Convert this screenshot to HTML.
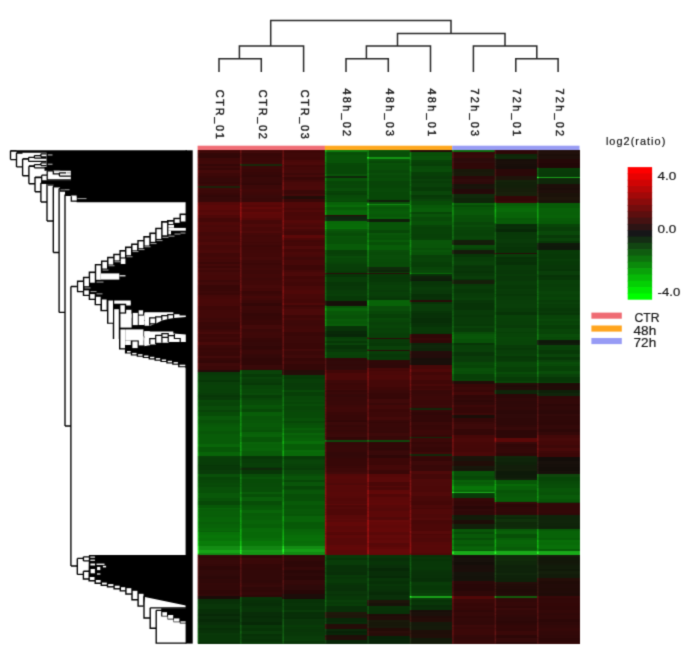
<!DOCTYPE html>
<html><head><meta charset="utf-8"><style>
html,body{margin:0;padding:0;background:#fff;width:685px;height:655px;overflow:hidden}
svg{display:block}
</style></head><body>
<svg width="685" height="655" viewBox="0 0 685 655">
<defs><filter id="sb" x="0" y="0" width="685" height="655" filterUnits="userSpaceOnUse" color-interpolation-filters="sRGB"><feConvolveMatrix order="3" kernelMatrix="0.025 0.1 0.025 0.1 0.5 0.1 0.025 0.1 0.025" edgeMode="duplicate" preserveAlpha="true"/></filter></defs>
<g filter="url(#sb)">
<rect width="685" height="655" fill="#fff"/>
<g fill="none" stroke="#262626" stroke-width="1.5"><path d="M219 72.1V58.7H261.3V72.1"/><path d="M239.4 58.7V46.1H303.6V72.1"/><path d="M270.7 46.1V20.4H451V33.5"/><path d="M346 72.1V58.7H388.3V72.1"/><path d="M366.4 58.7V46.1H430.5V72.1"/><path d="M397.5 46.1V33.5H505V46.1"/><path d="M515.8 72.1V58.7H558.1V72.1"/><path d="M536.8 58.7V46.1H473.4V72.1"/></g>
<g font-family="&quot;Liberation Sans&quot;, sans-serif" font-size="10.9" fill="#111" stroke="#111" stroke-width="0.4"><text transform="translate(216.12,89.7) rotate(90)" textLength="49.2" lengthAdjust="spacing">CTR_01</text><text transform="translate(258.55,89.7) rotate(90)" textLength="49.2" lengthAdjust="spacing">CTR_02</text><text transform="translate(300.98,89.7) rotate(90)" textLength="49.2" lengthAdjust="spacing">CTR_03</text><text transform="translate(343.41,88.6) rotate(90)" textLength="47.4" lengthAdjust="spacing">48h_02</text><text transform="translate(385.83,88.6) rotate(90)" textLength="47.4" lengthAdjust="spacing">48h_03</text><text transform="translate(428.27,88.6) rotate(90)" textLength="47.4" lengthAdjust="spacing">48h_01</text><text transform="translate(470.69,88.6) rotate(90)" textLength="47.4" lengthAdjust="spacing">72h_03</text><text transform="translate(513.12,88.6) rotate(90)" textLength="47.4" lengthAdjust="spacing">72h_01</text><text transform="translate(555.55,88.6) rotate(90)" textLength="47.4" lengthAdjust="spacing">72h_02</text></g>
<rect x="197.6" y="145.7" width="127.34" height="4.6" fill="#f06e76"/><rect x="324.89" y="145.7" width="127.34" height="4.6" fill="#ffa81e"/><rect x="452.18" y="145.7" width="127.34" height="4.6" fill="#989cf4"/>
<g><g shape-rendering="crispEdges"><rect x="197.6" y="150" width="382" height="494" fill="#200808"/><rect x="197.6" y="150" width="42.73" height="3" fill="#3e0808"/><rect x="197.6" y="153" width="42.73" height="2" fill="#320707"/><rect x="197.6" y="155" width="42.73" height="3" fill="#310707"/><rect x="197.6" y="158" width="42.73" height="3" fill="#3e0808"/><rect x="197.6" y="161" width="42.73" height="2" fill="#400808"/><rect x="197.6" y="163" width="42.73" height="1" fill="#3f0808"/><rect x="197.6" y="164" width="42.73" height="2" fill="#340707"/><rect x="197.6" y="166" width="42.73" height="2" fill="#3d0808"/><rect x="197.6" y="168" width="42.73" height="2" fill="#360707"/><rect x="197.6" y="170" width="42.73" height="3" fill="#440909"/><rect x="197.6" y="173" width="42.73" height="3" fill="#3d0808"/><rect x="197.6" y="176" width="42.73" height="2" fill="#380707"/><rect x="197.6" y="178" width="42.73" height="4" fill="#350808"/><rect x="197.6" y="182" width="42.73" height="2" fill="#330707"/><rect x="197.6" y="184" width="42.73" height="2" fill="#3b0808"/><rect x="197.6" y="186" width="42.73" height="2" fill="#1c220a"/><rect x="197.6" y="188" width="42.73" height="2" fill="#3e0808"/><rect x="197.6" y="190" width="42.73" height="3" fill="#3b0808"/><rect x="197.6" y="193" width="42.73" height="2" fill="#370707"/><rect x="197.6" y="195" width="42.73" height="2" fill="#320707"/><rect x="197.6" y="197" width="42.73" height="3" fill="#350808"/><rect x="197.6" y="200" width="42.73" height="2" fill="#370808"/><rect x="197.6" y="202" width="42.73" height="3" fill="#550808"/><rect x="197.6" y="205" width="42.73" height="5" fill="#5c0808"/><rect x="197.6" y="210" width="42.73" height="2" fill="#540808"/><rect x="197.6" y="212" width="42.73" height="3" fill="#590909"/><rect x="197.6" y="215" width="42.73" height="3" fill="#4f0808"/><rect x="197.6" y="218" width="42.73" height="4" fill="#440707"/><rect x="197.6" y="222" width="42.73" height="3" fill="#4f0808"/><rect x="197.6" y="225" width="42.73" height="2" fill="#4a0808"/><rect x="197.6" y="227" width="42.73" height="2" fill="#4d0808"/><rect x="197.6" y="229" width="42.73" height="3" fill="#4c0808"/><rect x="197.6" y="232" width="42.73" height="4" fill="#440808"/><rect x="197.6" y="236" width="42.73" height="3" fill="#490808"/><rect x="197.6" y="239" width="42.73" height="3" fill="#460808"/><rect x="197.6" y="242" width="42.73" height="3" fill="#4e0909"/><rect x="197.6" y="245" width="42.73" height="3" fill="#460808"/><rect x="197.6" y="248" width="42.73" height="2" fill="#470808"/><rect x="197.6" y="250" width="42.73" height="3" fill="#4b0909"/><rect x="197.6" y="253" width="42.73" height="4" fill="#410808"/><rect x="197.6" y="257" width="42.73" height="2" fill="#460808"/><rect x="197.6" y="259" width="42.73" height="3" fill="#430808"/><rect x="197.6" y="262" width="42.73" height="2" fill="#3b0707"/><rect x="197.6" y="264" width="42.73" height="2" fill="#440808"/><rect x="197.6" y="266" width="42.73" height="2" fill="#3d0707"/><rect x="197.6" y="268" width="42.73" height="2" fill="#450909"/><rect x="197.6" y="270" width="42.73" height="2" fill="#3f0808"/><rect x="197.6" y="272" width="42.73" height="3" fill="#450909"/><rect x="197.6" y="275" width="42.73" height="5" fill="#450808"/><rect x="197.6" y="280" width="42.73" height="2" fill="#3c0808"/><rect x="197.6" y="282" width="42.73" height="3" fill="#420909"/><rect x="197.6" y="285" width="42.73" height="4" fill="#380707"/><rect x="197.6" y="289" width="42.73" height="2" fill="#390707"/><rect x="197.6" y="291" width="42.73" height="2" fill="#3c0808"/><rect x="197.6" y="293" width="42.73" height="2" fill="#3a0707"/><rect x="197.6" y="295" width="42.73" height="2" fill="#440808"/><rect x="197.6" y="297" width="42.73" height="2" fill="#460808"/><rect x="197.6" y="299" width="42.73" height="4" fill="#480808"/><rect x="197.6" y="303" width="42.73" height="3" fill="#470808"/><rect x="197.6" y="306" width="42.73" height="4" fill="#3f0707"/><rect x="197.6" y="310" width="42.73" height="4" fill="#420808"/><rect x="197.6" y="314" width="42.73" height="4" fill="#420808"/><rect x="197.6" y="318" width="42.73" height="2" fill="#3d0808"/><rect x="197.6" y="320" width="42.73" height="2" fill="#400808"/><rect x="197.6" y="322" width="42.73" height="2" fill="#390707"/><rect x="197.6" y="324" width="42.73" height="2" fill="#3a0707"/><rect x="197.6" y="326" width="42.73" height="3" fill="#380707"/><rect x="197.6" y="329" width="42.73" height="1" fill="#3a0707"/><rect x="197.6" y="330" width="42.73" height="2" fill="#400808"/><rect x="197.6" y="332" width="42.73" height="2" fill="#470909"/><rect x="197.6" y="334" width="42.73" height="3" fill="#3d0707"/><rect x="197.6" y="337" width="42.73" height="2" fill="#400808"/><rect x="197.6" y="339" width="42.73" height="3" fill="#3d0707"/><rect x="197.6" y="342" width="42.73" height="3" fill="#490909"/><rect x="197.6" y="345" width="42.73" height="3" fill="#3c0808"/><rect x="197.6" y="348" width="42.73" height="2" fill="#380707"/><rect x="197.6" y="350" width="42.73" height="2" fill="#3a0707"/><rect x="197.6" y="352" width="42.73" height="4" fill="#380707"/><rect x="197.6" y="356" width="42.73" height="2" fill="#430909"/><rect x="197.6" y="358" width="42.73" height="2" fill="#380707"/><rect x="197.6" y="360" width="42.73" height="3" fill="#330707"/><rect x="197.6" y="363" width="42.73" height="3" fill="#3f0909"/><rect x="197.6" y="366" width="42.73" height="4" fill="#3c0808"/><rect x="197.6" y="370" width="42.73" height="2" fill="#230a08"/><rect x="197.6" y="372" width="42.73" height="3" fill="#083808"/><rect x="197.6" y="375" width="42.73" height="2" fill="#083c08"/><rect x="197.6" y="377" width="42.73" height="3" fill="#083d08"/><rect x="197.6" y="380" width="42.73" height="2" fill="#073607"/><rect x="197.6" y="382" width="42.73" height="3" fill="#093f09"/><rect x="197.6" y="385" width="42.73" height="4" fill="#084108"/><rect x="197.6" y="389" width="42.73" height="4" fill="#084008"/><rect x="197.6" y="393" width="42.73" height="2" fill="#083d08"/><rect x="197.6" y="395" width="42.73" height="2" fill="#073707"/><rect x="197.6" y="397" width="42.73" height="3" fill="#083a08"/><rect x="197.6" y="400" width="42.73" height="2" fill="#084808"/><rect x="197.6" y="402" width="42.73" height="4" fill="#084408"/><rect x="197.6" y="406" width="42.73" height="4" fill="#094c09"/><rect x="197.6" y="410" width="42.73" height="2" fill="#084308"/><rect x="197.6" y="412" width="42.73" height="2" fill="#074c07"/><rect x="197.6" y="414" width="42.73" height="2" fill="#074c07"/><rect x="197.6" y="416" width="42.73" height="4" fill="#095809"/><rect x="197.6" y="420" width="42.73" height="3" fill="#085008"/><rect x="197.6" y="423" width="42.73" height="2" fill="#085608"/><rect x="197.6" y="425" width="42.73" height="2" fill="#085a08"/><rect x="197.6" y="427" width="42.73" height="4" fill="#085c08"/><rect x="197.6" y="431" width="42.73" height="3" fill="#085608"/><rect x="197.6" y="434" width="42.73" height="2" fill="#085c08"/><rect x="197.6" y="436" width="42.73" height="4" fill="#085c08"/><rect x="197.6" y="440" width="42.73" height="4" fill="#085b08"/><rect x="197.6" y="444" width="42.73" height="3" fill="#096609"/><rect x="197.6" y="447" width="42.73" height="3" fill="#075707"/><rect x="197.6" y="450" width="42.73" height="2" fill="#075707"/><rect x="197.6" y="452" width="42.73" height="4" fill="#086408"/><rect x="197.6" y="456" width="42.73" height="2" fill="#083f08"/><rect x="197.6" y="458" width="42.73" height="4" fill="#083d08"/><rect x="197.6" y="462" width="42.73" height="3" fill="#083c08"/><rect x="197.6" y="465" width="42.73" height="1" fill="#073507"/><rect x="197.6" y="466" width="42.73" height="4" fill="#083808"/><rect x="197.6" y="470" width="42.73" height="4" fill="#093b09"/><rect x="197.6" y="474" width="42.73" height="3" fill="#095009"/><rect x="197.6" y="477" width="42.73" height="3" fill="#074507"/><rect x="197.6" y="480" width="42.73" height="3" fill="#084708"/><rect x="197.6" y="483" width="42.73" height="2" fill="#084b08"/><rect x="197.6" y="485" width="42.73" height="2" fill="#084908"/><rect x="197.6" y="487" width="42.73" height="3" fill="#095009"/><rect x="197.6" y="490" width="42.73" height="3" fill="#085008"/><rect x="197.6" y="493" width="42.73" height="3" fill="#095809"/><rect x="197.6" y="496" width="42.73" height="2" fill="#095809"/><rect x="197.6" y="498" width="42.73" height="3" fill="#085108"/><rect x="197.6" y="501" width="42.73" height="4" fill="#074807"/><rect x="197.6" y="505" width="42.73" height="3" fill="#075707"/><rect x="197.6" y="508" width="42.73" height="1" fill="#086408"/><rect x="197.6" y="509" width="42.73" height="2" fill="#085d08"/><rect x="197.6" y="511" width="42.73" height="4" fill="#085f08"/><rect x="197.6" y="515" width="42.73" height="2" fill="#085e08"/><rect x="197.6" y="517" width="42.73" height="3" fill="#086308"/><rect x="197.6" y="520" width="42.73" height="2" fill="#086408"/><rect x="197.6" y="522" width="42.73" height="2" fill="#085e08"/><rect x="197.6" y="524" width="42.73" height="4" fill="#086308"/><rect x="197.6" y="528" width="42.73" height="3" fill="#086808"/><rect x="197.6" y="531" width="42.73" height="1" fill="#086108"/><rect x="197.6" y="532" width="42.73" height="3" fill="#087108"/><rect x="197.6" y="535" width="42.73" height="3" fill="#087608"/><rect x="197.6" y="538" width="42.73" height="3" fill="#087208"/><rect x="197.6" y="541" width="42.73" height="3" fill="#097c09"/><rect x="197.6" y="544" width="42.73" height="2" fill="#097a09"/><rect x="197.6" y="546" width="42.73" height="4" fill="#138c13"/><rect x="197.6" y="550" width="42.73" height="3" fill="#16a216"/><rect x="197.6" y="553" width="42.73" height="2" fill="#128812"/><rect x="197.6" y="555" width="42.73" height="2" fill="#320808"/><rect x="197.6" y="557" width="42.73" height="1" fill="#2f0707"/><rect x="197.6" y="558" width="42.73" height="2" fill="#340808"/><rect x="197.6" y="560" width="42.73" height="4" fill="#370909"/><rect x="197.6" y="564" width="42.73" height="2" fill="#350808"/><rect x="197.6" y="566" width="42.73" height="4" fill="#2e0707"/><rect x="197.6" y="570" width="42.73" height="4" fill="#320909"/><rect x="197.6" y="574" width="42.73" height="2" fill="#310909"/><rect x="197.6" y="576" width="42.73" height="3" fill="#2d0808"/><rect x="197.6" y="579" width="42.73" height="4" fill="#300808"/><rect x="197.6" y="583" width="42.73" height="2" fill="#330808"/><rect x="197.6" y="585" width="42.73" height="3" fill="#320808"/><rect x="197.6" y="588" width="42.73" height="2" fill="#320808"/><rect x="197.6" y="590" width="42.73" height="4" fill="#2f0707"/><rect x="197.6" y="594" width="42.73" height="2" fill="#330808"/><rect x="197.6" y="596" width="42.73" height="3" fill="#1a0c08"/><rect x="197.6" y="599" width="42.73" height="2" fill="#082f08"/><rect x="197.6" y="601" width="42.73" height="3" fill="#083108"/><rect x="197.6" y="604" width="42.73" height="2" fill="#093609"/><rect x="197.6" y="606" width="42.73" height="3" fill="#093609"/><rect x="197.6" y="609" width="42.73" height="3" fill="#072f07"/><rect x="197.6" y="612" width="42.73" height="2" fill="#082e08"/><rect x="197.6" y="614" width="42.73" height="2" fill="#072807"/><rect x="197.6" y="616" width="42.73" height="3" fill="#092f09"/><rect x="197.6" y="619" width="42.73" height="3" fill="#072907"/><rect x="197.6" y="622" width="42.73" height="3" fill="#092f09"/><rect x="197.6" y="625" width="42.73" height="3" fill="#083508"/><rect x="197.6" y="628" width="42.73" height="2" fill="#072e07"/><rect x="197.6" y="630" width="42.73" height="3" fill="#083208"/><rect x="197.6" y="633" width="42.73" height="2" fill="#093809"/><rect x="197.6" y="635" width="42.73" height="3" fill="#083708"/><rect x="197.6" y="638" width="42.73" height="2" fill="#083708"/><rect x="197.6" y="640" width="42.73" height="2" fill="#083708"/><rect x="197.6" y="642" width="42.73" height="2" fill="#083108"/><rect x="240.03" y="150" width="42.73" height="3" fill="#400909"/><rect x="240.03" y="153" width="42.73" height="3" fill="#360707"/><rect x="240.03" y="156" width="42.73" height="2" fill="#380707"/><rect x="240.03" y="158" width="42.73" height="2" fill="#3a0707"/><rect x="240.03" y="160" width="42.73" height="2" fill="#3a0707"/><rect x="240.03" y="162" width="42.73" height="2" fill="#3c0808"/><rect x="240.03" y="164" width="42.73" height="2" fill="#19280a"/><rect x="240.03" y="166" width="42.73" height="3" fill="#3a0808"/><rect x="240.03" y="169" width="42.73" height="3" fill="#390707"/><rect x="240.03" y="172" width="42.73" height="3" fill="#360707"/><rect x="240.03" y="175" width="42.73" height="2" fill="#320707"/><rect x="240.03" y="177" width="42.73" height="4" fill="#380808"/><rect x="240.03" y="181" width="42.73" height="2" fill="#370808"/><rect x="240.03" y="183" width="42.73" height="2" fill="#330707"/><rect x="240.03" y="185" width="42.73" height="4" fill="#3c0808"/><rect x="240.03" y="189" width="42.73" height="3" fill="#410808"/><rect x="240.03" y="192" width="42.73" height="3" fill="#3d0808"/><rect x="240.03" y="195" width="42.73" height="3" fill="#390909"/><rect x="240.03" y="198" width="42.73" height="3" fill="#380808"/><rect x="240.03" y="201" width="42.73" height="1" fill="#360808"/><rect x="240.03" y="202" width="42.73" height="3" fill="#5b0808"/><rect x="240.03" y="205" width="42.73" height="2" fill="#560707"/><rect x="240.03" y="207" width="42.73" height="2" fill="#620808"/><rect x="240.03" y="209" width="42.73" height="3" fill="#570707"/><rect x="240.03" y="212" width="42.73" height="2" fill="#610808"/><rect x="240.03" y="214" width="42.73" height="4" fill="#5d0808"/><rect x="240.03" y="218" width="42.73" height="2" fill="#550707"/><rect x="240.03" y="220" width="42.73" height="2" fill="#460808"/><rect x="240.03" y="222" width="42.73" height="2" fill="#460808"/><rect x="240.03" y="224" width="42.73" height="3" fill="#4e0909"/><rect x="240.03" y="227" width="42.73" height="4" fill="#480808"/><rect x="240.03" y="231" width="42.73" height="2" fill="#4e0909"/><rect x="240.03" y="233" width="42.73" height="2" fill="#450808"/><rect x="240.03" y="235" width="42.73" height="2" fill="#420808"/><rect x="240.03" y="237" width="42.73" height="2" fill="#440808"/><rect x="240.03" y="239" width="42.73" height="3" fill="#440808"/><rect x="240.03" y="242" width="42.73" height="1" fill="#400707"/><rect x="240.03" y="243" width="42.73" height="2" fill="#420808"/><rect x="240.03" y="245" width="42.73" height="2" fill="#3d0707"/><rect x="240.03" y="247" width="42.73" height="3" fill="#400707"/><rect x="240.03" y="250" width="42.73" height="3" fill="#410808"/><rect x="240.03" y="253" width="42.73" height="4" fill="#420808"/><rect x="240.03" y="257" width="42.73" height="3" fill="#450909"/><rect x="240.03" y="260" width="42.73" height="3" fill="#3e0808"/><rect x="240.03" y="263" width="42.73" height="2" fill="#3b0707"/><rect x="240.03" y="265" width="42.73" height="3" fill="#3f0808"/><rect x="240.03" y="268" width="42.73" height="2" fill="#410808"/><rect x="240.03" y="270" width="42.73" height="4" fill="#3e0808"/><rect x="240.03" y="274" width="42.73" height="4" fill="#410808"/><rect x="240.03" y="278" width="42.73" height="2" fill="#3d0808"/><rect x="240.03" y="280" width="42.73" height="2" fill="#410808"/><rect x="240.03" y="282" width="42.73" height="3" fill="#410808"/><rect x="240.03" y="285" width="42.73" height="3" fill="#460909"/><rect x="240.03" y="288" width="42.73" height="3" fill="#430808"/><rect x="240.03" y="291" width="42.73" height="3" fill="#3a0707"/><rect x="240.03" y="294" width="42.73" height="2" fill="#3e0808"/><rect x="240.03" y="296" width="42.73" height="2" fill="#450808"/><rect x="240.03" y="298" width="42.73" height="2" fill="#420808"/><rect x="240.03" y="300" width="42.73" height="3" fill="#3b0808"/><rect x="240.03" y="303" width="42.73" height="3" fill="#330707"/><rect x="240.03" y="306" width="42.73" height="4" fill="#3c0808"/><rect x="240.03" y="310" width="42.73" height="3" fill="#3a0808"/><rect x="240.03" y="313" width="42.73" height="3" fill="#340707"/><rect x="240.03" y="316" width="42.73" height="4" fill="#360707"/><rect x="240.03" y="320" width="42.73" height="2" fill="#3a0707"/><rect x="240.03" y="322" width="42.73" height="3" fill="#390707"/><rect x="240.03" y="325" width="42.73" height="4" fill="#430909"/><rect x="240.03" y="329" width="42.73" height="3" fill="#3b0808"/><rect x="240.03" y="332" width="42.73" height="3" fill="#3f0808"/><rect x="240.03" y="335" width="42.73" height="3" fill="#3e0808"/><rect x="240.03" y="338" width="42.73" height="2" fill="#370707"/><rect x="240.03" y="340" width="42.73" height="2" fill="#350707"/><rect x="240.03" y="342" width="42.73" height="4" fill="#350808"/><rect x="240.03" y="346" width="42.73" height="3" fill="#320707"/><rect x="240.03" y="349" width="42.73" height="1" fill="#350707"/><rect x="240.03" y="350" width="42.73" height="4" fill="#3a0808"/><rect x="240.03" y="354" width="42.73" height="1" fill="#350808"/><rect x="240.03" y="355" width="42.73" height="3" fill="#340808"/><rect x="240.03" y="358" width="42.73" height="3" fill="#300707"/><rect x="240.03" y="361" width="42.73" height="4" fill="#310707"/><rect x="240.03" y="365" width="42.73" height="4" fill="#390909"/><rect x="240.03" y="369" width="42.73" height="1" fill="#340808"/><rect x="240.03" y="370" width="42.73" height="4" fill="#094309"/><rect x="240.03" y="374" width="42.73" height="3" fill="#073a07"/><rect x="240.03" y="377" width="42.73" height="2" fill="#094309"/><rect x="240.03" y="379" width="42.73" height="2" fill="#083e08"/><rect x="240.03" y="381" width="42.73" height="2" fill="#083d08"/><rect x="240.03" y="383" width="42.73" height="2" fill="#073807"/><rect x="240.03" y="385" width="42.73" height="4" fill="#084508"/><rect x="240.03" y="389" width="42.73" height="4" fill="#084808"/><rect x="240.03" y="393" width="42.73" height="2" fill="#094b09"/><rect x="240.03" y="395" width="42.73" height="3" fill="#073e07"/><rect x="240.03" y="398" width="42.73" height="2" fill="#084508"/><rect x="240.03" y="400" width="42.73" height="3" fill="#084b08"/><rect x="240.03" y="403" width="42.73" height="2" fill="#084c08"/><rect x="240.03" y="405" width="42.73" height="2" fill="#085508"/><rect x="240.03" y="407" width="42.73" height="2" fill="#085308"/><rect x="240.03" y="409" width="42.73" height="3" fill="#074807"/><rect x="240.03" y="412" width="42.73" height="4" fill="#085d08"/><rect x="240.03" y="416" width="42.73" height="4" fill="#085508"/><rect x="240.03" y="420" width="42.73" height="3" fill="#085708"/><rect x="240.03" y="423" width="42.73" height="4" fill="#085a08"/><rect x="240.03" y="427" width="42.73" height="3" fill="#085708"/><rect x="240.03" y="430" width="42.73" height="2" fill="#075207"/><rect x="240.03" y="432" width="42.73" height="2" fill="#086108"/><rect x="240.03" y="434" width="42.73" height="3" fill="#096309"/><rect x="240.03" y="437" width="42.73" height="2" fill="#075607"/><rect x="240.03" y="439" width="42.73" height="3" fill="#075507"/><rect x="240.03" y="442" width="42.73" height="2" fill="#096309"/><rect x="240.03" y="444" width="42.73" height="4" fill="#086108"/><rect x="240.03" y="448" width="42.73" height="3" fill="#096309"/><rect x="240.03" y="451" width="42.73" height="5" fill="#085c08"/><rect x="240.03" y="456" width="42.73" height="3" fill="#073707"/><rect x="240.03" y="459" width="42.73" height="4" fill="#083c08"/><rect x="240.03" y="463" width="42.73" height="4" fill="#083f08"/><rect x="240.03" y="467" width="42.73" height="1" fill="#073707"/><rect x="240.03" y="468" width="42.73" height="2" fill="#0f280a"/><rect x="240.03" y="470" width="42.73" height="4" fill="#073607"/><rect x="240.03" y="474" width="42.73" height="3" fill="#084c08"/><rect x="240.03" y="477" width="42.73" height="2" fill="#085308"/><rect x="240.03" y="479" width="42.73" height="4" fill="#074b07"/><rect x="240.03" y="483" width="42.73" height="4" fill="#084b08"/><rect x="240.03" y="487" width="42.73" height="3" fill="#084d08"/><rect x="240.03" y="490" width="42.73" height="2" fill="#074e07"/><rect x="240.03" y="492" width="42.73" height="2" fill="#095b09"/><rect x="240.03" y="494" width="42.73" height="3" fill="#074f07"/><rect x="240.03" y="497" width="42.73" height="4" fill="#095d09"/><rect x="240.03" y="501" width="42.73" height="3" fill="#074d07"/><rect x="240.03" y="504" width="42.73" height="1" fill="#074c07"/><rect x="240.03" y="505" width="42.73" height="2" fill="#075507"/><rect x="240.03" y="507" width="42.73" height="3" fill="#075907"/><rect x="240.03" y="510" width="42.73" height="3" fill="#096509"/><rect x="240.03" y="513" width="42.73" height="3" fill="#085c08"/><rect x="240.03" y="516" width="42.73" height="4" fill="#085e08"/><rect x="240.03" y="520" width="42.73" height="3" fill="#086408"/><rect x="240.03" y="523" width="42.73" height="1" fill="#086308"/><rect x="240.03" y="524" width="42.73" height="4" fill="#075f07"/><rect x="240.03" y="528" width="42.73" height="4" fill="#086a08"/><rect x="240.03" y="532" width="42.73" height="4" fill="#076807"/><rect x="240.03" y="536" width="42.73" height="2" fill="#076807"/><rect x="240.03" y="538" width="42.73" height="3" fill="#086d08"/><rect x="240.03" y="541" width="42.73" height="5" fill="#087708"/><rect x="240.03" y="546" width="42.73" height="4" fill="#128512"/><rect x="240.03" y="550" width="42.73" height="2" fill="#159a15"/><rect x="240.03" y="552" width="42.73" height="3" fill="#149314"/><rect x="240.03" y="555" width="42.73" height="3" fill="#300707"/><rect x="240.03" y="558" width="42.73" height="2" fill="#3b0909"/><rect x="240.03" y="560" width="42.73" height="4" fill="#3a0808"/><rect x="240.03" y="564" width="42.73" height="4" fill="#330707"/><rect x="240.03" y="568" width="42.73" height="2" fill="#320707"/><rect x="240.03" y="570" width="42.73" height="3" fill="#320808"/><rect x="240.03" y="573" width="42.73" height="4" fill="#320808"/><rect x="240.03" y="577" width="42.73" height="3" fill="#320808"/><rect x="240.03" y="580" width="42.73" height="3" fill="#300808"/><rect x="240.03" y="583" width="42.73" height="2" fill="#350808"/><rect x="240.03" y="585" width="42.73" height="2" fill="#370909"/><rect x="240.03" y="587" width="42.73" height="3" fill="#300808"/><rect x="240.03" y="590" width="42.73" height="2" fill="#300707"/><rect x="240.03" y="592" width="42.73" height="3" fill="#340808"/><rect x="240.03" y="595" width="42.73" height="2" fill="#2e0707"/><rect x="240.03" y="597" width="42.73" height="3" fill="#083408"/><rect x="240.03" y="600" width="42.73" height="3" fill="#073007"/><rect x="240.03" y="603" width="42.73" height="3" fill="#072e07"/><rect x="240.03" y="606" width="42.73" height="2" fill="#083308"/><rect x="240.03" y="608" width="42.73" height="4" fill="#083508"/><rect x="240.03" y="612" width="42.73" height="4" fill="#082d08"/><rect x="240.03" y="616" width="42.73" height="2" fill="#072b07"/><rect x="240.03" y="618" width="42.73" height="4" fill="#082f08"/><rect x="240.03" y="622" width="42.73" height="3" fill="#072907"/><rect x="240.03" y="625" width="42.73" height="3" fill="#083808"/><rect x="240.03" y="628" width="42.73" height="3" fill="#073307"/><rect x="240.03" y="631" width="42.73" height="3" fill="#093b09"/><rect x="240.03" y="634" width="42.73" height="2" fill="#073107"/><rect x="240.03" y="636" width="42.73" height="3" fill="#083508"/><rect x="240.03" y="639" width="42.73" height="3" fill="#073307"/><rect x="240.03" y="642" width="42.73" height="2" fill="#083908"/><rect x="282.46" y="150" width="42.73" height="3" fill="#3e0707"/><rect x="282.46" y="153" width="42.73" height="4" fill="#3f0808"/><rect x="282.46" y="157" width="42.73" height="3" fill="#3e0707"/><rect x="282.46" y="160" width="42.73" height="2" fill="#490808"/><rect x="282.46" y="162" width="42.73" height="3" fill="#4c0909"/><rect x="282.46" y="165" width="42.73" height="2" fill="#410707"/><rect x="282.46" y="167" width="42.73" height="3" fill="#440808"/><rect x="282.46" y="170" width="42.73" height="3" fill="#440909"/><rect x="282.46" y="173" width="42.73" height="2" fill="#3d0808"/><rect x="282.46" y="175" width="42.73" height="2" fill="#450909"/><rect x="282.46" y="177" width="42.73" height="3" fill="#380707"/><rect x="282.46" y="180" width="42.73" height="2" fill="#420808"/><rect x="282.46" y="182" width="42.73" height="4" fill="#490909"/><rect x="282.46" y="186" width="42.73" height="4" fill="#4b0909"/><rect x="282.46" y="190" width="42.73" height="4" fill="#3a0808"/><rect x="282.46" y="194" width="42.73" height="2" fill="#420909"/><rect x="282.46" y="196" width="42.73" height="3" fill="#230c08"/><rect x="282.46" y="199" width="42.73" height="3" fill="#380707"/><rect x="282.46" y="202" width="42.73" height="4" fill="#510808"/><rect x="282.46" y="206" width="42.73" height="2" fill="#500808"/><rect x="282.46" y="208" width="42.73" height="2" fill="#4a0707"/><rect x="282.46" y="210" width="42.73" height="2" fill="#510808"/><rect x="282.46" y="212" width="42.73" height="4" fill="#490707"/><rect x="282.46" y="216" width="42.73" height="4" fill="#4b0707"/><rect x="282.46" y="220" width="42.73" height="3" fill="#550808"/><rect x="282.46" y="223" width="42.73" height="2" fill="#4f0808"/><rect x="282.46" y="225" width="42.73" height="2" fill="#4a0808"/><rect x="282.46" y="227" width="42.73" height="2" fill="#510909"/><rect x="282.46" y="229" width="42.73" height="2" fill="#480808"/><rect x="282.46" y="231" width="42.73" height="4" fill="#430707"/><rect x="282.46" y="235" width="42.73" height="3" fill="#5c0808"/><rect x="282.46" y="238" width="42.73" height="2" fill="#4e0707"/><rect x="282.46" y="240" width="42.73" height="2" fill="#420707"/><rect x="282.46" y="242" width="42.73" height="4" fill="#450707"/><rect x="282.46" y="246" width="42.73" height="3" fill="#4f0909"/><rect x="282.46" y="249" width="42.73" height="3" fill="#450707"/><rect x="282.46" y="252" width="42.73" height="3" fill="#4b0808"/><rect x="282.46" y="255" width="42.73" height="2" fill="#470808"/><rect x="282.46" y="257" width="42.73" height="3" fill="#400808"/><rect x="282.46" y="260" width="42.73" height="1" fill="#470808"/><rect x="282.46" y="261" width="42.73" height="4" fill="#460808"/><rect x="282.46" y="265" width="42.73" height="5" fill="#3d0707"/><rect x="282.46" y="270" width="42.73" height="2" fill="#450808"/><rect x="282.46" y="272" width="42.73" height="4" fill="#4c0909"/><rect x="282.46" y="276" width="42.73" height="3" fill="#420707"/><rect x="282.46" y="279" width="42.73" height="3" fill="#450808"/><rect x="282.46" y="282" width="42.73" height="4" fill="#410707"/><rect x="282.46" y="286" width="42.73" height="4" fill="#490808"/><rect x="282.46" y="290" width="42.73" height="4" fill="#4f0808"/><rect x="282.46" y="294" width="42.73" height="3" fill="#480808"/><rect x="282.46" y="297" width="42.73" height="2" fill="#480808"/><rect x="282.46" y="299" width="42.73" height="4" fill="#440707"/><rect x="282.46" y="303" width="42.73" height="2" fill="#4f0808"/><rect x="282.46" y="305" width="42.73" height="2" fill="#3d0707"/><rect x="282.46" y="307" width="42.73" height="2" fill="#440808"/><rect x="282.46" y="309" width="42.73" height="2" fill="#4b0909"/><rect x="282.46" y="311" width="42.73" height="4" fill="#4b0909"/><rect x="282.46" y="315" width="42.73" height="3" fill="#3e0707"/><rect x="282.46" y="318" width="42.73" height="2" fill="#440808"/><rect x="282.46" y="320" width="42.73" height="3" fill="#3e0808"/><rect x="282.46" y="323" width="42.73" height="3" fill="#3d0808"/><rect x="282.46" y="326" width="42.73" height="3" fill="#410808"/><rect x="282.46" y="329" width="42.73" height="3" fill="#430808"/><rect x="282.46" y="332" width="42.73" height="4" fill="#390707"/><rect x="282.46" y="336" width="42.73" height="4" fill="#3c0808"/><rect x="282.46" y="340" width="42.73" height="3" fill="#3b0808"/><rect x="282.46" y="343" width="42.73" height="4" fill="#390707"/><rect x="282.46" y="347" width="42.73" height="2" fill="#390707"/><rect x="282.46" y="349" width="42.73" height="2" fill="#420909"/><rect x="282.46" y="351" width="42.73" height="4" fill="#3a0808"/><rect x="282.46" y="355" width="42.73" height="3" fill="#3f0909"/><rect x="282.46" y="358" width="42.73" height="3" fill="#360707"/><rect x="282.46" y="361" width="42.73" height="3" fill="#3b0808"/><rect x="282.46" y="364" width="42.73" height="6" fill="#340707"/><rect x="282.46" y="370" width="42.73" height="2" fill="#250d08"/><rect x="282.46" y="372" width="42.73" height="3" fill="#260d09"/><rect x="282.46" y="375" width="42.73" height="2" fill="#083a08"/><rect x="282.46" y="377" width="42.73" height="2" fill="#073907"/><rect x="282.46" y="379" width="42.73" height="4" fill="#083e08"/><rect x="282.46" y="383" width="42.73" height="4" fill="#083b08"/><rect x="282.46" y="387" width="42.73" height="3" fill="#083c08"/><rect x="282.46" y="390" width="42.73" height="2" fill="#084908"/><rect x="282.46" y="392" width="42.73" height="4" fill="#073f07"/><rect x="282.46" y="396" width="42.73" height="4" fill="#084708"/><rect x="282.46" y="400" width="42.73" height="2" fill="#084908"/><rect x="282.46" y="402" width="42.73" height="2" fill="#074607"/><rect x="282.46" y="404" width="42.73" height="2" fill="#084c08"/><rect x="282.46" y="406" width="42.73" height="4" fill="#074607"/><rect x="282.46" y="410" width="42.73" height="2" fill="#084808"/><rect x="282.46" y="412" width="42.73" height="3" fill="#074a07"/><rect x="282.46" y="415" width="42.73" height="3" fill="#074a07"/><rect x="282.46" y="418" width="42.73" height="3" fill="#085008"/><rect x="282.46" y="421" width="42.73" height="2" fill="#074807"/><rect x="282.46" y="423" width="42.73" height="2" fill="#085008"/><rect x="282.46" y="425" width="42.73" height="3" fill="#075307"/><rect x="282.46" y="428" width="42.73" height="2" fill="#085e08"/><rect x="282.46" y="430" width="42.73" height="3" fill="#085608"/><rect x="282.46" y="433" width="42.73" height="2" fill="#096309"/><rect x="282.46" y="435" width="42.73" height="3" fill="#085c08"/><rect x="282.46" y="438" width="42.73" height="3" fill="#086108"/><rect x="282.46" y="441" width="42.73" height="3" fill="#096d09"/><rect x="282.46" y="444" width="42.73" height="3" fill="#075c07"/><rect x="282.46" y="447" width="42.73" height="3" fill="#075c07"/><rect x="282.46" y="450" width="42.73" height="2" fill="#096b09"/><rect x="282.46" y="452" width="42.73" height="3" fill="#086908"/><rect x="282.46" y="455" width="42.73" height="1" fill="#096b09"/><rect x="282.46" y="456" width="42.73" height="3" fill="#073b07"/><rect x="282.46" y="459" width="42.73" height="1" fill="#084008"/><rect x="282.46" y="460" width="42.73" height="4" fill="#094509"/><rect x="282.46" y="464" width="42.73" height="2" fill="#084108"/><rect x="282.46" y="466" width="42.73" height="2" fill="#083f08"/><rect x="282.46" y="468" width="42.73" height="2" fill="#083c08"/><rect x="282.46" y="470" width="42.73" height="4" fill="#094509"/><rect x="282.46" y="474" width="42.73" height="2" fill="#084d08"/><rect x="282.46" y="476" width="42.73" height="4" fill="#095409"/><rect x="282.46" y="480" width="42.73" height="2" fill="#074707"/><rect x="282.46" y="482" width="42.73" height="4" fill="#095509"/><rect x="282.46" y="486" width="42.73" height="3" fill="#074607"/><rect x="282.46" y="489" width="42.73" height="1" fill="#084b08"/><rect x="282.46" y="490" width="42.73" height="4" fill="#085608"/><rect x="282.46" y="494" width="42.73" height="4" fill="#074e07"/><rect x="282.46" y="498" width="42.73" height="3" fill="#074f07"/><rect x="282.46" y="501" width="42.73" height="4" fill="#085a08"/><rect x="282.46" y="505" width="42.73" height="4" fill="#075407"/><rect x="282.46" y="509" width="42.73" height="2" fill="#085908"/><rect x="282.46" y="511" width="42.73" height="3" fill="#085808"/><rect x="282.46" y="514" width="42.73" height="2" fill="#075607"/><rect x="282.46" y="516" width="42.73" height="4" fill="#096209"/><rect x="282.46" y="520" width="42.73" height="2" fill="#086408"/><rect x="282.46" y="522" width="42.73" height="3" fill="#075907"/><rect x="282.46" y="525" width="42.73" height="4" fill="#075a07"/><rect x="282.46" y="529" width="42.73" height="3" fill="#086408"/><rect x="282.46" y="532" width="42.73" height="3" fill="#086808"/><rect x="282.46" y="535" width="42.73" height="3" fill="#086e08"/><rect x="282.46" y="538" width="42.73" height="3" fill="#087008"/><rect x="282.46" y="541" width="42.73" height="2" fill="#086b08"/><rect x="282.46" y="543" width="42.73" height="3" fill="#086f08"/><rect x="282.46" y="546" width="42.73" height="3" fill="#138b13"/><rect x="282.46" y="549" width="42.73" height="3" fill="#159d15"/><rect x="282.46" y="552" width="42.73" height="3" fill="#128a12"/><rect x="282.46" y="555" width="42.73" height="2" fill="#2e0707"/><rect x="282.46" y="557" width="42.73" height="2" fill="#320808"/><rect x="282.46" y="559" width="42.73" height="2" fill="#320808"/><rect x="282.46" y="561" width="42.73" height="3" fill="#2d0707"/><rect x="282.46" y="564" width="42.73" height="3" fill="#2e0707"/><rect x="282.46" y="567" width="42.73" height="3" fill="#350808"/><rect x="282.46" y="570" width="42.73" height="3" fill="#2a0707"/><rect x="282.46" y="573" width="42.73" height="3" fill="#2e0808"/><rect x="282.46" y="576" width="42.73" height="4" fill="#2b0707"/><rect x="282.46" y="580" width="42.73" height="4" fill="#340909"/><rect x="282.46" y="584" width="42.73" height="1" fill="#320808"/><rect x="282.46" y="585" width="42.73" height="2" fill="#2e0909"/><rect x="282.46" y="587" width="42.73" height="3" fill="#2e0909"/><rect x="282.46" y="590" width="42.73" height="4" fill="#270707"/><rect x="282.46" y="594" width="42.73" height="4" fill="#1c0d09"/><rect x="282.46" y="598" width="42.73" height="1" fill="#190b08"/><rect x="282.46" y="599" width="42.73" height="4" fill="#073207"/><rect x="282.46" y="603" width="42.73" height="3" fill="#083408"/><rect x="282.46" y="606" width="42.73" height="4" fill="#073207"/><rect x="282.46" y="610" width="42.73" height="2" fill="#093b09"/><rect x="282.46" y="612" width="42.73" height="2" fill="#072f07"/><rect x="282.46" y="614" width="42.73" height="3" fill="#082f08"/><rect x="282.46" y="617" width="42.73" height="2" fill="#072e07"/><rect x="282.46" y="619" width="42.73" height="2" fill="#093609"/><rect x="282.46" y="621" width="42.73" height="4" fill="#093509"/><rect x="282.46" y="625" width="42.73" height="2" fill="#083b08"/><rect x="282.46" y="627" width="42.73" height="2" fill="#083808"/><rect x="282.46" y="629" width="42.73" height="3" fill="#083608"/><rect x="282.46" y="632" width="42.73" height="4" fill="#083808"/><rect x="282.46" y="636" width="42.73" height="3" fill="#093c09"/><rect x="282.46" y="639" width="42.73" height="2" fill="#093d09"/><rect x="282.46" y="641" width="42.73" height="3" fill="#083608"/><rect x="324.89" y="150" width="42.73" height="2" fill="#0e7d0e"/><rect x="324.89" y="152" width="42.73" height="3" fill="#075007"/><rect x="324.89" y="155" width="42.73" height="5" fill="#085508"/><rect x="324.89" y="160" width="42.73" height="3" fill="#085308"/><rect x="324.89" y="163" width="42.73" height="2" fill="#074907"/><rect x="324.89" y="165" width="42.73" height="5" fill="#074707"/><rect x="324.89" y="170" width="42.73" height="4" fill="#074707"/><rect x="324.89" y="174" width="42.73" height="2" fill="#095309"/><rect x="324.89" y="176" width="42.73" height="2" fill="#0f280a"/><rect x="324.89" y="178" width="42.73" height="3" fill="#085208"/><rect x="324.89" y="181" width="42.73" height="3" fill="#074607"/><rect x="324.89" y="184" width="42.73" height="1" fill="#074907"/><rect x="324.89" y="185" width="42.73" height="3" fill="#084608"/><rect x="324.89" y="188" width="42.73" height="3" fill="#094d09"/><rect x="324.89" y="191" width="42.73" height="2" fill="#074307"/><rect x="324.89" y="193" width="42.73" height="2" fill="#074007"/><rect x="324.89" y="195" width="42.73" height="2" fill="#084a08"/><rect x="324.89" y="197" width="42.73" height="1" fill="#084a08"/><rect x="324.89" y="198" width="42.73" height="3" fill="#084e08"/><rect x="324.89" y="201" width="42.73" height="1" fill="#074807"/><rect x="324.89" y="202" width="42.73" height="3" fill="#086208"/><rect x="324.89" y="205" width="42.73" height="2" fill="#096c09"/><rect x="324.89" y="207" width="42.73" height="3" fill="#075b07"/><rect x="324.89" y="210" width="42.73" height="1" fill="#086508"/><rect x="324.89" y="211" width="42.73" height="4" fill="#086808"/><rect x="324.89" y="215" width="42.73" height="1" fill="#280c08"/><rect x="324.89" y="216" width="42.73" height="3" fill="#0e250e"/><rect x="324.89" y="219" width="42.73" height="2" fill="#0f290f"/><rect x="324.89" y="221" width="42.73" height="3" fill="#086908"/><rect x="324.89" y="224" width="42.73" height="4" fill="#086b08"/><rect x="324.89" y="228" width="42.73" height="1" fill="#087208"/><rect x="324.89" y="229" width="42.73" height="2" fill="#095809"/><rect x="324.89" y="231" width="42.73" height="2" fill="#085108"/><rect x="324.89" y="233" width="42.73" height="3" fill="#074c07"/><rect x="324.89" y="236" width="42.73" height="1" fill="#085608"/><rect x="324.89" y="237" width="42.73" height="3" fill="#085208"/><rect x="324.89" y="240" width="42.73" height="4" fill="#075207"/><rect x="324.89" y="244" width="42.73" height="2" fill="#085b08"/><rect x="324.89" y="246" width="42.73" height="4" fill="#085b08"/><rect x="324.89" y="250" width="42.73" height="4" fill="#074007"/><rect x="324.89" y="254" width="42.73" height="2" fill="#084208"/><rect x="324.89" y="256" width="42.73" height="2" fill="#094b09"/><rect x="324.89" y="258" width="42.73" height="4" fill="#084808"/><rect x="324.89" y="262" width="42.73" height="2" fill="#084408"/><rect x="324.89" y="264" width="42.73" height="3" fill="#083f08"/><rect x="324.89" y="267" width="42.73" height="4" fill="#083e08"/><rect x="324.89" y="271" width="42.73" height="2" fill="#073a07"/><rect x="324.89" y="273" width="42.73" height="1" fill="#280e08"/><rect x="324.89" y="274" width="42.73" height="3" fill="#073407"/><rect x="324.89" y="277" width="42.73" height="2" fill="#083c08"/><rect x="324.89" y="279" width="42.73" height="3" fill="#083d08"/><rect x="324.89" y="282" width="42.73" height="4" fill="#073607"/><rect x="324.89" y="286" width="42.73" height="4" fill="#083808"/><rect x="324.89" y="290" width="42.73" height="4" fill="#083d08"/><rect x="324.89" y="294" width="42.73" height="2" fill="#083f08"/><rect x="324.89" y="296" width="42.73" height="5" fill="#073907"/><rect x="324.89" y="301" width="42.73" height="5" fill="#161009"/><rect x="324.89" y="306" width="42.73" height="2" fill="#075607"/><rect x="324.89" y="308" width="42.73" height="3" fill="#096309"/><rect x="324.89" y="311" width="42.73" height="4" fill="#085708"/><rect x="324.89" y="315" width="42.73" height="4" fill="#085208"/><rect x="324.89" y="319" width="42.73" height="2" fill="#095c09"/><rect x="324.89" y="321" width="42.73" height="3" fill="#085808"/><rect x="324.89" y="324" width="42.73" height="2" fill="#095d09"/><rect x="324.89" y="326" width="42.73" height="3" fill="#083308"/><rect x="324.89" y="329" width="42.73" height="2" fill="#083308"/><rect x="324.89" y="331" width="42.73" height="3" fill="#082908"/><rect x="324.89" y="334" width="42.73" height="3" fill="#082608"/><rect x="324.89" y="337" width="42.73" height="2" fill="#083f08"/><rect x="324.89" y="339" width="42.73" height="2" fill="#094209"/><rect x="324.89" y="341" width="42.73" height="2" fill="#073707"/><rect x="324.89" y="343" width="42.73" height="2" fill="#094309"/><rect x="324.89" y="345" width="42.73" height="2" fill="#073307"/><rect x="324.89" y="347" width="42.73" height="2" fill="#073207"/><rect x="324.89" y="349" width="42.73" height="3" fill="#083908"/><rect x="324.89" y="352" width="42.73" height="3" fill="#084208"/><rect x="324.89" y="355" width="42.73" height="3" fill="#084008"/><rect x="324.89" y="358" width="42.73" height="3" fill="#300808"/><rect x="324.89" y="361" width="42.73" height="3" fill="#310909"/><rect x="324.89" y="364" width="42.73" height="2" fill="#310808"/><rect x="324.89" y="366" width="42.73" height="4" fill="#310909"/><rect x="324.89" y="370" width="42.73" height="1" fill="#430707"/><rect x="324.89" y="371" width="42.73" height="2" fill="#400707"/><rect x="324.89" y="373" width="42.73" height="4" fill="#4c0808"/><rect x="324.89" y="377" width="42.73" height="3" fill="#4c0808"/><rect x="324.89" y="380" width="42.73" height="3" fill="#3e0808"/><rect x="324.89" y="383" width="42.73" height="2" fill="#3b0707"/><rect x="324.89" y="385" width="42.73" height="4" fill="#3d0707"/><rect x="324.89" y="389" width="42.73" height="1" fill="#400808"/><rect x="324.89" y="390" width="42.73" height="2" fill="#350707"/><rect x="324.89" y="392" width="42.73" height="2" fill="#3a0808"/><rect x="324.89" y="394" width="42.73" height="3" fill="#350808"/><rect x="324.89" y="397" width="42.73" height="4" fill="#380808"/><rect x="324.89" y="401" width="42.73" height="4" fill="#390808"/><rect x="324.89" y="405" width="42.73" height="2" fill="#3c0808"/><rect x="324.89" y="407" width="42.73" height="2" fill="#400808"/><rect x="324.89" y="409" width="42.73" height="3" fill="#3f0808"/><rect x="324.89" y="412" width="42.73" height="3" fill="#390707"/><rect x="324.89" y="415" width="42.73" height="4" fill="#370707"/><rect x="324.89" y="419" width="42.73" height="1" fill="#380707"/><rect x="324.89" y="420" width="42.73" height="2" fill="#320707"/><rect x="324.89" y="422" width="42.73" height="3" fill="#3b0909"/><rect x="324.89" y="425" width="42.73" height="2" fill="#360808"/><rect x="324.89" y="427" width="42.73" height="3" fill="#390808"/><rect x="324.89" y="430" width="42.73" height="2" fill="#360808"/><rect x="324.89" y="432" width="42.73" height="2" fill="#3a0808"/><rect x="324.89" y="434" width="42.73" height="3" fill="#3b0909"/><rect x="324.89" y="437" width="42.73" height="3" fill="#320707"/><rect x="324.89" y="440" width="42.73" height="2" fill="#0f460c"/><rect x="324.89" y="442" width="42.73" height="3" fill="#340808"/><rect x="324.89" y="445" width="42.73" height="2" fill="#360808"/><rect x="324.89" y="447" width="42.73" height="2" fill="#370808"/><rect x="324.89" y="449" width="42.73" height="3" fill="#370808"/><rect x="324.89" y="452" width="42.73" height="4" fill="#320808"/><rect x="324.89" y="456" width="42.73" height="2" fill="#330808"/><rect x="324.89" y="458" width="42.73" height="4" fill="#370707"/><rect x="324.89" y="462" width="42.73" height="4" fill="#370707"/><rect x="324.89" y="466" width="42.73" height="2" fill="#3a0707"/><rect x="324.89" y="468" width="42.73" height="4" fill="#3d0808"/><rect x="324.89" y="472" width="42.73" height="2" fill="#420909"/><rect x="324.89" y="474" width="42.73" height="2" fill="#520808"/><rect x="324.89" y="476" width="42.73" height="3" fill="#570808"/><rect x="324.89" y="479" width="42.73" height="4" fill="#550808"/><rect x="324.89" y="483" width="42.73" height="2" fill="#4f0808"/><rect x="324.89" y="485" width="42.73" height="2" fill="#580808"/><rect x="324.89" y="487" width="42.73" height="3" fill="#570808"/><rect x="324.89" y="490" width="42.73" height="2" fill="#560808"/><rect x="324.89" y="492" width="42.73" height="4" fill="#580808"/><rect x="324.89" y="496" width="42.73" height="2" fill="#560808"/><rect x="324.89" y="498" width="42.73" height="3" fill="#520707"/><rect x="324.89" y="501" width="42.73" height="3" fill="#530808"/><rect x="324.89" y="504" width="42.73" height="1" fill="#5d0808"/><rect x="324.89" y="505" width="42.73" height="2" fill="#4f0707"/><rect x="324.89" y="507" width="42.73" height="2" fill="#520808"/><rect x="324.89" y="509" width="42.73" height="3" fill="#4f0707"/><rect x="324.89" y="512" width="42.73" height="3" fill="#4f0707"/><rect x="324.89" y="515" width="42.73" height="4" fill="#590808"/><rect x="324.89" y="519" width="42.73" height="1" fill="#5d0909"/><rect x="324.89" y="520" width="42.73" height="2" fill="#5a0808"/><rect x="324.89" y="522" width="42.73" height="4" fill="#620808"/><rect x="324.89" y="526" width="42.73" height="4" fill="#5b0808"/><rect x="324.89" y="530" width="42.73" height="2" fill="#5f0808"/><rect x="324.89" y="532" width="42.73" height="2" fill="#560707"/><rect x="324.89" y="534" width="42.73" height="1" fill="#530707"/><rect x="324.89" y="535" width="42.73" height="3" fill="#5e0808"/><rect x="324.89" y="538" width="42.73" height="3" fill="#580808"/><rect x="324.89" y="541" width="42.73" height="4" fill="#580808"/><rect x="324.89" y="545" width="42.73" height="2" fill="#600808"/><rect x="324.89" y="547" width="42.73" height="3" fill="#620808"/><rect x="324.89" y="550" width="42.73" height="5" fill="#5c0808"/><rect x="324.89" y="555" width="42.73" height="3" fill="#083a08"/><rect x="324.89" y="558" width="42.73" height="2" fill="#073407"/><rect x="324.89" y="560" width="42.73" height="5" fill="#093c09"/><rect x="324.89" y="565" width="42.73" height="4" fill="#083108"/><rect x="324.89" y="569" width="42.73" height="3" fill="#083108"/><rect x="324.89" y="572" width="42.73" height="3" fill="#082f08"/><rect x="324.89" y="575" width="42.73" height="2" fill="#083908"/><rect x="324.89" y="577" width="42.73" height="2" fill="#083608"/><rect x="324.89" y="579" width="42.73" height="4" fill="#083a08"/><rect x="324.89" y="583" width="42.73" height="2" fill="#073407"/><rect x="324.89" y="585" width="42.73" height="3" fill="#083108"/><rect x="324.89" y="588" width="42.73" height="3" fill="#083008"/><rect x="324.89" y="591" width="42.73" height="3" fill="#093609"/><rect x="324.89" y="594" width="42.73" height="2" fill="#083308"/><rect x="324.89" y="596" width="42.73" height="4" fill="#083808"/><rect x="324.89" y="600" width="42.73" height="2" fill="#093f09"/><rect x="324.89" y="602" width="42.73" height="2" fill="#083a08"/><rect x="324.89" y="604" width="42.73" height="2" fill="#083d08"/><rect x="324.89" y="606" width="42.73" height="4" fill="#082f08"/><rect x="324.89" y="610" width="42.73" height="2" fill="#083008"/><rect x="324.89" y="612" width="42.73" height="3" fill="#1f170a"/><rect x="324.89" y="615" width="42.73" height="3" fill="#1e160a"/><rect x="324.89" y="618" width="42.73" height="4" fill="#082808"/><rect x="324.89" y="622" width="42.73" height="2" fill="#092b09"/><rect x="324.89" y="624" width="42.73" height="2" fill="#240c08"/><rect x="324.89" y="626" width="42.73" height="3" fill="#250c08"/><rect x="324.89" y="629" width="42.73" height="2" fill="#092909"/><rect x="324.89" y="631" width="42.73" height="2" fill="#072207"/><rect x="324.89" y="633" width="42.73" height="2" fill="#082508"/><rect x="324.89" y="635" width="42.73" height="2" fill="#1e0e08"/><rect x="324.89" y="637" width="42.73" height="3" fill="#200e08"/><rect x="324.89" y="640" width="42.73" height="4" fill="#072507"/><rect x="367.32" y="150" width="42.73" height="2" fill="#085308"/><rect x="367.32" y="152" width="42.73" height="5" fill="#084f08"/><rect x="367.32" y="157" width="42.73" height="2" fill="#149614"/><rect x="367.32" y="159" width="42.73" height="2" fill="#085208"/><rect x="367.32" y="161" width="42.73" height="2" fill="#074807"/><rect x="367.32" y="163" width="42.73" height="2" fill="#085108"/><rect x="367.32" y="165" width="42.73" height="5" fill="#084f08"/><rect x="367.32" y="170" width="42.73" height="3" fill="#084808"/><rect x="367.32" y="173" width="42.73" height="2" fill="#094e09"/><rect x="367.32" y="175" width="42.73" height="3" fill="#084908"/><rect x="367.32" y="178" width="42.73" height="3" fill="#084c08"/><rect x="367.32" y="181" width="42.73" height="4" fill="#084408"/><rect x="367.32" y="185" width="42.73" height="3" fill="#074507"/><rect x="367.32" y="188" width="42.73" height="4" fill="#084908"/><rect x="367.32" y="192" width="42.73" height="4" fill="#074707"/><rect x="367.32" y="196" width="42.73" height="2" fill="#074707"/><rect x="367.32" y="198" width="42.73" height="2" fill="#074607"/><rect x="367.32" y="200" width="42.73" height="2" fill="#0f1e0a"/><rect x="367.32" y="202" width="42.73" height="2" fill="#085008"/><rect x="367.32" y="204" width="42.73" height="1" fill="#148c14"/><rect x="367.32" y="205" width="42.73" height="2" fill="#085f08"/><rect x="367.32" y="207" width="42.73" height="2" fill="#075607"/><rect x="367.32" y="209" width="42.73" height="2" fill="#085a08"/><rect x="367.32" y="211" width="42.73" height="3" fill="#085d08"/><rect x="367.32" y="214" width="42.73" height="3" fill="#085808"/><rect x="367.32" y="217" width="42.73" height="2" fill="#086108"/><rect x="367.32" y="219" width="42.73" height="3" fill="#0f1e0a"/><rect x="367.32" y="222" width="42.73" height="2" fill="#085408"/><rect x="367.32" y="224" width="42.73" height="4" fill="#085408"/><rect x="367.32" y="228" width="42.73" height="2" fill="#085408"/><rect x="367.32" y="230" width="42.73" height="3" fill="#074707"/><rect x="367.32" y="233" width="42.73" height="2" fill="#095609"/><rect x="367.32" y="235" width="42.73" height="3" fill="#075207"/><rect x="367.32" y="238" width="42.73" height="2" fill="#075007"/><rect x="367.32" y="240" width="42.73" height="2" fill="#085c08"/><rect x="367.32" y="242" width="42.73" height="3" fill="#075007"/><rect x="367.32" y="245" width="42.73" height="5" fill="#085c08"/><rect x="367.32" y="250" width="42.73" height="2" fill="#094d09"/><rect x="367.32" y="252" width="42.73" height="3" fill="#084b08"/><rect x="367.32" y="255" width="42.73" height="4" fill="#094d09"/><rect x="367.32" y="259" width="42.73" height="3" fill="#084c08"/><rect x="367.32" y="262" width="42.73" height="2" fill="#084a08"/><rect x="367.32" y="264" width="42.73" height="3" fill="#084b08"/><rect x="367.32" y="267" width="42.73" height="3" fill="#0f2b0b"/><rect x="367.32" y="270" width="42.73" height="2" fill="#0d2509"/><rect x="367.32" y="272" width="42.73" height="1" fill="#083c08"/><rect x="367.32" y="273" width="42.73" height="1" fill="#280e08"/><rect x="367.32" y="274" width="42.73" height="3" fill="#073807"/><rect x="367.32" y="277" width="42.73" height="2" fill="#073707"/><rect x="367.32" y="279" width="42.73" height="3" fill="#073807"/><rect x="367.32" y="282" width="42.73" height="3" fill="#083d08"/><rect x="367.32" y="285" width="42.73" height="3" fill="#084008"/><rect x="367.32" y="288" width="42.73" height="2" fill="#083f08"/><rect x="367.32" y="290" width="42.73" height="2" fill="#083c08"/><rect x="367.32" y="292" width="42.73" height="4" fill="#083f08"/><rect x="367.32" y="296" width="42.73" height="2" fill="#083a08"/><rect x="367.32" y="298" width="42.73" height="2" fill="#073607"/><rect x="367.32" y="300" width="42.73" height="4" fill="#086308"/><rect x="367.32" y="304" width="42.73" height="2" fill="#086308"/><rect x="367.32" y="306" width="42.73" height="3" fill="#094d09"/><rect x="367.32" y="309" width="42.73" height="2" fill="#094e09"/><rect x="367.32" y="311" width="42.73" height="3" fill="#084708"/><rect x="367.32" y="314" width="42.73" height="4" fill="#074007"/><rect x="367.32" y="318" width="42.73" height="2" fill="#084908"/><rect x="367.32" y="320" width="42.73" height="2" fill="#084608"/><rect x="367.32" y="322" width="42.73" height="3" fill="#084108"/><rect x="367.32" y="325" width="42.73" height="3" fill="#084508"/><rect x="367.32" y="328" width="42.73" height="2" fill="#084008"/><rect x="367.32" y="330" width="42.73" height="3" fill="#084208"/><rect x="367.32" y="333" width="42.73" height="5" fill="#083e08"/><rect x="367.32" y="338" width="42.73" height="1" fill="#2c0c08"/><rect x="367.32" y="339" width="42.73" height="4" fill="#083a08"/><rect x="367.32" y="343" width="42.73" height="3" fill="#073807"/><rect x="367.32" y="346" width="42.73" height="4" fill="#094109"/><rect x="367.32" y="350" width="42.73" height="1" fill="#280c08"/><rect x="367.32" y="351" width="42.73" height="3" fill="#083d08"/><rect x="367.32" y="354" width="42.73" height="3" fill="#083708"/><rect x="367.32" y="357" width="42.73" height="3" fill="#083a08"/><rect x="367.32" y="360" width="42.73" height="3" fill="#300808"/><rect x="367.32" y="363" width="42.73" height="2" fill="#2f0808"/><rect x="367.32" y="365" width="42.73" height="3" fill="#2e0808"/><rect x="367.32" y="368" width="42.73" height="2" fill="#470808"/><rect x="367.32" y="370" width="42.73" height="1" fill="#450707"/><rect x="367.32" y="371" width="42.73" height="4" fill="#4b0808"/><rect x="367.32" y="375" width="42.73" height="4" fill="#4e0808"/><rect x="367.32" y="379" width="42.73" height="1" fill="#4b0808"/><rect x="367.32" y="380" width="42.73" height="3" fill="#450808"/><rect x="367.32" y="383" width="42.73" height="4" fill="#450808"/><rect x="367.32" y="387" width="42.73" height="3" fill="#3f0707"/><rect x="367.32" y="390" width="42.73" height="3" fill="#3a0808"/><rect x="367.32" y="393" width="42.73" height="4" fill="#360707"/><rect x="367.32" y="397" width="42.73" height="2" fill="#350707"/><rect x="367.32" y="399" width="42.73" height="4" fill="#400909"/><rect x="367.32" y="403" width="42.73" height="2" fill="#390808"/><rect x="367.32" y="405" width="42.73" height="4" fill="#420808"/><rect x="367.32" y="409" width="42.73" height="3" fill="#3b0707"/><rect x="367.32" y="412" width="42.73" height="2" fill="#3d0808"/><rect x="367.32" y="414" width="42.73" height="3" fill="#3d0808"/><rect x="367.32" y="417" width="42.73" height="3" fill="#440909"/><rect x="367.32" y="420" width="42.73" height="2" fill="#380808"/><rect x="367.32" y="422" width="42.73" height="1" fill="#330707"/><rect x="367.32" y="423" width="42.73" height="4" fill="#380808"/><rect x="367.32" y="427" width="42.73" height="4" fill="#370808"/><rect x="367.32" y="431" width="42.73" height="2" fill="#360808"/><rect x="367.32" y="433" width="42.73" height="3" fill="#3d0909"/><rect x="367.32" y="436" width="42.73" height="4" fill="#370808"/><rect x="367.32" y="440" width="42.73" height="2" fill="#0f460c"/><rect x="367.32" y="442" width="42.73" height="2" fill="#300707"/><rect x="367.32" y="444" width="42.73" height="4" fill="#310707"/><rect x="367.32" y="448" width="42.73" height="2" fill="#2f0707"/><rect x="367.32" y="450" width="42.73" height="1" fill="#360808"/><rect x="367.32" y="451" width="42.73" height="2" fill="#390909"/><rect x="367.32" y="453" width="42.73" height="2" fill="#380909"/><rect x="367.32" y="455" width="42.73" height="3" fill="#2f0707"/><rect x="367.32" y="458" width="42.73" height="3" fill="#3d0707"/><rect x="367.32" y="461" width="42.73" height="4" fill="#3c0707"/><rect x="367.32" y="465" width="42.73" height="2" fill="#440808"/><rect x="367.32" y="467" width="42.73" height="3" fill="#450808"/><rect x="367.32" y="470" width="42.73" height="4" fill="#3a0707"/><rect x="367.32" y="474" width="42.73" height="3" fill="#560808"/><rect x="367.32" y="477" width="42.73" height="3" fill="#5a0909"/><rect x="367.32" y="480" width="42.73" height="2" fill="#5a0909"/><rect x="367.32" y="482" width="42.73" height="4" fill="#4a0707"/><rect x="367.32" y="486" width="42.73" height="1" fill="#550808"/><rect x="367.32" y="487" width="42.73" height="3" fill="#4b0707"/><rect x="367.32" y="490" width="42.73" height="2" fill="#5f0808"/><rect x="367.32" y="492" width="42.73" height="2" fill="#610808"/><rect x="367.32" y="494" width="42.73" height="3" fill="#520707"/><rect x="367.32" y="497" width="42.73" height="3" fill="#5c0808"/><rect x="367.32" y="500" width="42.73" height="3" fill="#5e0808"/><rect x="367.32" y="503" width="42.73" height="2" fill="#600808"/><rect x="367.32" y="505" width="42.73" height="3" fill="#590808"/><rect x="367.32" y="508" width="42.73" height="3" fill="#550808"/><rect x="367.32" y="511" width="42.73" height="2" fill="#5c0808"/><rect x="367.32" y="513" width="42.73" height="4" fill="#5c0808"/><rect x="367.32" y="517" width="42.73" height="3" fill="#530808"/><rect x="367.32" y="520" width="42.73" height="2" fill="#670909"/><rect x="367.32" y="522" width="42.73" height="3" fill="#640808"/><rect x="367.32" y="525" width="42.73" height="3" fill="#600808"/><rect x="367.32" y="528" width="42.73" height="4" fill="#640808"/><rect x="367.32" y="532" width="42.73" height="3" fill="#5a0808"/><rect x="367.32" y="535" width="42.73" height="3" fill="#620909"/><rect x="367.32" y="538" width="42.73" height="2" fill="#5e0808"/><rect x="367.32" y="540" width="42.73" height="3" fill="#620909"/><rect x="367.32" y="543" width="42.73" height="2" fill="#560808"/><rect x="367.32" y="545" width="42.73" height="2" fill="#590707"/><rect x="367.32" y="547" width="42.73" height="2" fill="#5f0808"/><rect x="367.32" y="549" width="42.73" height="4" fill="#650909"/><rect x="367.32" y="553" width="42.73" height="2" fill="#640808"/><rect x="367.32" y="555" width="42.73" height="3" fill="#083508"/><rect x="367.32" y="558" width="42.73" height="3" fill="#082f08"/><rect x="367.32" y="561" width="42.73" height="4" fill="#083408"/><rect x="367.32" y="565" width="42.73" height="3" fill="#092f09"/><rect x="367.32" y="568" width="42.73" height="3" fill="#072807"/><rect x="367.32" y="571" width="42.73" height="3" fill="#082e08"/><rect x="367.32" y="574" width="42.73" height="2" fill="#082e08"/><rect x="367.32" y="576" width="42.73" height="2" fill="#072907"/><rect x="367.32" y="578" width="42.73" height="3" fill="#083508"/><rect x="367.32" y="581" width="42.73" height="3" fill="#073007"/><rect x="367.32" y="584" width="42.73" height="2" fill="#083608"/><rect x="367.32" y="586" width="42.73" height="4" fill="#083308"/><rect x="367.32" y="590" width="42.73" height="2" fill="#082f08"/><rect x="367.32" y="592" width="42.73" height="3" fill="#072a07"/><rect x="367.32" y="595" width="42.73" height="4" fill="#093009"/><rect x="367.32" y="599" width="42.73" height="1" fill="#082d08"/><rect x="367.32" y="600" width="42.73" height="3" fill="#1e140a"/><rect x="367.32" y="603" width="42.73" height="3" fill="#181209"/><rect x="367.32" y="606" width="42.73" height="2" fill="#083308"/><rect x="367.32" y="608" width="42.73" height="3" fill="#083208"/><rect x="367.32" y="611" width="42.73" height="3" fill="#083108"/><rect x="367.32" y="614" width="42.73" height="2" fill="#1f0b07"/><rect x="367.32" y="616" width="42.73" height="4" fill="#220c08"/><rect x="367.32" y="620" width="42.73" height="2" fill="#19190a"/><rect x="367.32" y="622" width="42.73" height="4" fill="#171709"/><rect x="367.32" y="626" width="42.73" height="2" fill="#18180a"/><rect x="367.32" y="628" width="42.73" height="3" fill="#230b07"/><rect x="367.32" y="631" width="42.73" height="2" fill="#2b0d09"/><rect x="367.32" y="633" width="42.73" height="3" fill="#270c08"/><rect x="367.32" y="636" width="42.73" height="3" fill="#072207"/><rect x="367.32" y="639" width="42.73" height="5" fill="#082308"/><rect x="409.75" y="150" width="42.73" height="2" fill="#230e08"/><rect x="409.75" y="152" width="42.73" height="4" fill="#084f08"/><rect x="409.75" y="156" width="42.73" height="4" fill="#095209"/><rect x="409.75" y="160" width="42.73" height="2" fill="#074307"/><rect x="409.75" y="162" width="42.73" height="2" fill="#074007"/><rect x="409.75" y="164" width="42.73" height="2" fill="#073e07"/><rect x="409.75" y="166" width="42.73" height="3" fill="#094a09"/><rect x="409.75" y="169" width="42.73" height="3" fill="#094c09"/><rect x="409.75" y="172" width="42.73" height="4" fill="#073f07"/><rect x="409.75" y="176" width="42.73" height="3" fill="#083a08"/><rect x="409.75" y="179" width="42.73" height="2" fill="#094109"/><rect x="409.75" y="181" width="42.73" height="2" fill="#083c08"/><rect x="409.75" y="183" width="42.73" height="4" fill="#094109"/><rect x="409.75" y="187" width="42.73" height="1" fill="#083a08"/><rect x="409.75" y="188" width="42.73" height="3" fill="#073a07"/><rect x="409.75" y="191" width="42.73" height="4" fill="#094609"/><rect x="409.75" y="195" width="42.73" height="2" fill="#073907"/><rect x="409.75" y="197" width="42.73" height="2" fill="#083d08"/><rect x="409.75" y="199" width="42.73" height="2" fill="#094409"/><rect x="409.75" y="201" width="42.73" height="4" fill="#074d07"/><rect x="409.75" y="205" width="42.73" height="3" fill="#085808"/><rect x="409.75" y="208" width="42.73" height="4" fill="#095d09"/><rect x="409.75" y="212" width="42.73" height="2" fill="#074707"/><rect x="409.75" y="214" width="42.73" height="3" fill="#095409"/><rect x="409.75" y="217" width="42.73" height="4" fill="#084a08"/><rect x="409.75" y="221" width="42.73" height="4" fill="#085108"/><rect x="409.75" y="225" width="42.73" height="2" fill="#084408"/><rect x="409.75" y="227" width="42.73" height="2" fill="#074107"/><rect x="409.75" y="229" width="42.73" height="3" fill="#074207"/><rect x="409.75" y="232" width="42.73" height="2" fill="#074207"/><rect x="409.75" y="234" width="42.73" height="4" fill="#074007"/><rect x="409.75" y="238" width="42.73" height="2" fill="#074207"/><rect x="409.75" y="240" width="42.73" height="2" fill="#095609"/><rect x="409.75" y="242" width="42.73" height="2" fill="#095609"/><rect x="409.75" y="244" width="42.73" height="4" fill="#095509"/><rect x="409.75" y="248" width="42.73" height="2" fill="#084e08"/><rect x="409.75" y="250" width="42.73" height="2" fill="#095609"/><rect x="409.75" y="252" width="42.73" height="3" fill="#085108"/><rect x="409.75" y="255" width="42.73" height="3" fill="#084108"/><rect x="409.75" y="258" width="42.73" height="4" fill="#084308"/><rect x="409.75" y="262" width="42.73" height="3" fill="#073e07"/><rect x="409.75" y="265" width="42.73" height="2" fill="#073d07"/><rect x="409.75" y="267" width="42.73" height="3" fill="#084408"/><rect x="409.75" y="270" width="42.73" height="3" fill="#094809"/><rect x="409.75" y="273" width="42.73" height="1" fill="#086908"/><rect x="409.75" y="274" width="42.73" height="2" fill="#083208"/><rect x="409.75" y="276" width="42.73" height="2" fill="#0e210a"/><rect x="409.75" y="278" width="42.73" height="2" fill="#0d2009"/><rect x="409.75" y="280" width="42.73" height="1" fill="#0c1a0a"/><rect x="409.75" y="281" width="42.73" height="4" fill="#083508"/><rect x="409.75" y="285" width="42.73" height="2" fill="#083708"/><rect x="409.75" y="287" width="42.73" height="3" fill="#093c09"/><rect x="409.75" y="290" width="42.73" height="2" fill="#093809"/><rect x="409.75" y="292" width="42.73" height="2" fill="#093809"/><rect x="409.75" y="294" width="42.73" height="3" fill="#073007"/><rect x="409.75" y="297" width="42.73" height="3" fill="#083108"/><rect x="409.75" y="300" width="42.73" height="2" fill="#280c08"/><rect x="409.75" y="302" width="42.73" height="2" fill="#073407"/><rect x="409.75" y="304" width="42.73" height="3" fill="#093d09"/><rect x="409.75" y="307" width="42.73" height="4" fill="#093c09"/><rect x="409.75" y="311" width="42.73" height="2" fill="#083508"/><rect x="409.75" y="313" width="42.73" height="2" fill="#073207"/><rect x="409.75" y="315" width="42.73" height="3" fill="#083108"/><rect x="409.75" y="318" width="42.73" height="5" fill="#072e07"/><rect x="409.75" y="323" width="42.73" height="2" fill="#083108"/><rect x="409.75" y="325" width="42.73" height="2" fill="#073307"/><rect x="409.75" y="327" width="42.73" height="4" fill="#083908"/><rect x="409.75" y="331" width="42.73" height="2" fill="#083808"/><rect x="409.75" y="333" width="42.73" height="1" fill="#073607"/><rect x="409.75" y="334" width="42.73" height="4" fill="#300707"/><rect x="409.75" y="338" width="42.73" height="2" fill="#370808"/><rect x="409.75" y="340" width="42.73" height="3" fill="#310707"/><rect x="409.75" y="343" width="42.73" height="2" fill="#0d2409"/><rect x="409.75" y="345" width="42.73" height="3" fill="#0f270a"/><rect x="409.75" y="348" width="42.73" height="3" fill="#0e2509"/><rect x="409.75" y="351" width="42.73" height="3" fill="#240c0a"/><rect x="409.75" y="354" width="42.73" height="4" fill="#230c0a"/><rect x="409.75" y="358" width="42.73" height="2" fill="#180e09"/><rect x="409.75" y="360" width="42.73" height="4" fill="#190f0a"/><rect x="409.75" y="364" width="42.73" height="1" fill="#180e09"/><rect x="409.75" y="365" width="42.73" height="4" fill="#470808"/><rect x="409.75" y="369" width="42.73" height="3" fill="#4f0808"/><rect x="409.75" y="372" width="42.73" height="3" fill="#420707"/><rect x="409.75" y="375" width="42.73" height="5" fill="#490808"/><rect x="409.75" y="380" width="42.73" height="4" fill="#400707"/><rect x="409.75" y="384" width="42.73" height="2" fill="#480808"/><rect x="409.75" y="386" width="42.73" height="3" fill="#3f0707"/><rect x="409.75" y="389" width="42.73" height="1" fill="#450808"/><rect x="409.75" y="390" width="42.73" height="2" fill="#380808"/><rect x="409.75" y="392" width="42.73" height="2" fill="#380808"/><rect x="409.75" y="394" width="42.73" height="2" fill="#3a0808"/><rect x="409.75" y="396" width="42.73" height="4" fill="#3c0808"/><rect x="409.75" y="400" width="42.73" height="2" fill="#3a0808"/><rect x="409.75" y="402" width="42.73" height="3" fill="#3a0808"/><rect x="409.75" y="405" width="42.73" height="2" fill="#3c0909"/><rect x="409.75" y="407" width="42.73" height="1" fill="#370808"/><rect x="409.75" y="408" width="42.73" height="2" fill="#14260a"/><rect x="409.75" y="410" width="42.73" height="2" fill="#360808"/><rect x="409.75" y="412" width="42.73" height="3" fill="#300707"/><rect x="409.75" y="415" width="42.73" height="5" fill="#330707"/><rect x="409.75" y="420" width="42.73" height="2" fill="#310707"/><rect x="409.75" y="422" width="42.73" height="3" fill="#390808"/><rect x="409.75" y="425" width="42.73" height="2" fill="#360707"/><rect x="409.75" y="427" width="42.73" height="3" fill="#370707"/><rect x="409.75" y="430" width="42.73" height="2" fill="#3c0808"/><rect x="409.75" y="432" width="42.73" height="3" fill="#3b0808"/><rect x="409.75" y="435" width="42.73" height="2" fill="#360707"/><rect x="409.75" y="437" width="42.73" height="1" fill="#14280a"/><rect x="409.75" y="438" width="42.73" height="4" fill="#3c0808"/><rect x="409.75" y="442" width="42.73" height="2" fill="#350707"/><rect x="409.75" y="444" width="42.73" height="3" fill="#390808"/><rect x="409.75" y="447" width="42.73" height="2" fill="#350707"/><rect x="409.75" y="449" width="42.73" height="3" fill="#350707"/><rect x="409.75" y="452" width="42.73" height="2" fill="#3e0808"/><rect x="409.75" y="454" width="42.73" height="2" fill="#14280a"/><rect x="409.75" y="456" width="42.73" height="1" fill="#380808"/><rect x="409.75" y="457" width="42.73" height="4" fill="#340707"/><rect x="409.75" y="461" width="42.73" height="4" fill="#3d0909"/><rect x="409.75" y="465" width="42.73" height="2" fill="#370808"/><rect x="409.75" y="467" width="42.73" height="4" fill="#380808"/><rect x="409.75" y="471" width="42.73" height="3" fill="#4e0909"/><rect x="409.75" y="474" width="42.73" height="3" fill="#450808"/><rect x="409.75" y="477" width="42.73" height="2" fill="#450808"/><rect x="409.75" y="479" width="42.73" height="3" fill="#4e0909"/><rect x="409.75" y="482" width="42.73" height="4" fill="#4d0909"/><rect x="409.75" y="486" width="42.73" height="4" fill="#4c0808"/><rect x="409.75" y="490" width="42.73" height="2" fill="#4b0808"/><rect x="409.75" y="492" width="42.73" height="4" fill="#510909"/><rect x="409.75" y="496" width="42.73" height="2" fill="#490808"/><rect x="409.75" y="498" width="42.73" height="3" fill="#480808"/><rect x="409.75" y="501" width="42.73" height="4" fill="#440707"/><rect x="409.75" y="505" width="42.73" height="3" fill="#4c0808"/><rect x="409.75" y="508" width="42.73" height="1" fill="#460707"/><rect x="409.75" y="509" width="42.73" height="5" fill="#510808"/><rect x="409.75" y="514" width="42.73" height="4" fill="#4e0808"/><rect x="409.75" y="518" width="42.73" height="2" fill="#530909"/><rect x="409.75" y="520" width="42.73" height="4" fill="#480707"/><rect x="409.75" y="524" width="42.73" height="3" fill="#4c0707"/><rect x="409.75" y="527" width="42.73" height="4" fill="#4c0707"/><rect x="409.75" y="531" width="42.73" height="3" fill="#570909"/><rect x="409.75" y="534" width="42.73" height="1" fill="#4c0707"/><rect x="409.75" y="535" width="42.73" height="3" fill="#520808"/><rect x="409.75" y="538" width="42.73" height="4" fill="#4f0808"/><rect x="409.75" y="542" width="42.73" height="3" fill="#560808"/><rect x="409.75" y="545" width="42.73" height="2" fill="#580808"/><rect x="409.75" y="547" width="42.73" height="4" fill="#570808"/><rect x="409.75" y="551" width="42.73" height="2" fill="#560808"/><rect x="409.75" y="553" width="42.73" height="2" fill="#500707"/><rect x="409.75" y="555" width="42.73" height="2" fill="#073207"/><rect x="409.75" y="557" width="42.73" height="2" fill="#083508"/><rect x="409.75" y="559" width="42.73" height="2" fill="#073307"/><rect x="409.75" y="561" width="42.73" height="2" fill="#083708"/><rect x="409.75" y="563" width="42.73" height="4" fill="#083708"/><rect x="409.75" y="567" width="42.73" height="3" fill="#083808"/><rect x="409.75" y="570" width="42.73" height="2" fill="#083308"/><rect x="409.75" y="572" width="42.73" height="3" fill="#083208"/><rect x="409.75" y="575" width="42.73" height="3" fill="#083108"/><rect x="409.75" y="578" width="42.73" height="3" fill="#072f07"/><rect x="409.75" y="581" width="42.73" height="1" fill="#083108"/><rect x="409.75" y="582" width="42.73" height="3" fill="#083c08"/><rect x="409.75" y="585" width="42.73" height="1" fill="#083908"/><rect x="409.75" y="586" width="42.73" height="4" fill="#073807"/><rect x="409.75" y="590" width="42.73" height="3" fill="#083b08"/><rect x="409.75" y="593" width="42.73" height="3" fill="#094109"/><rect x="409.75" y="596" width="42.73" height="2" fill="#19a019"/><rect x="409.75" y="598" width="42.73" height="2" fill="#083a08"/><rect x="409.75" y="600" width="42.73" height="2" fill="#073207"/><rect x="409.75" y="602" width="42.73" height="3" fill="#083608"/><rect x="409.75" y="605" width="42.73" height="2" fill="#082c08"/><rect x="409.75" y="607" width="42.73" height="3" fill="#083008"/><rect x="409.75" y="610" width="42.73" height="2" fill="#180e09"/><rect x="409.75" y="612" width="42.73" height="4" fill="#1b100a"/><rect x="409.75" y="616" width="42.73" height="2" fill="#210b08"/><rect x="409.75" y="618" width="42.73" height="3" fill="#240c08"/><rect x="409.75" y="621" width="42.73" height="1" fill="#250d08"/><rect x="409.75" y="622" width="42.73" height="4" fill="#14190a"/><rect x="409.75" y="626" width="42.73" height="4" fill="#151a0a"/><rect x="409.75" y="630" width="42.73" height="4" fill="#1e0e08"/><rect x="409.75" y="634" width="42.73" height="4" fill="#200e08"/><rect x="409.75" y="638" width="42.73" height="4" fill="#121909"/><rect x="409.75" y="642" width="42.73" height="2" fill="#121909"/><rect x="452.18" y="150" width="42.73" height="2" fill="#0e690e"/><rect x="452.18" y="152" width="42.73" height="3" fill="#330808"/><rect x="452.18" y="155" width="42.73" height="3" fill="#370909"/><rect x="452.18" y="158" width="42.73" height="3" fill="#2b0a0a"/><rect x="452.18" y="161" width="42.73" height="2" fill="#2f0b0b"/><rect x="452.18" y="163" width="42.73" height="3" fill="#2f0808"/><rect x="452.18" y="166" width="42.73" height="3" fill="#300808"/><rect x="452.18" y="169" width="42.73" height="3" fill="#181809"/><rect x="452.18" y="172" width="42.73" height="4" fill="#19190a"/><rect x="452.18" y="176" width="42.73" height="3" fill="#2b0909"/><rect x="452.18" y="179" width="42.73" height="3" fill="#300b0b"/><rect x="452.18" y="182" width="42.73" height="2" fill="#2d0a0a"/><rect x="452.18" y="184" width="42.73" height="2" fill="#181309"/><rect x="452.18" y="186" width="42.73" height="3" fill="#19140a"/><rect x="452.18" y="189" width="42.73" height="3" fill="#240909"/><rect x="452.18" y="192" width="42.73" height="2" fill="#260909"/><rect x="452.18" y="194" width="42.73" height="4" fill="#102a0b"/><rect x="452.18" y="198" width="42.73" height="5" fill="#0e2509"/><rect x="452.18" y="203" width="42.73" height="2" fill="#095c09"/><rect x="452.18" y="205" width="42.73" height="2" fill="#074d07"/><rect x="452.18" y="207" width="42.73" height="3" fill="#085508"/><rect x="452.18" y="210" width="42.73" height="2" fill="#085a08"/><rect x="452.18" y="212" width="42.73" height="3" fill="#095909"/><rect x="452.18" y="215" width="42.73" height="3" fill="#085108"/><rect x="452.18" y="218" width="42.73" height="4" fill="#084f08"/><rect x="452.18" y="222" width="42.73" height="3" fill="#084608"/><rect x="452.18" y="225" width="42.73" height="2" fill="#094c09"/><rect x="452.18" y="227" width="42.73" height="3" fill="#084508"/><rect x="452.18" y="230" width="42.73" height="3" fill="#084308"/><rect x="452.18" y="233" width="42.73" height="3" fill="#084208"/><rect x="452.18" y="236" width="42.73" height="3" fill="#094609"/><rect x="452.18" y="239" width="42.73" height="1" fill="#084108"/><rect x="452.18" y="240" width="42.73" height="3" fill="#141e0a"/><rect x="452.18" y="243" width="42.73" height="2" fill="#131d0a"/><rect x="452.18" y="245" width="42.73" height="3" fill="#084a08"/><rect x="452.18" y="248" width="42.73" height="2" fill="#084208"/><rect x="452.18" y="250" width="42.73" height="4" fill="#151a0b"/><rect x="452.18" y="254" width="42.73" height="3" fill="#073607"/><rect x="452.18" y="257" width="42.73" height="4" fill="#083d08"/><rect x="452.18" y="261" width="42.73" height="4" fill="#094109"/><rect x="452.18" y="265" width="42.73" height="1" fill="#083a08"/><rect x="452.18" y="266" width="42.73" height="2" fill="#083508"/><rect x="452.18" y="268" width="42.73" height="3" fill="#083708"/><rect x="452.18" y="271" width="42.73" height="2" fill="#073307"/><rect x="452.18" y="273" width="42.73" height="3" fill="#083808"/><rect x="452.18" y="276" width="42.73" height="3" fill="#093d09"/><rect x="452.18" y="279" width="42.73" height="1" fill="#073207"/><rect x="452.18" y="280" width="42.73" height="3" fill="#151f0a"/><rect x="452.18" y="283" width="42.73" height="1" fill="#151f0a"/><rect x="452.18" y="284" width="42.73" height="2" fill="#083908"/><rect x="452.18" y="286" width="42.73" height="3" fill="#083c08"/><rect x="452.18" y="289" width="42.73" height="4" fill="#073707"/><rect x="452.18" y="293" width="42.73" height="3" fill="#083c08"/><rect x="452.18" y="296" width="42.73" height="2" fill="#083d08"/><rect x="452.18" y="298" width="42.73" height="2" fill="#094109"/><rect x="452.18" y="300" width="42.73" height="3" fill="#083608"/><rect x="452.18" y="303" width="42.73" height="2" fill="#073307"/><rect x="452.18" y="305" width="42.73" height="4" fill="#073307"/><rect x="452.18" y="309" width="42.73" height="1" fill="#073307"/><rect x="452.18" y="310" width="42.73" height="3" fill="#083b08"/><rect x="452.18" y="313" width="42.73" height="2" fill="#083b08"/><rect x="452.18" y="315" width="42.73" height="2" fill="#073707"/><rect x="452.18" y="317" width="42.73" height="3" fill="#083b08"/><rect x="452.18" y="320" width="42.73" height="4" fill="#083b08"/><rect x="452.18" y="324" width="42.73" height="2" fill="#073a07"/><rect x="452.18" y="326" width="42.73" height="2" fill="#094209"/><rect x="452.18" y="328" width="42.73" height="4" fill="#083b08"/><rect x="452.18" y="332" width="42.73" height="2" fill="#084d08"/><rect x="452.18" y="334" width="42.73" height="2" fill="#095509"/><rect x="452.18" y="336" width="42.73" height="3" fill="#095709"/><rect x="452.18" y="339" width="42.73" height="4" fill="#085108"/><rect x="452.18" y="343" width="42.73" height="2" fill="#073507"/><rect x="452.18" y="345" width="42.73" height="4" fill="#084008"/><rect x="452.18" y="349" width="42.73" height="3" fill="#094009"/><rect x="452.18" y="352" width="42.73" height="4" fill="#083508"/><rect x="452.18" y="356" width="42.73" height="3" fill="#093d09"/><rect x="452.18" y="359" width="42.73" height="3" fill="#093c09"/><rect x="452.18" y="362" width="42.73" height="3" fill="#084808"/><rect x="452.18" y="365" width="42.73" height="3" fill="#074507"/><rect x="452.18" y="368" width="42.73" height="3" fill="#095009"/><rect x="452.18" y="371" width="42.73" height="3" fill="#084e08"/><rect x="452.18" y="374" width="42.73" height="2" fill="#074007"/><rect x="452.18" y="376" width="42.73" height="3" fill="#074007"/><rect x="452.18" y="379" width="42.73" height="2" fill="#084208"/><rect x="452.18" y="381" width="42.73" height="3" fill="#230c08"/><rect x="452.18" y="384" width="42.73" height="3" fill="#380707"/><rect x="452.18" y="387" width="42.73" height="3" fill="#3b0808"/><rect x="452.18" y="390" width="42.73" height="2" fill="#370707"/><rect x="452.18" y="392" width="42.73" height="3" fill="#410808"/><rect x="452.18" y="395" width="42.73" height="3" fill="#310707"/><rect x="452.18" y="398" width="42.73" height="2" fill="#320808"/><rect x="452.18" y="400" width="42.73" height="2" fill="#2f0707"/><rect x="452.18" y="402" width="42.73" height="3" fill="#320808"/><rect x="452.18" y="405" width="42.73" height="2" fill="#3c0808"/><rect x="452.18" y="407" width="42.73" height="2" fill="#360707"/><rect x="452.18" y="409" width="42.73" height="4" fill="#350707"/><rect x="452.18" y="413" width="42.73" height="2" fill="#3d0808"/><rect x="452.18" y="415" width="42.73" height="3" fill="#1a0e08"/><rect x="452.18" y="418" width="42.73" height="4" fill="#330707"/><rect x="452.18" y="422" width="42.73" height="2" fill="#3a0808"/><rect x="452.18" y="424" width="42.73" height="3" fill="#3d0909"/><rect x="452.18" y="427" width="42.73" height="2" fill="#3d0909"/><rect x="452.18" y="429" width="42.73" height="3" fill="#340707"/><rect x="452.18" y="432" width="42.73" height="3" fill="#330707"/><rect x="452.18" y="435" width="42.73" height="3" fill="#460707"/><rect x="452.18" y="438" width="42.73" height="4" fill="#4b0808"/><rect x="452.18" y="442" width="42.73" height="3" fill="#460707"/><rect x="452.18" y="445" width="42.73" height="3" fill="#450707"/><rect x="452.18" y="448" width="42.73" height="4" fill="#440707"/><rect x="452.18" y="452" width="42.73" height="4" fill="#4a0808"/><rect x="452.18" y="456" width="42.73" height="2" fill="#1a150a"/><rect x="452.18" y="458" width="42.73" height="3" fill="#19140a"/><rect x="452.18" y="461" width="42.73" height="3" fill="#210d08"/><rect x="452.18" y="464" width="42.73" height="2" fill="#200d07"/><rect x="452.18" y="466" width="42.73" height="2" fill="#17170b"/><rect x="452.18" y="468" width="42.73" height="3" fill="#16160a"/><rect x="452.18" y="471" width="42.73" height="2" fill="#085008"/><rect x="452.18" y="473" width="42.73" height="3" fill="#084f08"/><rect x="452.18" y="476" width="42.73" height="2" fill="#074807"/><rect x="452.18" y="478" width="42.73" height="2" fill="#074a07"/><rect x="452.18" y="480" width="42.73" height="2" fill="#086208"/><rect x="452.18" y="482" width="42.73" height="2" fill="#085c08"/><rect x="452.18" y="484" width="42.73" height="2" fill="#086308"/><rect x="452.18" y="486" width="42.73" height="4" fill="#087508"/><rect x="452.18" y="490" width="42.73" height="2" fill="#086708"/><rect x="452.18" y="492" width="42.73" height="1" fill="#1eaa1e"/><rect x="452.18" y="493" width="42.73" height="2" fill="#083d08"/><rect x="452.18" y="495" width="42.73" height="3" fill="#083908"/><rect x="452.18" y="498" width="42.73" height="3" fill="#360808"/><rect x="452.18" y="501" width="42.73" height="3" fill="#310707"/><rect x="452.18" y="504" width="42.73" height="2" fill="#320808"/><rect x="452.18" y="506" width="42.73" height="3" fill="#2a0707"/><rect x="452.18" y="509" width="42.73" height="2" fill="#310909"/><rect x="452.18" y="511" width="42.73" height="4" fill="#2f0808"/><rect x="452.18" y="515" width="42.73" height="2" fill="#121b09"/><rect x="452.18" y="517" width="42.73" height="2" fill="#121c09"/><rect x="452.18" y="519" width="42.73" height="1" fill="#131d0a"/><rect x="452.18" y="520" width="42.73" height="2" fill="#1d0d08"/><rect x="452.18" y="522" width="42.73" height="2" fill="#1c0d07"/><rect x="452.18" y="524" width="42.73" height="4" fill="#12200a"/><rect x="452.18" y="528" width="42.73" height="1" fill="#111e09"/><rect x="452.18" y="529" width="42.73" height="3" fill="#085708"/><rect x="452.18" y="532" width="42.73" height="2" fill="#074b07"/><rect x="452.18" y="534" width="42.73" height="4" fill="#085908"/><rect x="452.18" y="538" width="42.73" height="2" fill="#074c07"/><rect x="452.18" y="540" width="42.73" height="4" fill="#085d08"/><rect x="452.18" y="544" width="42.73" height="2" fill="#075607"/><rect x="452.18" y="546" width="42.73" height="1" fill="#086008"/><rect x="452.18" y="547" width="42.73" height="3" fill="#096309"/><rect x="452.18" y="550" width="42.73" height="1" fill="#075307"/><rect x="452.18" y="551" width="42.73" height="4" fill="#19aa19"/><rect x="452.18" y="555" width="42.73" height="3" fill="#150f0a"/><rect x="452.18" y="558" width="42.73" height="4" fill="#17110b"/><rect x="452.18" y="562" width="42.73" height="3" fill="#140e09"/><rect x="452.18" y="565" width="42.73" height="4" fill="#1a0e0a"/><rect x="452.18" y="569" width="42.73" height="3" fill="#1b0e0a"/><rect x="452.18" y="572" width="42.73" height="4" fill="#15130b"/><rect x="452.18" y="576" width="42.73" height="3" fill="#14120a"/><rect x="452.18" y="579" width="42.73" height="2" fill="#15120a"/><rect x="452.18" y="581" width="42.73" height="3" fill="#2b0808"/><rect x="452.18" y="584" width="42.73" height="4" fill="#280707"/><rect x="452.18" y="588" width="42.73" height="3" fill="#270707"/><rect x="452.18" y="591" width="42.73" height="4" fill="#2e0808"/><rect x="452.18" y="595" width="42.73" height="1" fill="#2c0808"/><rect x="452.18" y="596" width="42.73" height="3" fill="#510808"/><rect x="452.18" y="599" width="42.73" height="4" fill="#3b0808"/><rect x="452.18" y="603" width="42.73" height="3" fill="#360707"/><rect x="452.18" y="606" width="42.73" height="2" fill="#370808"/><rect x="452.18" y="608" width="42.73" height="2" fill="#360707"/><rect x="452.18" y="610" width="42.73" height="2" fill="#300707"/><rect x="452.18" y="612" width="42.73" height="4" fill="#360808"/><rect x="452.18" y="616" width="42.73" height="2" fill="#310707"/><rect x="452.18" y="618" width="42.73" height="3" fill="#330808"/><rect x="452.18" y="621" width="42.73" height="4" fill="#320808"/><rect x="452.18" y="625" width="42.73" height="2" fill="#3c0909"/><rect x="452.18" y="627" width="42.73" height="2" fill="#380808"/><rect x="452.18" y="629" width="42.73" height="3" fill="#3b0808"/><rect x="452.18" y="632" width="42.73" height="3" fill="#3b0808"/><rect x="452.18" y="635" width="42.73" height="2" fill="#340808"/><rect x="452.18" y="637" width="42.73" height="3" fill="#320808"/><rect x="452.18" y="640" width="42.73" height="4" fill="#360808"/><rect x="494.61" y="150" width="42.73" height="2" fill="#2e0808"/><rect x="494.61" y="152" width="42.73" height="2" fill="#2e0707"/><rect x="494.61" y="154" width="42.73" height="2" fill="#0e2609"/><rect x="494.61" y="156" width="42.73" height="3" fill="#0f290a"/><rect x="494.61" y="159" width="42.73" height="2" fill="#180e09"/><rect x="494.61" y="161" width="42.73" height="3" fill="#1a0f0a"/><rect x="494.61" y="164" width="42.73" height="2" fill="#180e09"/><rect x="494.61" y="166" width="42.73" height="3" fill="#170d09"/><rect x="494.61" y="169" width="42.73" height="4" fill="#2a0808"/><rect x="494.61" y="173" width="42.73" height="3" fill="#2a0808"/><rect x="494.61" y="176" width="42.73" height="4" fill="#1e140a"/><rect x="494.61" y="180" width="42.73" height="2" fill="#14220a"/><rect x="494.61" y="182" width="42.73" height="3" fill="#122009"/><rect x="494.61" y="185" width="42.73" height="3" fill="#121f09"/><rect x="494.61" y="188" width="42.73" height="4" fill="#161e0a"/><rect x="494.61" y="192" width="42.73" height="4" fill="#18200b"/><rect x="494.61" y="196" width="42.73" height="3" fill="#330707"/><rect x="494.61" y="199" width="42.73" height="2" fill="#320707"/><rect x="494.61" y="201" width="42.73" height="2" fill="#390808"/><rect x="494.61" y="203" width="42.73" height="3" fill="#085e08"/><rect x="494.61" y="206" width="42.73" height="2" fill="#086508"/><rect x="494.61" y="208" width="42.73" height="4" fill="#096b09"/><rect x="494.61" y="212" width="42.73" height="2" fill="#086408"/><rect x="494.61" y="214" width="42.73" height="4" fill="#086308"/><rect x="494.61" y="218" width="42.73" height="2" fill="#075807"/><rect x="494.61" y="220" width="42.73" height="4" fill="#085b08"/><rect x="494.61" y="224" width="42.73" height="2" fill="#082d08"/><rect x="494.61" y="226" width="42.73" height="3" fill="#082f08"/><rect x="494.61" y="229" width="42.73" height="3" fill="#072807"/><rect x="494.61" y="232" width="42.73" height="3" fill="#083808"/><rect x="494.61" y="235" width="42.73" height="4" fill="#083908"/><rect x="494.61" y="239" width="42.73" height="4" fill="#093b09"/><rect x="494.61" y="243" width="42.73" height="2" fill="#083608"/><rect x="494.61" y="245" width="42.73" height="2" fill="#083708"/><rect x="494.61" y="247" width="42.73" height="3" fill="#073407"/><rect x="494.61" y="250" width="42.73" height="3" fill="#073507"/><rect x="494.61" y="253" width="42.73" height="1" fill="#280c08"/><rect x="494.61" y="254" width="42.73" height="3" fill="#093c09"/><rect x="494.61" y="257" width="42.73" height="2" fill="#073107"/><rect x="494.61" y="259" width="42.73" height="3" fill="#073307"/><rect x="494.61" y="262" width="42.73" height="3" fill="#073007"/><rect x="494.61" y="265" width="42.73" height="5" fill="#083a08"/><rect x="494.61" y="270" width="42.73" height="4" fill="#083808"/><rect x="494.61" y="274" width="42.73" height="2" fill="#083b08"/><rect x="494.61" y="276" width="42.73" height="3" fill="#083808"/><rect x="494.61" y="279" width="42.73" height="2" fill="#083808"/><rect x="494.61" y="281" width="42.73" height="4" fill="#083d08"/><rect x="494.61" y="285" width="42.73" height="4" fill="#073907"/><rect x="494.61" y="289" width="42.73" height="2" fill="#083c08"/><rect x="494.61" y="291" width="42.73" height="3" fill="#083b08"/><rect x="494.61" y="294" width="42.73" height="2" fill="#073807"/><rect x="494.61" y="296" width="42.73" height="4" fill="#083d08"/><rect x="494.61" y="300" width="42.73" height="4" fill="#093e09"/><rect x="494.61" y="304" width="42.73" height="4" fill="#093f09"/><rect x="494.61" y="308" width="42.73" height="4" fill="#083b08"/><rect x="494.61" y="312" width="42.73" height="3" fill="#073407"/><rect x="494.61" y="315" width="42.73" height="3" fill="#084108"/><rect x="494.61" y="318" width="42.73" height="3" fill="#084008"/><rect x="494.61" y="321" width="42.73" height="4" fill="#083f08"/><rect x="494.61" y="325" width="42.73" height="3" fill="#083c08"/><rect x="494.61" y="328" width="42.73" height="4" fill="#094409"/><rect x="494.61" y="332" width="42.73" height="1" fill="#074007"/><rect x="494.61" y="333" width="42.73" height="4" fill="#084408"/><rect x="494.61" y="337" width="42.73" height="2" fill="#084708"/><rect x="494.61" y="339" width="42.73" height="2" fill="#084608"/><rect x="494.61" y="341" width="42.73" height="4" fill="#084508"/><rect x="494.61" y="345" width="42.73" height="3" fill="#083c08"/><rect x="494.61" y="348" width="42.73" height="2" fill="#073907"/><rect x="494.61" y="350" width="42.73" height="4" fill="#083e08"/><rect x="494.61" y="354" width="42.73" height="2" fill="#084208"/><rect x="494.61" y="356" width="42.73" height="2" fill="#073807"/><rect x="494.61" y="358" width="42.73" height="3" fill="#073a07"/><rect x="494.61" y="361" width="42.73" height="1" fill="#083e08"/><rect x="494.61" y="362" width="42.73" height="3" fill="#084808"/><rect x="494.61" y="365" width="42.73" height="2" fill="#084708"/><rect x="494.61" y="367" width="42.73" height="3" fill="#074107"/><rect x="494.61" y="370" width="42.73" height="2" fill="#074007"/><rect x="494.61" y="372" width="42.73" height="2" fill="#084c08"/><rect x="494.61" y="374" width="42.73" height="3" fill="#084408"/><rect x="494.61" y="377" width="42.73" height="4" fill="#073c07"/><rect x="494.61" y="381" width="42.73" height="2" fill="#084408"/><rect x="494.61" y="383" width="42.73" height="2" fill="#250d08"/><rect x="494.61" y="385" width="42.73" height="2" fill="#200b07"/><rect x="494.61" y="387" width="42.73" height="3" fill="#230c08"/><rect x="494.61" y="390" width="42.73" height="4" fill="#0e2409"/><rect x="494.61" y="394" width="42.73" height="4" fill="#2b0707"/><rect x="494.61" y="398" width="42.73" height="2" fill="#2e0808"/><rect x="494.61" y="400" width="42.73" height="1" fill="#310808"/><rect x="494.61" y="401" width="42.73" height="3" fill="#2e0808"/><rect x="494.61" y="404" width="42.73" height="3" fill="#2f0808"/><rect x="494.61" y="407" width="42.73" height="3" fill="#310808"/><rect x="494.61" y="410" width="42.73" height="4" fill="#2c0808"/><rect x="494.61" y="414" width="42.73" height="4" fill="#2f0909"/><rect x="494.61" y="418" width="42.73" height="2" fill="#2e0808"/><rect x="494.61" y="420" width="42.73" height="2" fill="#2e0808"/><rect x="494.61" y="422" width="42.73" height="3" fill="#2e0808"/><rect x="494.61" y="425" width="42.73" height="2" fill="#310808"/><rect x="494.61" y="427" width="42.73" height="3" fill="#370909"/><rect x="494.61" y="430" width="42.73" height="4" fill="#2d0707"/><rect x="494.61" y="434" width="42.73" height="4" fill="#2e0707"/><rect x="494.61" y="438" width="42.73" height="4" fill="#5c0808"/><rect x="494.61" y="442" width="42.73" height="2" fill="#390909"/><rect x="494.61" y="444" width="42.73" height="3" fill="#310707"/><rect x="494.61" y="447" width="42.73" height="2" fill="#330808"/><rect x="494.61" y="449" width="42.73" height="4" fill="#350808"/><rect x="494.61" y="453" width="42.73" height="3" fill="#2f0707"/><rect x="494.61" y="456" width="42.73" height="2" fill="#10260a"/><rect x="494.61" y="458" width="42.73" height="2" fill="#0f240a"/><rect x="494.61" y="460" width="42.73" height="2" fill="#0f250a"/><rect x="494.61" y="462" width="42.73" height="3" fill="#0e2109"/><rect x="494.61" y="465" width="42.73" height="4" fill="#121e0a"/><rect x="494.61" y="469" width="42.73" height="2" fill="#131f0a"/><rect x="494.61" y="471" width="42.73" height="4" fill="#0d1a09"/><rect x="494.61" y="475" width="42.73" height="3" fill="#0e1b09"/><rect x="494.61" y="478" width="42.73" height="2" fill="#10200b"/><rect x="494.61" y="480" width="42.73" height="4" fill="#075907"/><rect x="494.61" y="484" width="42.73" height="2" fill="#086908"/><rect x="494.61" y="486" width="42.73" height="4" fill="#086008"/><rect x="494.61" y="490" width="42.73" height="3" fill="#075407"/><rect x="494.61" y="493" width="42.73" height="4" fill="#085908"/><rect x="494.61" y="497" width="42.73" height="4" fill="#085d08"/><rect x="494.61" y="501" width="42.73" height="1" fill="#085708"/><rect x="494.61" y="502" width="42.73" height="2" fill="#350909"/><rect x="494.61" y="504" width="42.73" height="3" fill="#2c0707"/><rect x="494.61" y="507" width="42.73" height="2" fill="#2f0808"/><rect x="494.61" y="509" width="42.73" height="3" fill="#310808"/><rect x="494.61" y="512" width="42.73" height="3" fill="#2f0808"/><rect x="494.61" y="515" width="42.73" height="2" fill="#0f2d0a"/><rect x="494.61" y="517" width="42.73" height="2" fill="#0d2809"/><rect x="494.61" y="519" width="42.73" height="3" fill="#10310b"/><rect x="494.61" y="522" width="42.73" height="2" fill="#0e2909"/><rect x="494.61" y="524" width="42.73" height="3" fill="#0e2a09"/><rect x="494.61" y="527" width="42.73" height="2" fill="#0f2c0a"/><rect x="494.61" y="529" width="42.73" height="2" fill="#085a08"/><rect x="494.61" y="531" width="42.73" height="3" fill="#096109"/><rect x="494.61" y="534" width="42.73" height="4" fill="#075007"/><rect x="494.61" y="538" width="42.73" height="2" fill="#085e08"/><rect x="494.61" y="540" width="42.73" height="4" fill="#086608"/><rect x="494.61" y="544" width="42.73" height="3" fill="#086308"/><rect x="494.61" y="547" width="42.73" height="3" fill="#085c08"/><rect x="494.61" y="550" width="42.73" height="1" fill="#096809"/><rect x="494.61" y="551" width="42.73" height="4" fill="#19aa19"/><rect x="494.61" y="555" width="42.73" height="4" fill="#0f290a"/><rect x="494.61" y="559" width="42.73" height="2" fill="#102a0a"/><rect x="494.61" y="561" width="42.73" height="4" fill="#0f270a"/><rect x="494.61" y="565" width="42.73" height="3" fill="#0e220a"/><rect x="494.61" y="568" width="42.73" height="3" fill="#0e230a"/><rect x="494.61" y="571" width="42.73" height="2" fill="#0e220a"/><rect x="494.61" y="573" width="42.73" height="2" fill="#10270b"/><rect x="494.61" y="575" width="42.73" height="3" fill="#0e220a"/><rect x="494.61" y="578" width="42.73" height="3" fill="#0e2109"/><rect x="494.61" y="581" width="42.73" height="1" fill="#0e2109"/><rect x="494.61" y="582" width="42.73" height="2" fill="#250d09"/><rect x="494.61" y="584" width="42.73" height="2" fill="#220c08"/><rect x="494.61" y="586" width="42.73" height="3" fill="#210b08"/><rect x="494.61" y="589" width="42.73" height="3" fill="#1f0b07"/><rect x="494.61" y="592" width="42.73" height="2" fill="#210b08"/><rect x="494.61" y="594" width="42.73" height="2" fill="#230c08"/><rect x="494.61" y="596" width="42.73" height="2" fill="#145a0c"/><rect x="494.61" y="598" width="42.73" height="4" fill="#320808"/><rect x="494.61" y="602" width="42.73" height="4" fill="#350808"/><rect x="494.61" y="606" width="42.73" height="2" fill="#300707"/><rect x="494.61" y="608" width="42.73" height="2" fill="#390909"/><rect x="494.61" y="610" width="42.73" height="3" fill="#330808"/><rect x="494.61" y="613" width="42.73" height="2" fill="#340808"/><rect x="494.61" y="615" width="42.73" height="2" fill="#300808"/><rect x="494.61" y="617" width="42.73" height="4" fill="#2e0808"/><rect x="494.61" y="621" width="42.73" height="2" fill="#2c0707"/><rect x="494.61" y="623" width="42.73" height="2" fill="#2e0707"/><rect x="494.61" y="625" width="42.73" height="3" fill="#330707"/><rect x="494.61" y="628" width="42.73" height="3" fill="#320707"/><rect x="494.61" y="631" width="42.73" height="4" fill="#3a0808"/><rect x="494.61" y="635" width="42.73" height="3" fill="#2d0707"/><rect x="494.61" y="638" width="42.73" height="4" fill="#350909"/><rect x="494.61" y="642" width="42.73" height="2" fill="#2c0707"/><rect x="537.04" y="150" width="42.73" height="4" fill="#21100b"/><rect x="537.04" y="154" width="42.73" height="2" fill="#1c0e09"/><rect x="537.04" y="156" width="42.73" height="3" fill="#1f0f0a"/><rect x="537.04" y="159" width="42.73" height="4" fill="#250808"/><rect x="537.04" y="163" width="42.73" height="5" fill="#220707"/><rect x="537.04" y="168" width="42.73" height="2" fill="#083e08"/><rect x="537.04" y="170" width="42.73" height="3" fill="#083a08"/><rect x="537.04" y="173" width="42.73" height="4" fill="#083908"/><rect x="537.04" y="177" width="42.73" height="1" fill="#19a019"/><rect x="537.04" y="178" width="42.73" height="2" fill="#0f270a"/><rect x="537.04" y="180" width="42.73" height="2" fill="#0f280a"/><rect x="537.04" y="182" width="42.73" height="2" fill="#0f270a"/><rect x="537.04" y="184" width="42.73" height="4" fill="#1d0e09"/><rect x="537.04" y="188" width="42.73" height="2" fill="#1b0d09"/><rect x="537.04" y="190" width="42.73" height="3" fill="#1f0f0a"/><rect x="537.04" y="193" width="42.73" height="4" fill="#1b1209"/><rect x="537.04" y="197" width="42.73" height="3" fill="#1f150a"/><rect x="537.04" y="200" width="42.73" height="3" fill="#1b1209"/><rect x="537.04" y="203" width="42.73" height="2" fill="#075b07"/><rect x="537.04" y="205" width="42.73" height="3" fill="#075a07"/><rect x="537.04" y="208" width="42.73" height="4" fill="#086108"/><rect x="537.04" y="212" width="42.73" height="3" fill="#086008"/><rect x="537.04" y="215" width="42.73" height="3" fill="#086208"/><rect x="537.04" y="218" width="42.73" height="3" fill="#085b08"/><rect x="537.04" y="221" width="42.73" height="3" fill="#075a07"/><rect x="537.04" y="224" width="42.73" height="3" fill="#084508"/><rect x="537.04" y="227" width="42.73" height="4" fill="#083e08"/><rect x="537.04" y="231" width="42.73" height="4" fill="#094809"/><rect x="537.04" y="235" width="42.73" height="3" fill="#083a08"/><rect x="537.04" y="238" width="42.73" height="3" fill="#094309"/><rect x="537.04" y="241" width="42.73" height="2" fill="#073707"/><rect x="537.04" y="243" width="42.73" height="3" fill="#0f190a"/><rect x="537.04" y="246" width="42.73" height="4" fill="#0e180a"/><rect x="537.04" y="250" width="42.73" height="4" fill="#073a07"/><rect x="537.04" y="254" width="42.73" height="4" fill="#073807"/><rect x="537.04" y="258" width="42.73" height="1" fill="#073807"/><rect x="537.04" y="259" width="42.73" height="2" fill="#083d08"/><rect x="537.04" y="261" width="42.73" height="4" fill="#073907"/><rect x="537.04" y="265" width="42.73" height="4" fill="#083708"/><rect x="537.04" y="269" width="42.73" height="2" fill="#073507"/><rect x="537.04" y="271" width="42.73" height="4" fill="#093e09"/><rect x="537.04" y="275" width="42.73" height="2" fill="#073307"/><rect x="537.04" y="277" width="42.73" height="3" fill="#073607"/><rect x="537.04" y="280" width="42.73" height="4" fill="#083f08"/><rect x="537.04" y="284" width="42.73" height="3" fill="#083d08"/><rect x="537.04" y="287" width="42.73" height="4" fill="#083f08"/><rect x="537.04" y="291" width="42.73" height="3" fill="#094409"/><rect x="537.04" y="294" width="42.73" height="1" fill="#084208"/><rect x="537.04" y="295" width="42.73" height="2" fill="#084108"/><rect x="537.04" y="297" width="42.73" height="3" fill="#084408"/><rect x="537.04" y="300" width="42.73" height="2" fill="#083c08"/><rect x="537.04" y="302" width="42.73" height="2" fill="#094009"/><rect x="537.04" y="304" width="42.73" height="4" fill="#083d08"/><rect x="537.04" y="308" width="42.73" height="3" fill="#073807"/><rect x="537.04" y="311" width="42.73" height="2" fill="#083a08"/><rect x="537.04" y="313" width="42.73" height="2" fill="#073707"/><rect x="537.04" y="315" width="42.73" height="4" fill="#084308"/><rect x="537.04" y="319" width="42.73" height="2" fill="#094809"/><rect x="537.04" y="321" width="42.73" height="2" fill="#084208"/><rect x="537.04" y="323" width="42.73" height="2" fill="#084608"/><rect x="537.04" y="325" width="42.73" height="4" fill="#073e07"/><rect x="537.04" y="329" width="42.73" height="3" fill="#084508"/><rect x="537.04" y="332" width="42.73" height="2" fill="#084408"/><rect x="537.04" y="334" width="42.73" height="3" fill="#094d09"/><rect x="537.04" y="337" width="42.73" height="3" fill="#084a08"/><rect x="537.04" y="340" width="42.73" height="3" fill="#0f180a"/><rect x="537.04" y="343" width="42.73" height="2" fill="#101b0b"/><rect x="537.04" y="345" width="42.73" height="2" fill="#094209"/><rect x="537.04" y="347" width="42.73" height="3" fill="#084108"/><rect x="537.04" y="350" width="42.73" height="4" fill="#073907"/><rect x="537.04" y="354" width="42.73" height="3" fill="#094409"/><rect x="537.04" y="357" width="42.73" height="3" fill="#073707"/><rect x="537.04" y="360" width="42.73" height="2" fill="#094309"/><rect x="537.04" y="362" width="42.73" height="2" fill="#094d09"/><rect x="537.04" y="364" width="42.73" height="2" fill="#084a08"/><rect x="537.04" y="366" width="42.73" height="2" fill="#074207"/><rect x="537.04" y="368" width="42.73" height="3" fill="#074107"/><rect x="537.04" y="371" width="42.73" height="3" fill="#094d09"/><rect x="537.04" y="374" width="42.73" height="3" fill="#094209"/><rect x="537.04" y="377" width="42.73" height="5" fill="#073707"/><rect x="537.04" y="382" width="42.73" height="1" fill="#084108"/><rect x="537.04" y="383" width="42.73" height="3" fill="#1f0b07"/><rect x="537.04" y="386" width="42.73" height="4" fill="#210b07"/><rect x="537.04" y="390" width="42.73" height="3" fill="#0e2009"/><rect x="537.04" y="393" width="42.73" height="1" fill="#10260b"/><rect x="537.04" y="394" width="42.73" height="2" fill="#10250b"/><rect x="537.04" y="396" width="42.73" height="2" fill="#300808"/><rect x="537.04" y="398" width="42.73" height="1" fill="#2f0808"/><rect x="537.04" y="399" width="42.73" height="3" fill="#320808"/><rect x="537.04" y="402" width="42.73" height="2" fill="#320808"/><rect x="537.04" y="404" width="42.73" height="2" fill="#2c0707"/><rect x="537.04" y="406" width="42.73" height="4" fill="#300808"/><rect x="537.04" y="410" width="42.73" height="4" fill="#2c0808"/><rect x="537.04" y="414" width="42.73" height="2" fill="#320909"/><rect x="537.04" y="416" width="42.73" height="4" fill="#2f0808"/><rect x="537.04" y="420" width="42.73" height="2" fill="#2f0707"/><rect x="537.04" y="422" width="42.73" height="3" fill="#2e0707"/><rect x="537.04" y="425" width="42.73" height="1" fill="#320808"/><rect x="537.04" y="426" width="42.73" height="3" fill="#330808"/><rect x="537.04" y="429" width="42.73" height="3" fill="#2d0707"/><rect x="537.04" y="432" width="42.73" height="3" fill="#340808"/><rect x="537.04" y="435" width="42.73" height="3" fill="#420808"/><rect x="537.04" y="438" width="42.73" height="3" fill="#480909"/><rect x="537.04" y="441" width="42.73" height="4" fill="#440808"/><rect x="537.04" y="445" width="42.73" height="3" fill="#3e0808"/><rect x="537.04" y="448" width="42.73" height="3" fill="#480909"/><rect x="537.04" y="451" width="42.73" height="2" fill="#3f0808"/><rect x="537.04" y="453" width="42.73" height="4" fill="#3c0707"/><rect x="537.04" y="457" width="42.73" height="4" fill="#130d09"/><rect x="537.04" y="461" width="42.73" height="3" fill="#18100b"/><rect x="537.04" y="464" width="42.73" height="3" fill="#160f0a"/><rect x="537.04" y="467" width="42.73" height="2" fill="#140e09"/><rect x="537.04" y="469" width="42.73" height="2" fill="#140e09"/><rect x="537.04" y="471" width="42.73" height="3" fill="#17100a"/><rect x="537.04" y="474" width="42.73" height="3" fill="#0f460c"/><rect x="537.04" y="477" width="42.73" height="4" fill="#074507"/><rect x="537.04" y="481" width="42.73" height="3" fill="#084a08"/><rect x="537.04" y="484" width="42.73" height="4" fill="#084e08"/><rect x="537.04" y="488" width="42.73" height="2" fill="#095509"/><rect x="537.04" y="490" width="42.73" height="2" fill="#085708"/><rect x="537.04" y="492" width="42.73" height="3" fill="#085308"/><rect x="537.04" y="495" width="42.73" height="4" fill="#095b09"/><rect x="537.04" y="499" width="42.73" height="3" fill="#085508"/><rect x="537.04" y="502" width="42.73" height="1" fill="#0e3c0a"/><rect x="537.04" y="503" width="42.73" height="4" fill="#310808"/><rect x="537.04" y="507" width="42.73" height="3" fill="#310808"/><rect x="537.04" y="510" width="42.73" height="3" fill="#330808"/><rect x="537.04" y="513" width="42.73" height="2" fill="#300808"/><rect x="537.04" y="515" width="42.73" height="3" fill="#0f230a"/><rect x="537.04" y="518" width="42.73" height="2" fill="#0f230a"/><rect x="537.04" y="520" width="42.73" height="3" fill="#10250b"/><rect x="537.04" y="523" width="42.73" height="3" fill="#0f240a"/><rect x="537.04" y="526" width="42.73" height="3" fill="#0f220a"/><rect x="537.04" y="529" width="42.73" height="2" fill="#075b07"/><rect x="537.04" y="531" width="42.73" height="4" fill="#086308"/><rect x="537.04" y="535" width="42.73" height="3" fill="#086308"/><rect x="537.04" y="538" width="42.73" height="2" fill="#075d07"/><rect x="537.04" y="540" width="42.73" height="2" fill="#086f08"/><rect x="537.04" y="542" width="42.73" height="3" fill="#086b08"/><rect x="537.04" y="545" width="42.73" height="4" fill="#097009"/><rect x="537.04" y="549" width="42.73" height="2" fill="#075d07"/><rect x="537.04" y="551" width="42.73" height="4" fill="#19aa19"/><rect x="537.04" y="555" width="42.73" height="2" fill="#151a0b"/><rect x="537.04" y="557" width="42.73" height="4" fill="#121709"/><rect x="537.04" y="561" width="42.73" height="2" fill="#131709"/><rect x="537.04" y="563" width="42.73" height="2" fill="#13180a"/><rect x="537.04" y="565" width="42.73" height="4" fill="#121c0a"/><rect x="537.04" y="569" width="42.73" height="2" fill="#101909"/><rect x="537.04" y="571" width="42.73" height="3" fill="#141f0b"/><rect x="537.04" y="574" width="42.73" height="4" fill="#121b0a"/><rect x="537.04" y="578" width="42.73" height="3" fill="#250d08"/><rect x="537.04" y="581" width="42.73" height="3" fill="#200b07"/><rect x="537.04" y="584" width="42.73" height="4" fill="#220b08"/><rect x="537.04" y="588" width="42.73" height="3" fill="#210b07"/><rect x="537.04" y="591" width="42.73" height="2" fill="#210b08"/><rect x="537.04" y="593" width="42.73" height="3" fill="#1f0b07"/><rect x="537.04" y="596" width="42.73" height="2" fill="#370808"/><rect x="537.04" y="598" width="42.73" height="2" fill="#320707"/><rect x="537.04" y="600" width="42.73" height="3" fill="#330808"/><rect x="537.04" y="603" width="42.73" height="3" fill="#330707"/><rect x="537.04" y="606" width="42.73" height="4" fill="#310707"/><rect x="537.04" y="610" width="42.73" height="3" fill="#340808"/><rect x="537.04" y="613" width="42.73" height="2" fill="#300808"/><rect x="537.04" y="615" width="42.73" height="4" fill="#320808"/><rect x="537.04" y="619" width="42.73" height="3" fill="#2c0707"/><rect x="537.04" y="622" width="42.73" height="3" fill="#2f0808"/><rect x="537.04" y="625" width="42.73" height="3" fill="#320808"/><rect x="537.04" y="628" width="42.73" height="3" fill="#360808"/><rect x="537.04" y="631" width="42.73" height="4" fill="#320808"/><rect x="537.04" y="635" width="42.73" height="3" fill="#300808"/><rect x="537.04" y="638" width="42.73" height="4" fill="#2d0707"/><rect x="537.04" y="642" width="42.73" height="2" fill="#320808"/></g><g><rect x="197.6" y="150.2" width="1.5" height="2.8" fill="#691313"/><rect x="197.6" y="153" width="1.5" height="2.44" fill="#561212"/><rect x="197.6" y="155.44" width="1.5" height="2.56" fill="#541111"/><rect x="197.6" y="158" width="1.5" height="2.99" fill="#6a1212"/><rect x="197.6" y="160.99" width="1.5" height="1.75" fill="#6d1313"/><rect x="197.6" y="162.74" width="1.5" height="1.26" fill="#6b1212"/><rect x="197.6" y="164" width="1.5" height="1.78" fill="#5a1212"/><rect x="197.6" y="165.78" width="1.5" height="2.7" fill="#681313"/><rect x="197.6" y="168.49" width="1.5" height="1.51" fill="#5c1212"/><rect x="197.6" y="170" width="1.5" height="3.23" fill="#731414"/><rect x="197.6" y="173.23" width="1.5" height="3.1" fill="#681212"/><rect x="197.6" y="176.33" width="1.5" height="1.67" fill="#601111"/><rect x="197.6" y="178" width="1.5" height="3.83" fill="#5b1212"/><rect x="197.6" y="181.83" width="1.5" height="1.98" fill="#581212"/><rect x="197.6" y="183.81" width="1.5" height="2.19" fill="#651313"/><rect x="197.6" y="186" width="1.5" height="1.5" fill="#333c16"/><rect x="197.6" y="187.5" width="1.5" height="2.07" fill="#691313"/><rect x="197.6" y="189.57" width="1.5" height="3.26" fill="#641212"/><rect x="197.6" y="192.83" width="1.5" height="2.17" fill="#5e1111"/><rect x="197.6" y="195" width="1.5" height="1.75" fill="#571212"/><rect x="197.6" y="196.75" width="1.5" height="3.37" fill="#5b1212"/><rect x="197.6" y="200.12" width="1.5" height="2.38" fill="#5e1313"/><rect x="197.6" y="202.5" width="1.5" height="2.78" fill="#8d1212"/><rect x="197.6" y="205.28" width="1.5" height="4.72" fill="#991313"/><rect x="197.6" y="210" width="1.5" height="2.23" fill="#8c1313"/><rect x="197.6" y="212.23" width="1.5" height="2.97" fill="#941414"/><rect x="197.6" y="215.2" width="1.5" height="2.8" fill="#841212"/><rect x="197.6" y="218" width="1.5" height="4.15" fill="#741212"/><rect x="197.6" y="222.15" width="1.5" height="2.69" fill="#841313"/><rect x="197.6" y="224.84" width="1.5" height="2" fill="#7d1313"/><rect x="197.6" y="226.83" width="1.5" height="1.7" fill="#821313"/><rect x="197.6" y="228.53" width="1.5" height="3.47" fill="#7f1313"/><rect x="197.6" y="232" width="1.5" height="3.88" fill="#731212"/><rect x="197.6" y="235.88" width="1.5" height="3.41" fill="#7a1313"/><rect x="197.6" y="239.28" width="1.5" height="3.11" fill="#771212"/><rect x="197.6" y="242.39" width="1.5" height="2.61" fill="#831414"/><rect x="197.6" y="245" width="1.5" height="2.83" fill="#761313"/><rect x="197.6" y="247.83" width="1.5" height="1.76" fill="#771313"/><rect x="197.6" y="249.59" width="1.5" height="3.28" fill="#7e1414"/><rect x="197.6" y="252.87" width="1.5" height="3.74" fill="#6d1212"/><rect x="197.6" y="256.61" width="1.5" height="2.6" fill="#761313"/><rect x="197.6" y="259.21" width="1.5" height="2.79" fill="#711313"/><rect x="197.6" y="262" width="1.5" height="2.04" fill="#641212"/><rect x="197.6" y="264.04" width="1.5" height="1.75" fill="#721313"/><rect x="197.6" y="265.79" width="1.5" height="1.94" fill="#671212"/><rect x="197.6" y="267.73" width="1.5" height="2.62" fill="#751414"/><rect x="197.6" y="270.34" width="1.5" height="1.81" fill="#6c1212"/><rect x="197.6" y="272.15" width="1.5" height="3.03" fill="#751414"/><rect x="197.6" y="275.18" width="1.5" height="4.82" fill="#751414"/><rect x="197.6" y="280" width="1.5" height="2.32" fill="#651212"/><rect x="197.6" y="282.32" width="1.5" height="2.53" fill="#6f1414"/><rect x="197.6" y="284.86" width="1.5" height="4.09" fill="#601212"/><rect x="197.6" y="288.95" width="1.5" height="2.06" fill="#621212"/><rect x="197.6" y="291" width="1.5" height="2.21" fill="#671313"/><rect x="197.6" y="293.21" width="1.5" height="1.79" fill="#621212"/><rect x="197.6" y="295" width="1.5" height="1.61" fill="#731212"/><rect x="197.6" y="296.61" width="1.5" height="2.56" fill="#771313"/><rect x="197.6" y="299.17" width="1.5" height="4.08" fill="#791313"/><rect x="197.6" y="303.25" width="1.5" height="2.94" fill="#781313"/><rect x="197.6" y="306.19" width="1.5" height="3.81" fill="#6a1111"/><rect x="197.6" y="310" width="1.5" height="3.94" fill="#701313"/><rect x="197.6" y="313.94" width="1.5" height="3.87" fill="#701313"/><rect x="197.6" y="317.81" width="1.5" height="2.62" fill="#681212"/><rect x="197.6" y="320.43" width="1.5" height="1.87" fill="#6d1313"/><rect x="197.6" y="322.3" width="1.5" height="1.76" fill="#611111"/><rect x="197.6" y="324.06" width="1.5" height="2.14" fill="#631212"/><rect x="197.6" y="326.21" width="1.5" height="2.48" fill="#601111"/><rect x="197.6" y="328.69" width="1.5" height="1.31" fill="#621212"/><rect x="197.6" y="330" width="1.5" height="1.86" fill="#6c1212"/><rect x="197.6" y="331.86" width="1.5" height="1.67" fill="#781414"/><rect x="197.6" y="333.53" width="1.5" height="3.2" fill="#681212"/><rect x="197.6" y="336.73" width="1.5" height="2.26" fill="#6c1212"/><rect x="197.6" y="338.98" width="1.5" height="2.55" fill="#671212"/><rect x="197.6" y="341.53" width="1.5" height="3.47" fill="#7a1414"/><rect x="197.6" y="345" width="1.5" height="2.81" fill="#671313"/><rect x="197.6" y="347.81" width="1.5" height="1.82" fill="#5f1212"/><rect x="197.6" y="349.63" width="1.5" height="2.49" fill="#621212"/><rect x="197.6" y="352.13" width="1.5" height="3.76" fill="#601212"/><rect x="197.6" y="355.88" width="1.5" height="1.66" fill="#701414"/><rect x="197.6" y="357.54" width="1.5" height="2.46" fill="#601212"/><rect x="197.6" y="360" width="1.5" height="3.01" fill="#581111"/><rect x="197.6" y="363.01" width="1.5" height="2.97" fill="#6b1414"/><rect x="197.6" y="365.99" width="1.5" height="3.51" fill="#651313"/><rect x="197.6" y="369.5" width="1.5" height="2.8" fill="#3e1613"/><rect x="197.6" y="372.3" width="1.5" height="2.28" fill="#125f12"/><rect x="197.6" y="374.58" width="1.5" height="2.03" fill="#136713"/><rect x="197.6" y="376.61" width="1.5" height="2.98" fill="#136713"/><rect x="197.6" y="379.6" width="1.5" height="2.46" fill="#125c12"/><rect x="197.6" y="382.06" width="1.5" height="2.94" fill="#146b14"/><rect x="197.6" y="385" width="1.5" height="3.82" fill="#136e13"/><rect x="197.6" y="388.82" width="1.5" height="3.73" fill="#136d13"/><rect x="197.6" y="392.54" width="1.5" height="2.19" fill="#136813"/><rect x="197.6" y="394.73" width="1.5" height="2.52" fill="#115e11"/><rect x="197.6" y="397.26" width="1.5" height="2.74" fill="#126312"/><rect x="197.6" y="400" width="1.5" height="2.27" fill="#137913"/><rect x="197.6" y="402.27" width="1.5" height="4.09" fill="#127312"/><rect x="197.6" y="406.36" width="1.5" height="4.04" fill="#148014"/><rect x="197.6" y="410.4" width="1.5" height="1.6" fill="#127112"/><rect x="197.6" y="412" width="1.5" height="2.17" fill="#128012"/><rect x="197.6" y="414.17" width="1.5" height="2.11" fill="#127f12"/><rect x="197.6" y="416.28" width="1.5" height="3.22" fill="#149214"/><rect x="197.6" y="419.51" width="1.5" height="3.79" fill="#138713"/><rect x="197.6" y="423.29" width="1.5" height="1.71" fill="#138f13"/><rect x="197.6" y="425" width="1.5" height="1.82" fill="#139513"/><rect x="197.6" y="426.82" width="1.5" height="3.97" fill="#139913"/><rect x="197.6" y="430.79" width="1.5" height="3.55" fill="#139013"/><rect x="197.6" y="434.34" width="1.5" height="2.06" fill="#139913"/><rect x="197.6" y="436.4" width="1.5" height="3.6" fill="#139a13"/><rect x="197.6" y="440" width="1.5" height="4.13" fill="#129812"/><rect x="197.6" y="444.13" width="1.5" height="2.64" fill="#14aa14"/><rect x="197.6" y="446.77" width="1.5" height="3.48" fill="#129112"/><rect x="197.6" y="450.25" width="1.5" height="1.93" fill="#129112"/><rect x="197.6" y="452.18" width="1.5" height="3.82" fill="#13a613"/><rect x="197.6" y="456" width="1.5" height="1.98" fill="#136b13"/><rect x="197.6" y="457.98" width="1.5" height="4.15" fill="#136813"/><rect x="197.6" y="462.13" width="1.5" height="2.51" fill="#136613"/><rect x="197.6" y="464.64" width="1.5" height="1.36" fill="#115b11"/><rect x="197.6" y="466" width="1.5" height="4.12" fill="#135f13"/><rect x="197.6" y="470.12" width="1.5" height="3.88" fill="#146514"/><rect x="197.6" y="474" width="1.5" height="2.73" fill="#148614"/><rect x="197.6" y="476.73" width="1.5" height="3.75" fill="#127512"/><rect x="197.6" y="480.48" width="1.5" height="2.25" fill="#127712"/><rect x="197.6" y="482.73" width="1.5" height="2.23" fill="#137e13"/><rect x="197.6" y="484.96" width="1.5" height="2.27" fill="#127a12"/><rect x="197.6" y="487.23" width="1.5" height="2.77" fill="#148714"/><rect x="197.6" y="490" width="1.5" height="2.52" fill="#128612"/><rect x="197.6" y="492.52" width="1.5" height="3.12" fill="#149214"/><rect x="197.6" y="495.64" width="1.5" height="2.69" fill="#149314"/><rect x="197.6" y="498.33" width="1.5" height="2.9" fill="#138813"/><rect x="197.6" y="501.23" width="1.5" height="3.77" fill="#117a11"/><rect x="197.6" y="505" width="1.5" height="2.74" fill="#129212"/><rect x="197.6" y="507.74" width="1.5" height="1.61" fill="#13a513"/><rect x="197.6" y="509.35" width="1.5" height="2.05" fill="#139b13"/><rect x="197.6" y="511.4" width="1.5" height="3.49" fill="#139e13"/><rect x="197.6" y="514.89" width="1.5" height="2.45" fill="#139c13"/><rect x="197.6" y="517.34" width="1.5" height="2.66" fill="#13a513"/><rect x="197.6" y="520" width="1.5" height="1.88" fill="#13a613"/><rect x="197.6" y="521.88" width="1.5" height="2.25" fill="#129c12"/><rect x="197.6" y="524.12" width="1.5" height="3.61" fill="#13a413"/><rect x="197.6" y="527.73" width="1.5" height="3.06" fill="#13ac13"/><rect x="197.6" y="530.79" width="1.5" height="1.21" fill="#12a212"/><rect x="197.6" y="532" width="1.5" height="3.19" fill="#13bb13"/><rect x="197.6" y="535.19" width="1.5" height="2.93" fill="#13c313"/><rect x="197.6" y="538.12" width="1.5" height="2.78" fill="#13bd13"/><rect x="197.6" y="540.9" width="1.5" height="2.84" fill="#14cc14"/><rect x="197.6" y="543.74" width="1.5" height="2.26" fill="#14ca14"/><rect x="197.6" y="546" width="1.5" height="4.05" fill="#24e624"/><rect x="197.6" y="550.05" width="1.5" height="3.05" fill="#28ff28"/><rect x="197.6" y="553.1" width="1.5" height="1.5" fill="#23e023"/><rect x="197.6" y="554.6" width="1.5" height="1.92" fill="#551212"/><rect x="197.6" y="556.52" width="1.5" height="1.79" fill="#521212"/><rect x="197.6" y="558.3" width="1.5" height="1.79" fill="#591313"/><rect x="197.6" y="560.09" width="1.5" height="3.64" fill="#5d1414"/><rect x="197.6" y="563.73" width="1.5" height="2" fill="#5a1313"/><rect x="197.6" y="565.73" width="1.5" height="4.27" fill="#501212"/><rect x="197.6" y="570" width="1.5" height="3.9" fill="#551414"/><rect x="197.6" y="573.9" width="1.5" height="2.17" fill="#551414"/><rect x="197.6" y="576.07" width="1.5" height="2.64" fill="#4e1313"/><rect x="197.6" y="578.7" width="1.5" height="4.3" fill="#531414"/><rect x="197.6" y="583" width="1.5" height="2.02" fill="#581212"/><rect x="197.6" y="585.02" width="1.5" height="2.94" fill="#561212"/><rect x="197.6" y="587.96" width="1.5" height="2.11" fill="#561212"/><rect x="197.6" y="590.07" width="1.5" height="3.48" fill="#511111"/><rect x="197.6" y="593.55" width="1.5" height="2.45" fill="#581212"/><rect x="197.6" y="596" width="1.5" height="3" fill="#301913"/><rect x="197.6" y="599" width="1.5" height="1.65" fill="#125212"/><rect x="197.6" y="600.65" width="1.5" height="3.22" fill="#135513"/><rect x="197.6" y="603.87" width="1.5" height="1.77" fill="#145d14"/><rect x="197.6" y="605.64" width="1.5" height="3.65" fill="#145d14"/><rect x="197.6" y="609.29" width="1.5" height="2.71" fill="#125112"/><rect x="197.6" y="612" width="1.5" height="1.7" fill="#134f13"/><rect x="197.6" y="613.7" width="1.5" height="2.3" fill="#124612"/><rect x="197.6" y="616.01" width="1.5" height="2.7" fill="#145114"/><rect x="197.6" y="618.7" width="1.5" height="3.73" fill="#124812"/><rect x="197.6" y="622.43" width="1.5" height="2.57" fill="#145214"/><rect x="197.6" y="625" width="1.5" height="3.08" fill="#135b13"/><rect x="197.6" y="628.08" width="1.5" height="1.83" fill="#115011"/><rect x="197.6" y="629.92" width="1.5" height="3.39" fill="#125712"/><rect x="197.6" y="633.31" width="1.5" height="1.79" fill="#146014"/><rect x="197.6" y="635.09" width="1.5" height="3.25" fill="#135d13"/><rect x="197.6" y="638.34" width="1.5" height="1.82" fill="#145e14"/><rect x="197.6" y="640.16" width="1.5" height="1.77" fill="#145e14"/><rect x="197.6" y="641.93" width="1.5" height="1.67" fill="#125512"/><rect x="240.03" y="150.2" width="1.5" height="3.04" fill="#6d1414"/><rect x="240.03" y="153.24" width="1.5" height="2.3" fill="#5d1212"/><rect x="240.03" y="155.53" width="1.5" height="2.47" fill="#5f1212"/><rect x="240.03" y="158" width="1.5" height="1.88" fill="#631212"/><rect x="240.03" y="159.88" width="1.5" height="1.73" fill="#641212"/><rect x="240.03" y="161.62" width="1.5" height="2.38" fill="#661212"/><rect x="240.03" y="164" width="1.5" height="1.5" fill="#2e4616"/><rect x="240.03" y="165.5" width="1.5" height="3.57" fill="#631212"/><rect x="240.03" y="169.07" width="1.5" height="2.9" fill="#601212"/><rect x="240.03" y="171.97" width="1.5" height="3.03" fill="#5d1111"/><rect x="240.03" y="175" width="1.5" height="2.25" fill="#561111"/><rect x="240.03" y="177.25" width="1.5" height="3.51" fill="#601313"/><rect x="240.03" y="180.76" width="1.5" height="2.09" fill="#5e1313"/><rect x="240.03" y="182.85" width="1.5" height="2.15" fill="#571212"/><rect x="240.03" y="185" width="1.5" height="3.73" fill="#661212"/><rect x="240.03" y="188.73" width="1.5" height="2.89" fill="#6e1414"/><rect x="240.03" y="191.62" width="1.5" height="3.38" fill="#671313"/><rect x="240.03" y="195" width="1.5" height="3.39" fill="#621414"/><rect x="240.03" y="198.39" width="1.5" height="2.49" fill="#5f1414"/><rect x="240.03" y="200.88" width="1.5" height="1.62" fill="#5c1313"/><rect x="240.03" y="202.5" width="1.5" height="2.65" fill="#971212"/><rect x="240.03" y="205.15" width="1.5" height="1.74" fill="#901212"/><rect x="240.03" y="206.89" width="1.5" height="1.78" fill="#a31313"/><rect x="240.03" y="208.68" width="1.5" height="3.32" fill="#911212"/><rect x="240.03" y="212" width="1.5" height="1.82" fill="#a11414"/><rect x="240.03" y="213.82" width="1.5" height="3.86" fill="#9b1313"/><rect x="240.03" y="217.68" width="1.5" height="2.32" fill="#8e1212"/><rect x="240.03" y="220" width="1.5" height="2.36" fill="#771212"/><rect x="240.03" y="222.36" width="1.5" height="2.01" fill="#761212"/><rect x="240.03" y="224.37" width="1.5" height="2.28" fill="#831414"/><rect x="240.03" y="226.66" width="1.5" height="4.13" fill="#791313"/><rect x="240.03" y="230.78" width="1.5" height="2.24" fill="#831414"/><rect x="240.03" y="233.02" width="1.5" height="1.98" fill="#741212"/><rect x="240.03" y="235" width="1.5" height="1.6" fill="#6f1212"/><rect x="240.03" y="236.6" width="1.5" height="2.83" fill="#721313"/><rect x="240.03" y="239.44" width="1.5" height="2.12" fill="#721313"/><rect x="240.03" y="241.56" width="1.5" height="1.61" fill="#6d1212"/><rect x="240.03" y="243.17" width="1.5" height="1.83" fill="#701212"/><rect x="240.03" y="245.01" width="1.5" height="1.71" fill="#671111"/><rect x="240.03" y="246.71" width="1.5" height="3.29" fill="#6c1212"/><rect x="240.03" y="250" width="1.5" height="3.12" fill="#6d1313"/><rect x="240.03" y="253.12" width="1.5" height="3.55" fill="#701313"/><rect x="240.03" y="256.67" width="1.5" height="3.46" fill="#751414"/><rect x="240.03" y="260.14" width="1.5" height="2.61" fill="#691212"/><rect x="240.03" y="262.75" width="1.5" height="2.25" fill="#651212"/><rect x="240.03" y="265" width="1.5" height="3.48" fill="#6a1313"/><rect x="240.03" y="268.48" width="1.5" height="1.71" fill="#6e1414"/><rect x="240.03" y="270.2" width="1.5" height="3.92" fill="#6a1313"/><rect x="240.03" y="274.12" width="1.5" height="3.51" fill="#6e1313"/><rect x="240.03" y="277.62" width="1.5" height="1.96" fill="#681313"/><rect x="240.03" y="279.59" width="1.5" height="2.91" fill="#6e1414"/><rect x="240.03" y="282.5" width="1.5" height="2.5" fill="#6e1313"/><rect x="240.03" y="285" width="1.5" height="3.12" fill="#751414"/><rect x="240.03" y="288.12" width="1.5" height="3.38" fill="#711313"/><rect x="240.03" y="291.49" width="1.5" height="2.2" fill="#621111"/><rect x="240.03" y="293.69" width="1.5" height="1.95" fill="#6a1212"/><rect x="240.03" y="295.64" width="1.5" height="1.87" fill="#741414"/><rect x="240.03" y="297.51" width="1.5" height="2.49" fill="#6f1313"/><rect x="240.03" y="300" width="1.5" height="3.23" fill="#651313"/><rect x="240.03" y="303.23" width="1.5" height="2.87" fill="#581111"/><rect x="240.03" y="306.1" width="1.5" height="3.67" fill="#661313"/><rect x="240.03" y="309.77" width="1.5" height="2.91" fill="#621313"/><rect x="240.03" y="312.68" width="1.5" height="3.31" fill="#591111"/><rect x="240.03" y="316" width="1.5" height="4" fill="#5d1212"/><rect x="240.03" y="320" width="1.5" height="1.79" fill="#621212"/><rect x="240.03" y="321.79" width="1.5" height="3.5" fill="#611212"/><rect x="240.03" y="325.29" width="1.5" height="3.52" fill="#711414"/><rect x="240.03" y="328.81" width="1.5" height="2.88" fill="#651212"/><rect x="240.03" y="331.7" width="1.5" height="2.85" fill="#6b1313"/><rect x="240.03" y="334.54" width="1.5" height="3.59" fill="#6a1313"/><rect x="240.03" y="338.14" width="1.5" height="1.86" fill="#5e1111"/><rect x="240.03" y="340" width="1.5" height="1.98" fill="#5a1212"/><rect x="240.03" y="341.98" width="1.5" height="3.53" fill="#5b1212"/><rect x="240.03" y="345.52" width="1.5" height="3.08" fill="#561111"/><rect x="240.03" y="348.59" width="1.5" height="1.76" fill="#5a1212"/><rect x="240.03" y="350.35" width="1.5" height="3.35" fill="#621313"/><rect x="240.03" y="353.7" width="1.5" height="1.3" fill="#5b1212"/><rect x="240.03" y="355" width="1.5" height="2.94" fill="#591313"/><rect x="240.03" y="357.94" width="1.5" height="2.81" fill="#521212"/><rect x="240.03" y="360.76" width="1.5" height="3.92" fill="#541212"/><rect x="240.03" y="364.68" width="1.5" height="4.14" fill="#611414"/><rect x="240.03" y="368.82" width="1.5" height="1.48" fill="#581212"/><rect x="240.03" y="370.3" width="1.5" height="3.73" fill="#147114"/><rect x="240.03" y="374.03" width="1.5" height="2.77" fill="#126312"/><rect x="240.03" y="376.8" width="1.5" height="2.15" fill="#147114"/><rect x="240.03" y="378.95" width="1.5" height="2.15" fill="#136913"/><rect x="240.03" y="381.09" width="1.5" height="1.97" fill="#136813"/><rect x="240.03" y="383.06" width="1.5" height="1.94" fill="#126012"/><rect x="240.03" y="385" width="1.5" height="3.73" fill="#137513"/><rect x="240.03" y="388.73" width="1.5" height="3.91" fill="#137913"/><rect x="240.03" y="392.64" width="1.5" height="2.2" fill="#147e14"/><rect x="240.03" y="394.84" width="1.5" height="2.86" fill="#116911"/><rect x="240.03" y="397.7" width="1.5" height="2.3" fill="#137413"/><rect x="240.03" y="400" width="1.5" height="2.77" fill="#127f12"/><rect x="240.03" y="402.77" width="1.5" height="1.97" fill="#128012"/><rect x="240.03" y="404.74" width="1.5" height="2.42" fill="#148d14"/><rect x="240.03" y="407.16" width="1.5" height="1.6" fill="#138b13"/><rect x="240.03" y="408.76" width="1.5" height="3.24" fill="#127a12"/><rect x="240.03" y="412" width="1.5" height="4.01" fill="#139a13"/><rect x="240.03" y="416.01" width="1.5" height="3.94" fill="#128d12"/><rect x="240.03" y="419.95" width="1.5" height="2.57" fill="#129112"/><rect x="240.03" y="422.52" width="1.5" height="4.2" fill="#139713"/><rect x="240.03" y="426.72" width="1.5" height="3.28" fill="#129212"/><rect x="240.03" y="430" width="1.5" height="2.32" fill="#118911"/><rect x="240.03" y="432.32" width="1.5" height="1.86" fill="#14a114"/><rect x="240.03" y="434.18" width="1.5" height="2.34" fill="#14a414"/><rect x="240.03" y="436.52" width="1.5" height="2.25" fill="#129012"/><rect x="240.03" y="438.77" width="1.5" height="2.93" fill="#128d12"/><rect x="240.03" y="441.7" width="1.5" height="2.57" fill="#14a514"/><rect x="240.03" y="444.27" width="1.5" height="3.9" fill="#13a113"/><rect x="240.03" y="448.17" width="1.5" height="3.24" fill="#14a414"/><rect x="240.03" y="451.41" width="1.5" height="4.59" fill="#139913"/><rect x="240.03" y="456" width="1.5" height="3.47" fill="#115e11"/><rect x="240.03" y="459.47" width="1.5" height="3.5" fill="#126712"/><rect x="240.03" y="462.98" width="1.5" height="3.56" fill="#136b13"/><rect x="240.03" y="466.53" width="1.5" height="1.47" fill="#115e11"/><rect x="240.03" y="468" width="1.5" height="1.5" fill="#1e4616"/><rect x="240.03" y="469.5" width="1.5" height="4.5" fill="#125d12"/><rect x="240.03" y="474" width="1.5" height="2.83" fill="#128012"/><rect x="240.03" y="476.83" width="1.5" height="2.37" fill="#138b13"/><rect x="240.03" y="479.2" width="1.5" height="4.14" fill="#127e12"/><rect x="240.03" y="483.34" width="1.5" height="3.31" fill="#127f12"/><rect x="240.03" y="486.65" width="1.5" height="3.35" fill="#128112"/><rect x="240.03" y="490" width="1.5" height="2.04" fill="#128212"/><rect x="240.03" y="492.04" width="1.5" height="2.14" fill="#149814"/><rect x="240.03" y="494.18" width="1.5" height="2.89" fill="#128412"/><rect x="240.03" y="497.07" width="1.5" height="3.96" fill="#149a14"/><rect x="240.03" y="501.02" width="1.5" height="2.77" fill="#128212"/><rect x="240.03" y="503.79" width="1.5" height="1.21" fill="#128012"/><rect x="240.03" y="505" width="1.5" height="2.49" fill="#128f12"/><rect x="240.03" y="507.49" width="1.5" height="2.22" fill="#129412"/><rect x="240.03" y="509.71" width="1.5" height="3.08" fill="#14a814"/><rect x="240.03" y="512.79" width="1.5" height="3.55" fill="#129912"/><rect x="240.03" y="516.34" width="1.5" height="3.66" fill="#139c13"/><rect x="240.03" y="520" width="1.5" height="2.58" fill="#12a612"/><rect x="240.03" y="522.58" width="1.5" height="1.76" fill="#12a412"/><rect x="240.03" y="524.34" width="1.5" height="4.12" fill="#129e12"/><rect x="240.03" y="528.46" width="1.5" height="3.54" fill="#13b013"/><rect x="240.03" y="532" width="1.5" height="3.84" fill="#12ac12"/><rect x="240.03" y="535.84" width="1.5" height="2.3" fill="#12ad12"/><rect x="240.03" y="538.15" width="1.5" height="2.64" fill="#12b412"/><rect x="240.03" y="540.79" width="1.5" height="5.21" fill="#14c414"/><rect x="240.03" y="546" width="1.5" height="3.87" fill="#22da22"/><rect x="240.03" y="549.87" width="1.5" height="1.68" fill="#27fd27"/><rect x="240.03" y="551.55" width="1.5" height="3.05" fill="#25f125"/><rect x="240.03" y="554.6" width="1.5" height="3.13" fill="#531111"/><rect x="240.03" y="557.73" width="1.5" height="2.62" fill="#641414"/><rect x="240.03" y="560.34" width="1.5" height="3.75" fill="#631414"/><rect x="240.03" y="564.09" width="1.5" height="4.13" fill="#571212"/><rect x="240.03" y="568.22" width="1.5" height="1.78" fill="#561212"/><rect x="240.03" y="570" width="1.5" height="2.96" fill="#551313"/><rect x="240.03" y="572.96" width="1.5" height="4.05" fill="#561313"/><rect x="240.03" y="577.01" width="1.5" height="3.28" fill="#571313"/><rect x="240.03" y="580.29" width="1.5" height="2.71" fill="#531313"/><rect x="240.03" y="583" width="1.5" height="1.7" fill="#5b1313"/><rect x="240.03" y="584.7" width="1.5" height="2.2" fill="#5e1414"/><rect x="240.03" y="586.91" width="1.5" height="3.28" fill="#531212"/><rect x="240.03" y="590.19" width="1.5" height="1.93" fill="#521212"/><rect x="240.03" y="592.12" width="1.5" height="3.25" fill="#5a1313"/><rect x="240.03" y="595.37" width="1.5" height="1.63" fill="#4f1111"/><rect x="240.03" y="597" width="1.5" height="2.96" fill="#135913"/><rect x="240.03" y="599.96" width="1.5" height="2.61" fill="#125312"/><rect x="240.03" y="602.57" width="1.5" height="3.16" fill="#114f11"/><rect x="240.03" y="605.74" width="1.5" height="2.38" fill="#135713"/><rect x="240.03" y="608.12" width="1.5" height="3.88" fill="#135a13"/><rect x="240.03" y="612" width="1.5" height="3.9" fill="#134e13"/><rect x="240.03" y="615.9" width="1.5" height="2.21" fill="#124b12"/><rect x="240.03" y="618.11" width="1.5" height="4.1" fill="#135213"/><rect x="240.03" y="622.21" width="1.5" height="2.79" fill="#114711"/><rect x="240.03" y="625" width="1.5" height="2.9" fill="#136013"/><rect x="240.03" y="627.9" width="1.5" height="2.69" fill="#125812"/><rect x="240.03" y="630.59" width="1.5" height="3.34" fill="#146514"/><rect x="240.03" y="633.92" width="1.5" height="2.19" fill="#115411"/><rect x="240.03" y="636.11" width="1.5" height="2.48" fill="#125b12"/><rect x="240.03" y="638.59" width="1.5" height="3.37" fill="#125712"/><rect x="240.03" y="641.97" width="1.5" height="1.63" fill="#136113"/><rect x="282.46" y="150.2" width="1.5" height="2.91" fill="#691212"/><rect x="282.46" y="153.11" width="1.5" height="4.12" fill="#6b1212"/><rect x="282.46" y="157.23" width="1.5" height="2.77" fill="#691212"/><rect x="282.46" y="160" width="1.5" height="2.18" fill="#7b1313"/><rect x="282.46" y="162.18" width="1.5" height="2.37" fill="#801414"/><rect x="282.46" y="164.54" width="1.5" height="2.89" fill="#6e1212"/><rect x="282.46" y="167.43" width="1.5" height="2.57" fill="#731212"/><rect x="282.46" y="170" width="1.5" height="3.33" fill="#731414"/><rect x="282.46" y="173.33" width="1.5" height="1.98" fill="#681212"/><rect x="282.46" y="175.31" width="1.5" height="2.15" fill="#741414"/><rect x="282.46" y="177.46" width="1.5" height="2.54" fill="#601111"/><rect x="282.46" y="180" width="1.5" height="1.76" fill="#701212"/><rect x="282.46" y="181.76" width="1.5" height="3.94" fill="#7b1414"/><rect x="282.46" y="185.69" width="1.5" height="4.31" fill="#7e1414"/><rect x="282.46" y="190" width="1.5" height="4.02" fill="#641212"/><rect x="282.46" y="194.02" width="1.5" height="2.48" fill="#701414"/><rect x="282.46" y="196.5" width="1.5" height="2.5" fill="#3e1913"/><rect x="282.46" y="199" width="1.5" height="3.5" fill="#601111"/><rect x="282.46" y="202.5" width="1.5" height="3.33" fill="#881212"/><rect x="282.46" y="205.83" width="1.5" height="2.57" fill="#861212"/><rect x="282.46" y="208.4" width="1.5" height="2.04" fill="#7d1111"/><rect x="282.46" y="210.44" width="1.5" height="1.56" fill="#871212"/><rect x="282.46" y="212" width="1.5" height="4.08" fill="#7b1212"/><rect x="282.46" y="216.08" width="1.5" height="4.11" fill="#7e1212"/><rect x="282.46" y="220.19" width="1.5" height="2.53" fill="#8e1313"/><rect x="282.46" y="222.72" width="1.5" height="2.28" fill="#841212"/><rect x="282.46" y="225" width="1.5" height="1.73" fill="#7d1313"/><rect x="282.46" y="226.73" width="1.5" height="2.57" fill="#881414"/><rect x="282.46" y="229.3" width="1.5" height="2.1" fill="#7a1212"/><rect x="282.46" y="231.4" width="1.5" height="3.6" fill="#711111"/><rect x="282.46" y="235" width="1.5" height="2.67" fill="#9a1313"/><rect x="282.46" y="237.67" width="1.5" height="2.33" fill="#831111"/><rect x="282.46" y="240" width="1.5" height="1.69" fill="#701111"/><rect x="282.46" y="241.69" width="1.5" height="3.99" fill="#741212"/><rect x="282.46" y="245.68" width="1.5" height="3.54" fill="#841414"/><rect x="282.46" y="249.23" width="1.5" height="2.48" fill="#751212"/><rect x="282.46" y="251.71" width="1.5" height="3.29" fill="#7d1313"/><rect x="282.46" y="255" width="1.5" height="2.28" fill="#771313"/><rect x="282.46" y="257.28" width="1.5" height="2.42" fill="#6d1212"/><rect x="282.46" y="259.7" width="1.5" height="1.61" fill="#781313"/><rect x="282.46" y="261.31" width="1.5" height="3.98" fill="#751313"/><rect x="282.46" y="265.3" width="1.5" height="4.7" fill="#671111"/><rect x="282.46" y="270" width="1.5" height="2.21" fill="#741313"/><rect x="282.46" y="272.21" width="1.5" height="4.09" fill="#801414"/><rect x="282.46" y="276.3" width="1.5" height="2.6" fill="#6f1212"/><rect x="282.46" y="278.9" width="1.5" height="2.72" fill="#751313"/><rect x="282.46" y="281.62" width="1.5" height="4.01" fill="#6d1212"/><rect x="282.46" y="285.63" width="1.5" height="4.37" fill="#7b1313"/><rect x="282.46" y="290" width="1.5" height="3.74" fill="#841313"/><rect x="282.46" y="293.74" width="1.5" height="3.18" fill="#791212"/><rect x="282.46" y="296.92" width="1.5" height="2.43" fill="#7a1212"/><rect x="282.46" y="299.35" width="1.5" height="3.63" fill="#731111"/><rect x="282.46" y="302.98" width="1.5" height="2.02" fill="#841313"/><rect x="282.46" y="305" width="1.5" height="2.24" fill="#681111"/><rect x="282.46" y="307.24" width="1.5" height="1.69" fill="#731313"/><rect x="282.46" y="308.93" width="1.5" height="2.45" fill="#7d1414"/><rect x="282.46" y="311.38" width="1.5" height="3.9" fill="#7d1414"/><rect x="282.46" y="315.28" width="1.5" height="2.29" fill="#691111"/><rect x="282.46" y="317.56" width="1.5" height="2.44" fill="#721313"/><rect x="282.46" y="320" width="1.5" height="3.45" fill="#691212"/><rect x="282.46" y="323.45" width="1.5" height="2.21" fill="#681212"/><rect x="282.46" y="325.65" width="1.5" height="3.21" fill="#6e1313"/><rect x="282.46" y="328.87" width="1.5" height="3.54" fill="#711414"/><rect x="282.46" y="332.41" width="1.5" height="3.33" fill="#621212"/><rect x="282.46" y="335.74" width="1.5" height="4.26" fill="#651212"/><rect x="282.46" y="340" width="1.5" height="3.07" fill="#641212"/><rect x="282.46" y="343.07" width="1.5" height="3.52" fill="#611212"/><rect x="282.46" y="346.59" width="1.5" height="2.24" fill="#621212"/><rect x="282.46" y="348.84" width="1.5" height="2" fill="#6f1414"/><rect x="282.46" y="350.83" width="1.5" height="4.17" fill="#631212"/><rect x="282.46" y="355" width="1.5" height="2.63" fill="#6b1414"/><rect x="282.46" y="357.63" width="1.5" height="2.92" fill="#5c1212"/><rect x="282.46" y="360.55" width="1.5" height="3.7" fill="#651313"/><rect x="282.46" y="364.25" width="1.5" height="5.25" fill="#5a1212"/><rect x="282.46" y="369.5" width="1.5" height="2.83" fill="#411a13"/><rect x="282.46" y="372.33" width="1.5" height="2.67" fill="#421b14"/><rect x="282.46" y="375" width="1.5" height="1.7" fill="#126312"/><rect x="282.46" y="376.7" width="1.5" height="1.91" fill="#126112"/><rect x="282.46" y="378.61" width="1.5" height="4.13" fill="#136913"/><rect x="282.46" y="382.74" width="1.5" height="4.02" fill="#126512"/><rect x="282.46" y="386.76" width="1.5" height="3.24" fill="#126712"/><rect x="282.46" y="390" width="1.5" height="2.28" fill="#137b13"/><rect x="282.46" y="392.28" width="1.5" height="4.06" fill="#126b12"/><rect x="282.46" y="396.33" width="1.5" height="3.67" fill="#137713"/><rect x="282.46" y="400" width="1.5" height="2.17" fill="#127a12"/><rect x="282.46" y="402.17" width="1.5" height="1.97" fill="#127612"/><rect x="282.46" y="404.13" width="1.5" height="2.26" fill="#138013"/><rect x="282.46" y="406.4" width="1.5" height="3.29" fill="#127612"/><rect x="282.46" y="409.69" width="1.5" height="2.31" fill="#127912"/><rect x="282.46" y="412" width="1.5" height="3.36" fill="#127c12"/><rect x="282.46" y="415.36" width="1.5" height="2.41" fill="#127c12"/><rect x="282.46" y="417.78" width="1.5" height="3.67" fill="#138513"/><rect x="282.46" y="421.44" width="1.5" height="1.76" fill="#127912"/><rect x="282.46" y="423.21" width="1.5" height="1.79" fill="#138513"/><rect x="282.46" y="425" width="1.5" height="3.26" fill="#128a12"/><rect x="282.46" y="428.26" width="1.5" height="2.03" fill="#139d13"/><rect x="282.46" y="430.29" width="1.5" height="2.67" fill="#129012"/><rect x="282.46" y="432.95" width="1.5" height="2.4" fill="#14a514"/><rect x="282.46" y="435.35" width="1.5" height="2.65" fill="#139913"/><rect x="282.46" y="438" width="1.5" height="2.53" fill="#12a112"/><rect x="282.46" y="440.53" width="1.5" height="3.85" fill="#14b414"/><rect x="282.46" y="444.38" width="1.5" height="2.55" fill="#129912"/><rect x="282.46" y="446.92" width="1.5" height="3.49" fill="#129a12"/><rect x="282.46" y="450.41" width="1.5" height="1.62" fill="#14b114"/><rect x="282.46" y="452.03" width="1.5" height="2.7" fill="#13ae13"/><rect x="282.46" y="454.73" width="1.5" height="1.27" fill="#14b014"/><rect x="282.46" y="456" width="1.5" height="2.8" fill="#126412"/><rect x="282.46" y="458.8" width="1.5" height="1.64" fill="#136c13"/><rect x="282.46" y="460.44" width="1.5" height="3.27" fill="#147414"/><rect x="282.46" y="463.7" width="1.5" height="1.83" fill="#136d13"/><rect x="282.46" y="465.53" width="1.5" height="2.56" fill="#136b13"/><rect x="282.46" y="468.1" width="1.5" height="1.98" fill="#126612"/><rect x="282.46" y="470.08" width="1.5" height="3.92" fill="#147414"/><rect x="282.46" y="474" width="1.5" height="1.88" fill="#138113"/><rect x="282.46" y="475.88" width="1.5" height="3.69" fill="#148d14"/><rect x="282.46" y="479.58" width="1.5" height="2.11" fill="#127712"/><rect x="282.46" y="481.69" width="1.5" height="4.05" fill="#148d14"/><rect x="282.46" y="485.74" width="1.5" height="2.86" fill="#117511"/><rect x="282.46" y="488.6" width="1.5" height="1.4" fill="#127e12"/><rect x="282.46" y="490" width="1.5" height="3.95" fill="#138f13"/><rect x="282.46" y="493.95" width="1.5" height="3.74" fill="#128212"/><rect x="282.46" y="497.69" width="1.5" height="3.64" fill="#128412"/><rect x="282.46" y="501.34" width="1.5" height="3.66" fill="#149614"/><rect x="282.46" y="505" width="1.5" height="3.76" fill="#128d12"/><rect x="282.46" y="508.76" width="1.5" height="2.17" fill="#129412"/><rect x="282.46" y="510.92" width="1.5" height="2.95" fill="#129312"/><rect x="282.46" y="513.87" width="1.5" height="1.92" fill="#128f12"/><rect x="282.46" y="515.79" width="1.5" height="4.21" fill="#14a314"/><rect x="282.46" y="520" width="1.5" height="1.71" fill="#13a613"/><rect x="282.46" y="521.71" width="1.5" height="3.57" fill="#119411"/><rect x="282.46" y="525.28" width="1.5" height="3.78" fill="#129712"/><rect x="282.46" y="529.06" width="1.5" height="2.94" fill="#13a513"/><rect x="282.46" y="532" width="1.5" height="3.23" fill="#12ac12"/><rect x="282.46" y="535.23" width="1.5" height="2.69" fill="#13b613"/><rect x="282.46" y="537.92" width="1.5" height="2.71" fill="#13b913"/><rect x="282.46" y="540.63" width="1.5" height="2.76" fill="#12b112"/><rect x="282.46" y="543.39" width="1.5" height="2.61" fill="#13b813"/><rect x="282.46" y="546" width="1.5" height="2.87" fill="#24e524"/><rect x="282.46" y="548.87" width="1.5" height="3.59" fill="#27ff27"/><rect x="282.46" y="552.46" width="1.5" height="2.14" fill="#23e223"/><rect x="282.46" y="554.6" width="1.5" height="2.83" fill="#501212"/><rect x="282.46" y="557.43" width="1.5" height="1.93" fill="#551212"/><rect x="282.46" y="559.36" width="1.5" height="1.84" fill="#551212"/><rect x="282.46" y="561.2" width="1.5" height="2.93" fill="#4f1111"/><rect x="282.46" y="564.13" width="1.5" height="3.25" fill="#4f1111"/><rect x="282.46" y="567.38" width="1.5" height="2.62" fill="#5b1313"/><rect x="282.46" y="570" width="1.5" height="2.93" fill="#4a1111"/><rect x="282.46" y="572.93" width="1.5" height="2.91" fill="#4f1212"/><rect x="282.46" y="575.84" width="1.5" height="4.07" fill="#4b1212"/><rect x="282.46" y="579.91" width="1.5" height="3.83" fill="#591414"/><rect x="282.46" y="583.74" width="1.5" height="1.26" fill="#561313"/><rect x="282.46" y="585" width="1.5" height="2.1" fill="#4f1414"/><rect x="282.46" y="587.1" width="1.5" height="2.88" fill="#4f1414"/><rect x="282.46" y="589.98" width="1.5" height="4.02" fill="#441212"/><rect x="282.46" y="594" width="1.5" height="3.65" fill="#331b14"/><rect x="282.46" y="597.65" width="1.5" height="1.35" fill="#2e1812"/><rect x="282.46" y="599" width="1.5" height="3.57" fill="#125612"/><rect x="282.46" y="602.57" width="1.5" height="3.93" fill="#125912"/><rect x="282.46" y="606.5" width="1.5" height="3.72" fill="#125612"/><rect x="282.46" y="610.22" width="1.5" height="1.78" fill="#146414"/><rect x="282.46" y="612" width="1.5" height="2.14" fill="#125112"/><rect x="282.46" y="614.14" width="1.5" height="2.92" fill="#125212"/><rect x="282.46" y="617.06" width="1.5" height="1.7" fill="#124f12"/><rect x="282.46" y="618.75" width="1.5" height="2.02" fill="#145c14"/><rect x="282.46" y="620.77" width="1.5" height="4.23" fill="#145b14"/><rect x="282.46" y="625" width="1.5" height="2.04" fill="#136413"/><rect x="282.46" y="627.04" width="1.5" height="1.9" fill="#135f13"/><rect x="282.46" y="628.94" width="1.5" height="3.25" fill="#125c12"/><rect x="282.46" y="632.19" width="1.5" height="3.87" fill="#135f13"/><rect x="282.46" y="636.06" width="1.5" height="3.11" fill="#146514"/><rect x="282.46" y="639.17" width="1.5" height="1.87" fill="#146814"/><rect x="282.46" y="641.04" width="1.5" height="2.56" fill="#125c12"/><rect x="324.89" y="150.2" width="1.5" height="1.6" fill="#1cce1c"/><rect x="324.89" y="151.8" width="1.5" height="3.67" fill="#128512"/><rect x="324.89" y="155.47" width="1.5" height="4.53" fill="#138e13"/><rect x="324.89" y="160" width="1.5" height="2.54" fill="#138b13"/><rect x="324.89" y="162.54" width="1.5" height="2.75" fill="#127b12"/><rect x="324.89" y="165.29" width="1.5" height="4.71" fill="#117811"/><rect x="324.89" y="170" width="1.5" height="3.73" fill="#127712"/><rect x="324.89" y="173.73" width="1.5" height="2.77" fill="#148a14"/><rect x="324.89" y="176.5" width="1.5" height="1.5" fill="#1e4616"/><rect x="324.89" y="178" width="1.5" height="3.12" fill="#138813"/><rect x="324.89" y="181.12" width="1.5" height="2.41" fill="#117711"/><rect x="324.89" y="183.54" width="1.5" height="1.46" fill="#127b12"/><rect x="324.89" y="185" width="1.5" height="3.2" fill="#127612"/><rect x="324.89" y="188.2" width="1.5" height="2.93" fill="#148114"/><rect x="324.89" y="191.13" width="1.5" height="1.94" fill="#127112"/><rect x="324.89" y="193.08" width="1.5" height="1.92" fill="#116c11"/><rect x="324.89" y="195" width="1.5" height="1.61" fill="#127d12"/><rect x="324.89" y="196.61" width="1.5" height="1.88" fill="#127d12"/><rect x="324.89" y="198.48" width="1.5" height="2.18" fill="#138313"/><rect x="324.89" y="200.67" width="1.5" height="1.53" fill="#127912"/><rect x="324.89" y="202.2" width="1.5" height="3.22" fill="#13a313"/><rect x="324.89" y="205.42" width="1.5" height="1.95" fill="#14b214"/><rect x="324.89" y="207.37" width="1.5" height="2.23" fill="#129812"/><rect x="324.89" y="209.61" width="1.5" height="1.85" fill="#13a813"/><rect x="324.89" y="211.45" width="1.5" height="3.55" fill="#13ad13"/><rect x="324.89" y="215" width="1.5" height="1.5" fill="#451913"/><rect x="324.89" y="216.5" width="1.5" height="2.65" fill="#1c421c"/><rect x="324.89" y="219.15" width="1.5" height="2.05" fill="#1e471e"/><rect x="324.89" y="221.2" width="1.5" height="3.06" fill="#12ae12"/><rect x="324.89" y="224.26" width="1.5" height="3.28" fill="#12b112"/><rect x="324.89" y="227.54" width="1.5" height="1.46" fill="#13bc13"/><rect x="324.89" y="229" width="1.5" height="2.25" fill="#149214"/><rect x="324.89" y="231.25" width="1.5" height="1.71" fill="#138813"/><rect x="324.89" y="232.96" width="1.5" height="2.66" fill="#128012"/><rect x="324.89" y="235.62" width="1.5" height="1.75" fill="#138f13"/><rect x="324.89" y="237.37" width="1.5" height="2.63" fill="#138913"/><rect x="324.89" y="240" width="1.5" height="4.05" fill="#128912"/><rect x="324.89" y="244.05" width="1.5" height="2.12" fill="#139713"/><rect x="324.89" y="246.17" width="1.5" height="3.83" fill="#139813"/><rect x="324.89" y="250" width="1.5" height="3.71" fill="#126d12"/><rect x="324.89" y="253.71" width="1.5" height="2.4" fill="#127012"/><rect x="324.89" y="256.12" width="1.5" height="1.73" fill="#147d14"/><rect x="324.89" y="257.85" width="1.5" height="4.15" fill="#137913"/><rect x="324.89" y="262" width="1.5" height="1.62" fill="#147214"/><rect x="324.89" y="263.62" width="1.5" height="3.54" fill="#136a13"/><rect x="324.89" y="267.15" width="1.5" height="3.53" fill="#126a12"/><rect x="324.89" y="270.68" width="1.5" height="2.32" fill="#126212"/><rect x="324.89" y="273" width="1.5" height="1.4" fill="#451c13"/><rect x="324.89" y="274.4" width="1.5" height="2.2" fill="#115811"/><rect x="324.89" y="276.6" width="1.5" height="2.47" fill="#136613"/><rect x="324.89" y="279.08" width="1.5" height="3.41" fill="#146814"/><rect x="324.89" y="282.48" width="1.5" height="3.45" fill="#125d12"/><rect x="324.89" y="285.93" width="1.5" height="4.07" fill="#126012"/><rect x="324.89" y="290" width="1.5" height="3.65" fill="#136813"/><rect x="324.89" y="293.65" width="1.5" height="2.29" fill="#136b13"/><rect x="324.89" y="295.94" width="1.5" height="4.86" fill="#126212"/><rect x="324.89" y="300.8" width="1.5" height="4.7" fill="#291f14"/><rect x="324.89" y="305.5" width="1.5" height="2.28" fill="#128f12"/><rect x="324.89" y="307.78" width="1.5" height="3.53" fill="#14a514"/><rect x="324.89" y="311.31" width="1.5" height="3.69" fill="#129212"/><rect x="324.89" y="315" width="1.5" height="3.89" fill="#128912"/><rect x="324.89" y="318.89" width="1.5" height="2.22" fill="#149914"/><rect x="324.89" y="321.11" width="1.5" height="3.24" fill="#139313"/><rect x="324.89" y="324.35" width="1.5" height="1.65" fill="#149b14"/><rect x="324.89" y="326" width="1.5" height="2.82" fill="#145714"/><rect x="324.89" y="328.82" width="1.5" height="2.18" fill="#145714"/><rect x="324.89" y="331" width="1.5" height="2.74" fill="#134813"/><rect x="324.89" y="333.74" width="1.5" height="3.26" fill="#124212"/><rect x="324.89" y="337" width="1.5" height="2.15" fill="#136a13"/><rect x="324.89" y="339.15" width="1.5" height="1.8" fill="#147014"/><rect x="324.89" y="340.95" width="1.5" height="1.98" fill="#115e11"/><rect x="324.89" y="342.93" width="1.5" height="2.07" fill="#147114"/><rect x="324.89" y="345" width="1.5" height="2.5" fill="#125812"/><rect x="324.89" y="347.5" width="1.5" height="1.67" fill="#115611"/><rect x="324.89" y="349.17" width="1.5" height="2.83" fill="#136113"/><rect x="324.89" y="352" width="1.5" height="3.41" fill="#137013"/><rect x="324.89" y="355.41" width="1.5" height="2.59" fill="#136d13"/><rect x="324.89" y="358" width="1.5" height="2.54" fill="#531313"/><rect x="324.89" y="360.54" width="1.5" height="3.73" fill="#541414"/><rect x="324.89" y="364.28" width="1.5" height="1.77" fill="#541414"/><rect x="324.89" y="366.05" width="1.5" height="3.45" fill="#551414"/><rect x="324.89" y="369.5" width="1.5" height="1.88" fill="#711212"/><rect x="324.89" y="371.38" width="1.5" height="1.89" fill="#6c1111"/><rect x="324.89" y="373.27" width="1.5" height="3.8" fill="#7f1313"/><rect x="324.89" y="377.07" width="1.5" height="2.93" fill="#801313"/><rect x="324.89" y="380" width="1.5" height="3.24" fill="#691212"/><rect x="324.89" y="383.24" width="1.5" height="1.86" fill="#651212"/><rect x="324.89" y="385.1" width="1.5" height="3.57" fill="#671212"/><rect x="324.89" y="388.67" width="1.5" height="1.33" fill="#6c1212"/><rect x="324.89" y="390" width="1.5" height="1.65" fill="#5a1212"/><rect x="324.89" y="391.65" width="1.5" height="2.33" fill="#631313"/><rect x="324.89" y="393.99" width="1.5" height="2.56" fill="#5b1212"/><rect x="324.89" y="396.55" width="1.5" height="4.11" fill="#5f1313"/><rect x="324.89" y="400.65" width="1.5" height="4.35" fill="#611313"/><rect x="324.89" y="405" width="1.5" height="1.68" fill="#651212"/><rect x="324.89" y="406.68" width="1.5" height="2.73" fill="#6d1313"/><rect x="324.89" y="409.42" width="1.5" height="2.5" fill="#6b1313"/><rect x="324.89" y="411.92" width="1.5" height="3" fill="#611212"/><rect x="324.89" y="414.92" width="1.5" height="3.84" fill="#5f1212"/><rect x="324.89" y="418.76" width="1.5" height="1.24" fill="#601212"/><rect x="324.89" y="420" width="1.5" height="1.6" fill="#571212"/><rect x="324.89" y="421.6" width="1.5" height="3.58" fill="#651414"/><rect x="324.89" y="425.19" width="1.5" height="1.61" fill="#5c1313"/><rect x="324.89" y="426.8" width="1.5" height="2.88" fill="#611313"/><rect x="324.89" y="429.67" width="1.5" height="2.08" fill="#5c1313"/><rect x="324.89" y="431.75" width="1.5" height="2.5" fill="#621313"/><rect x="324.89" y="434.26" width="1.5" height="2.28" fill="#641414"/><rect x="324.89" y="436.53" width="1.5" height="3.47" fill="#571212"/><rect x="324.89" y="440" width="1.5" height="1.8" fill="#1e7619"/><rect x="324.89" y="441.8" width="1.5" height="3.42" fill="#591313"/><rect x="324.89" y="445.22" width="1.5" height="1.89" fill="#5c1313"/><rect x="324.89" y="447.1" width="1.5" height="1.81" fill="#5e1313"/><rect x="324.89" y="448.91" width="1.5" height="3.41" fill="#5e1313"/><rect x="324.89" y="452.33" width="1.5" height="3.23" fill="#571212"/><rect x="324.89" y="455.56" width="1.5" height="2.44" fill="#571212"/><rect x="324.89" y="458" width="1.5" height="3.92" fill="#5f1111"/><rect x="324.89" y="461.92" width="1.5" height="3.91" fill="#5d1111"/><rect x="324.89" y="465.83" width="1.5" height="2.14" fill="#621212"/><rect x="324.89" y="467.96" width="1.5" height="3.94" fill="#671313"/><rect x="324.89" y="471.9" width="1.5" height="2.1" fill="#6f1414"/><rect x="324.89" y="474" width="1.5" height="2.21" fill="#891313"/><rect x="324.89" y="476.21" width="1.5" height="2.98" fill="#911313"/><rect x="324.89" y="479.19" width="1.5" height="3.56" fill="#8e1313"/><rect x="324.89" y="482.75" width="1.5" height="2.51" fill="#851212"/><rect x="324.89" y="485.25" width="1.5" height="2" fill="#931414"/><rect x="324.89" y="487.26" width="1.5" height="2.74" fill="#911313"/><rect x="324.89" y="490" width="1.5" height="2.04" fill="#8f1212"/><rect x="324.89" y="492.04" width="1.5" height="3.61" fill="#931313"/><rect x="324.89" y="495.65" width="1.5" height="1.93" fill="#901313"/><rect x="324.89" y="497.58" width="1.5" height="3.9" fill="#891212"/><rect x="324.89" y="501.48" width="1.5" height="2.1" fill="#8b1212"/><rect x="324.89" y="503.58" width="1.5" height="1.42" fill="#9b1414"/><rect x="324.89" y="505" width="1.5" height="2" fill="#841212"/><rect x="324.89" y="507" width="1.5" height="2.24" fill="#891212"/><rect x="324.89" y="509.25" width="1.5" height="2.96" fill="#841212"/><rect x="324.89" y="512.2" width="1.5" height="2.45" fill="#851212"/><rect x="324.89" y="514.66" width="1.5" height="4.14" fill="#951313"/><rect x="324.89" y="518.79" width="1.5" height="1.21" fill="#9b1414"/><rect x="324.89" y="520" width="1.5" height="1.86" fill="#951212"/><rect x="324.89" y="521.86" width="1.5" height="4.16" fill="#a21313"/><rect x="324.89" y="526.02" width="1.5" height="3.51" fill="#971212"/><rect x="324.89" y="529.53" width="1.5" height="2.11" fill="#9d1313"/><rect x="324.89" y="531.64" width="1.5" height="1.88" fill="#901212"/><rect x="324.89" y="533.52" width="1.5" height="1.48" fill="#8a1111"/><rect x="324.89" y="535" width="1.5" height="2.64" fill="#9c1313"/><rect x="324.89" y="537.64" width="1.5" height="3.4" fill="#931313"/><rect x="324.89" y="541.04" width="1.5" height="3.96" fill="#921313"/><rect x="324.89" y="545" width="1.5" height="1.97" fill="#9f1313"/><rect x="324.89" y="546.97" width="1.5" height="2.65" fill="#a31313"/><rect x="324.89" y="549.62" width="1.5" height="4.98" fill="#9a1212"/><rect x="324.89" y="554.6" width="1.5" height="3.09" fill="#136313"/><rect x="324.89" y="557.69" width="1.5" height="2.7" fill="#125912"/><rect x="324.89" y="560.39" width="1.5" height="4.61" fill="#146514"/><rect x="324.89" y="565" width="1.5" height="3.61" fill="#135513"/><rect x="324.89" y="568.61" width="1.5" height="3.82" fill="#135513"/><rect x="324.89" y="572.43" width="1.5" height="2.57" fill="#125112"/><rect x="324.89" y="575" width="1.5" height="2.41" fill="#136113"/><rect x="324.89" y="577.41" width="1.5" height="1.85" fill="#125d12"/><rect x="324.89" y="579.27" width="1.5" height="3.63" fill="#136213"/><rect x="324.89" y="582.9" width="1.5" height="2.1" fill="#125a12"/><rect x="324.89" y="585" width="1.5" height="2.7" fill="#125412"/><rect x="324.89" y="587.7" width="1.5" height="3.22" fill="#125312"/><rect x="324.89" y="590.92" width="1.5" height="3.36" fill="#145c14"/><rect x="324.89" y="594.27" width="1.5" height="1.73" fill="#135713"/><rect x="324.89" y="596" width="1.5" height="3.62" fill="#125f12"/><rect x="324.89" y="599.62" width="1.5" height="2.87" fill="#146b14"/><rect x="324.89" y="602.5" width="1.5" height="1.7" fill="#136213"/><rect x="324.89" y="604.2" width="1.5" height="1.8" fill="#136713"/><rect x="324.89" y="606" width="1.5" height="4.05" fill="#135213"/><rect x="324.89" y="610.05" width="1.5" height="1.95" fill="#135313"/><rect x="324.89" y="612" width="1.5" height="3.01" fill="#372a16"/><rect x="324.89" y="615.01" width="1.5" height="2.99" fill="#372a16"/><rect x="324.89" y="618" width="1.5" height="3.76" fill="#134513"/><rect x="324.89" y="621.76" width="1.5" height="2.24" fill="#144b14"/><rect x="324.89" y="624" width="1.5" height="2.15" fill="#401a13"/><rect x="324.89" y="626.15" width="1.5" height="2.85" fill="#411a13"/><rect x="324.89" y="629" width="1.5" height="1.92" fill="#144814"/><rect x="324.89" y="630.92" width="1.5" height="2.52" fill="#113c11"/><rect x="324.89" y="633.44" width="1.5" height="1.56" fill="#124112"/><rect x="324.89" y="635" width="1.5" height="1.63" fill="#361c12"/><rect x="324.89" y="636.63" width="1.5" height="3.37" fill="#391d13"/><rect x="324.89" y="640" width="1.5" height="3.6" fill="#124212"/><rect x="367.32" y="150.2" width="1.5" height="2.18" fill="#138b13"/><rect x="367.32" y="152.38" width="1.5" height="4.62" fill="#138513"/><rect x="367.32" y="157" width="1.5" height="1.6" fill="#26f626"/><rect x="367.32" y="158.6" width="1.5" height="2.17" fill="#138913"/><rect x="367.32" y="160.77" width="1.5" height="2.62" fill="#127912"/><rect x="367.32" y="163.39" width="1.5" height="1.94" fill="#138813"/><rect x="367.32" y="165.32" width="1.5" height="4.68" fill="#138413"/><rect x="367.32" y="170" width="1.5" height="2.82" fill="#137913"/><rect x="367.32" y="172.82" width="1.5" height="2.19" fill="#148314"/><rect x="367.32" y="175.01" width="1.5" height="2.52" fill="#137b13"/><rect x="367.32" y="177.53" width="1.5" height="3.73" fill="#137f13"/><rect x="367.32" y="181.25" width="1.5" height="3.75" fill="#127212"/><rect x="367.32" y="185" width="1.5" height="3.03" fill="#127412"/><rect x="367.32" y="188.03" width="1.5" height="3.77" fill="#127a12"/><rect x="367.32" y="191.79" width="1.5" height="3.81" fill="#127812"/><rect x="367.32" y="195.6" width="1.5" height="2.58" fill="#127712"/><rect x="367.32" y="198.18" width="1.5" height="1.32" fill="#127612"/><rect x="367.32" y="199.5" width="1.5" height="3" fill="#1e3616"/><rect x="367.32" y="202.5" width="1.5" height="1" fill="#138613"/><rect x="367.32" y="203.5" width="1.5" height="1.5" fill="#26e626"/><rect x="367.32" y="205" width="1.5" height="1.61" fill="#139e13"/><rect x="367.32" y="206.61" width="1.5" height="2.33" fill="#128f12"/><rect x="367.32" y="208.94" width="1.5" height="2.38" fill="#139613"/><rect x="367.32" y="211.32" width="1.5" height="2.71" fill="#139b13"/><rect x="367.32" y="214.04" width="1.5" height="3.31" fill="#129312"/><rect x="367.32" y="217.35" width="1.5" height="1.65" fill="#14a214"/><rect x="367.32" y="219" width="1.5" height="3" fill="#1e3616"/><rect x="367.32" y="222" width="1.5" height="1.75" fill="#138d13"/><rect x="367.32" y="223.75" width="1.5" height="3.96" fill="#138c13"/><rect x="367.32" y="227.7" width="1.5" height="1.97" fill="#138d13"/><rect x="367.32" y="229.67" width="1.5" height="3.25" fill="#117711"/><rect x="367.32" y="232.91" width="1.5" height="2.09" fill="#149014"/><rect x="367.32" y="235" width="1.5" height="3.31" fill="#128912"/><rect x="367.32" y="238.31" width="1.5" height="1.86" fill="#128612"/><rect x="367.32" y="240.17" width="1.5" height="2.21" fill="#139913"/><rect x="367.32" y="242.38" width="1.5" height="2.5" fill="#128612"/><rect x="367.32" y="244.88" width="1.5" height="5.12" fill="#139913"/><rect x="367.32" y="250" width="1.5" height="2.04" fill="#148114"/><rect x="367.32" y="252.04" width="1.5" height="3.18" fill="#137e13"/><rect x="367.32" y="255.22" width="1.5" height="3.34" fill="#148114"/><rect x="367.32" y="258.56" width="1.5" height="3.65" fill="#148014"/><rect x="367.32" y="262.21" width="1.5" height="2.11" fill="#137c13"/><rect x="367.32" y="264.32" width="1.5" height="2.48" fill="#137d13"/><rect x="367.32" y="266.8" width="1.5" height="2.74" fill="#1e4a17"/><rect x="367.32" y="269.54" width="1.5" height="2.46" fill="#1b4215"/><rect x="367.32" y="272" width="1.5" height="1" fill="#136613"/><rect x="367.32" y="273" width="1.5" height="1.4" fill="#451c13"/><rect x="367.32" y="274.4" width="1.5" height="2.21" fill="#126012"/><rect x="367.32" y="276.61" width="1.5" height="2.88" fill="#115f11"/><rect x="367.32" y="279.49" width="1.5" height="2.81" fill="#126012"/><rect x="367.32" y="282.31" width="1.5" height="2.69" fill="#136813"/><rect x="367.32" y="285" width="1.5" height="3" fill="#146c14"/><rect x="367.32" y="288" width="1.5" height="1.62" fill="#146b14"/><rect x="367.32" y="289.62" width="1.5" height="2.82" fill="#136613"/><rect x="367.32" y="292.44" width="1.5" height="3.33" fill="#146b14"/><rect x="367.32" y="295.77" width="1.5" height="2.57" fill="#126312"/><rect x="367.32" y="298.34" width="1.5" height="2.06" fill="#115c11"/><rect x="367.32" y="300.4" width="1.5" height="3.26" fill="#13a513"/><rect x="367.32" y="303.66" width="1.5" height="1.84" fill="#13a413"/><rect x="367.32" y="305.5" width="1.5" height="3.37" fill="#148214"/><rect x="367.32" y="308.87" width="1.5" height="2.46" fill="#148314"/><rect x="367.32" y="311.33" width="1.5" height="2.93" fill="#137713"/><rect x="367.32" y="314.26" width="1.5" height="3.93" fill="#116c11"/><rect x="367.32" y="318.2" width="1.5" height="1.8" fill="#137b13"/><rect x="367.32" y="320" width="1.5" height="2.48" fill="#147614"/><rect x="367.32" y="322.48" width="1.5" height="2.55" fill="#136d13"/><rect x="367.32" y="325.03" width="1.5" height="2.97" fill="#137413"/><rect x="367.32" y="328" width="1.5" height="2.15" fill="#126d12"/><rect x="367.32" y="330.15" width="1.5" height="2.7" fill="#136f13"/><rect x="367.32" y="332.84" width="1.5" height="4.66" fill="#126912"/><rect x="367.32" y="337.5" width="1.5" height="1.5" fill="#4c1913"/><rect x="367.32" y="339" width="1.5" height="3.75" fill="#126312"/><rect x="367.32" y="342.75" width="1.5" height="2.91" fill="#126012"/><rect x="367.32" y="345.66" width="1.5" height="3.84" fill="#146e14"/><rect x="367.32" y="349.5" width="1.5" height="1.5" fill="#451913"/><rect x="367.32" y="351" width="1.5" height="3.3" fill="#136713"/><rect x="367.32" y="354.3" width="1.5" height="2.46" fill="#125e12"/><rect x="367.32" y="356.76" width="1.5" height="2.94" fill="#136313"/><rect x="367.32" y="359.7" width="1.5" height="3.25" fill="#521313"/><rect x="367.32" y="362.95" width="1.5" height="1.7" fill="#521313"/><rect x="367.32" y="364.65" width="1.5" height="3.35" fill="#4f1313"/><rect x="367.32" y="368" width="1.5" height="1.73" fill="#771212"/><rect x="367.32" y="369.73" width="1.5" height="1.62" fill="#741212"/><rect x="367.32" y="371.35" width="1.5" height="4" fill="#7f1313"/><rect x="367.32" y="375.34" width="1.5" height="3.31" fill="#831313"/><rect x="367.32" y="378.65" width="1.5" height="1.35" fill="#7f1313"/><rect x="367.32" y="380" width="1.5" height="3.2" fill="#751313"/><rect x="367.32" y="383.2" width="1.5" height="3.41" fill="#741313"/><rect x="367.32" y="386.61" width="1.5" height="3.39" fill="#6c1212"/><rect x="367.32" y="390" width="1.5" height="3.33" fill="#631212"/><rect x="367.32" y="393.33" width="1.5" height="3.58" fill="#5c1212"/><rect x="367.32" y="396.92" width="1.5" height="2.07" fill="#5b1111"/><rect x="367.32" y="398.99" width="1.5" height="3.61" fill="#6d1414"/><rect x="367.32" y="402.6" width="1.5" height="2.4" fill="#621212"/><rect x="367.32" y="405" width="1.5" height="3.74" fill="#701313"/><rect x="367.32" y="408.74" width="1.5" height="3.06" fill="#651212"/><rect x="367.32" y="411.8" width="1.5" height="2.39" fill="#681212"/><rect x="367.32" y="414.19" width="1.5" height="2.43" fill="#681212"/><rect x="367.32" y="416.61" width="1.5" height="3.39" fill="#731414"/><rect x="367.32" y="420" width="1.5" height="1.74" fill="#601313"/><rect x="367.32" y="421.74" width="1.5" height="1.7" fill="#581212"/><rect x="367.32" y="423.44" width="1.5" height="3.71" fill="#601313"/><rect x="367.32" y="427.15" width="1.5" height="3.99" fill="#5e1212"/><rect x="367.32" y="431.14" width="1.5" height="1.64" fill="#5d1212"/><rect x="367.32" y="432.78" width="1.5" height="3.14" fill="#671414"/><rect x="367.32" y="435.92" width="1.5" height="4.08" fill="#5e1313"/><rect x="367.32" y="440" width="1.5" height="1.8" fill="#1e7619"/><rect x="367.32" y="441.8" width="1.5" height="2.67" fill="#521212"/><rect x="367.32" y="444.47" width="1.5" height="3.28" fill="#541212"/><rect x="367.32" y="447.75" width="1.5" height="1.99" fill="#511111"/><rect x="367.32" y="449.74" width="1.5" height="1.61" fill="#5c1313"/><rect x="367.32" y="451.36" width="1.5" height="1.92" fill="#611414"/><rect x="367.32" y="453.27" width="1.5" height="1.83" fill="#601414"/><rect x="367.32" y="455.1" width="1.5" height="2.9" fill="#511111"/><rect x="367.32" y="458" width="1.5" height="3.47" fill="#671212"/><rect x="367.32" y="461.47" width="1.5" height="3.51" fill="#661212"/><rect x="367.32" y="464.98" width="1.5" height="1.73" fill="#731313"/><rect x="367.32" y="466.71" width="1.5" height="3.46" fill="#741414"/><rect x="367.32" y="470.16" width="1.5" height="3.84" fill="#641111"/><rect x="367.32" y="474" width="1.5" height="3.23" fill="#901313"/><rect x="367.32" y="477.23" width="1.5" height="2.8" fill="#961414"/><rect x="367.32" y="480.03" width="1.5" height="2.26" fill="#971414"/><rect x="367.32" y="482.29" width="1.5" height="3.46" fill="#7c1111"/><rect x="367.32" y="485.76" width="1.5" height="1.64" fill="#8e1313"/><rect x="367.32" y="487.4" width="1.5" height="2.6" fill="#7e1111"/><rect x="367.32" y="490" width="1.5" height="2.41" fill="#9d1313"/><rect x="367.32" y="492.41" width="1.5" height="2.03" fill="#a11414"/><rect x="367.32" y="494.44" width="1.5" height="2.86" fill="#891111"/><rect x="367.32" y="497.3" width="1.5" height="2.56" fill="#991313"/><rect x="367.32" y="499.86" width="1.5" height="2.74" fill="#9c1313"/><rect x="367.32" y="502.6" width="1.5" height="2.4" fill="#9f1313"/><rect x="367.32" y="505" width="1.5" height="2.54" fill="#951313"/><rect x="367.32" y="507.54" width="1.5" height="3.24" fill="#8e1212"/><rect x="367.32" y="510.78" width="1.5" height="2.6" fill="#991313"/><rect x="367.32" y="513.38" width="1.5" height="4.06" fill="#991313"/><rect x="367.32" y="517.44" width="1.5" height="2.56" fill="#8b1212"/><rect x="367.32" y="520" width="1.5" height="1.76" fill="#ab1414"/><rect x="367.32" y="521.76" width="1.5" height="3.43" fill="#a61313"/><rect x="367.32" y="525.19" width="1.5" height="2.46" fill="#9f1313"/><rect x="367.32" y="527.65" width="1.5" height="4.14" fill="#a61313"/><rect x="367.32" y="531.79" width="1.5" height="3.21" fill="#961212"/><rect x="367.32" y="535" width="1.5" height="2.71" fill="#a21414"/><rect x="367.32" y="537.71" width="1.5" height="2.58" fill="#9c1313"/><rect x="367.32" y="540.29" width="1.5" height="3.16" fill="#a21414"/><rect x="367.32" y="543.46" width="1.5" height="1.54" fill="#901212"/><rect x="367.32" y="545" width="1.5" height="1.6" fill="#941212"/><rect x="367.32" y="546.6" width="1.5" height="2.7" fill="#9f1313"/><rect x="367.32" y="549.3" width="1.5" height="3.72" fill="#a81414"/><rect x="367.32" y="553.02" width="1.5" height="1.58" fill="#a61414"/><rect x="367.32" y="554.6" width="1.5" height="3.71" fill="#145b14"/><rect x="367.32" y="558.31" width="1.5" height="3.09" fill="#125112"/><rect x="367.32" y="561.4" width="1.5" height="3.6" fill="#135a13"/><rect x="367.32" y="565" width="1.5" height="3.38" fill="#145114"/><rect x="367.32" y="568.38" width="1.5" height="2.5" fill="#114511"/><rect x="367.32" y="570.88" width="1.5" height="3.04" fill="#135013"/><rect x="367.32" y="573.92" width="1.5" height="2.12" fill="#134f13"/><rect x="367.32" y="576.04" width="1.5" height="1.96" fill="#124712"/><rect x="367.32" y="578" width="1.5" height="3.18" fill="#135b13"/><rect x="367.32" y="581.18" width="1.5" height="2.81" fill="#125312"/><rect x="367.32" y="583.99" width="1.5" height="2.26" fill="#135c13"/><rect x="367.32" y="586.25" width="1.5" height="3.75" fill="#125712"/><rect x="367.32" y="590" width="1.5" height="1.83" fill="#135213"/><rect x="367.32" y="591.83" width="1.5" height="3.61" fill="#124912"/><rect x="367.32" y="595.44" width="1.5" height="3.11" fill="#145314"/><rect x="367.32" y="598.54" width="1.5" height="1.46" fill="#134d13"/><rect x="367.32" y="600" width="1.5" height="2.84" fill="#362616"/><rect x="367.32" y="602.84" width="1.5" height="3.16" fill="#2d2315"/><rect x="367.32" y="606" width="1.5" height="2.07" fill="#135813"/><rect x="367.32" y="608.07" width="1.5" height="2.54" fill="#135613"/><rect x="367.32" y="610.61" width="1.5" height="3.39" fill="#135513"/><rect x="367.32" y="614" width="1.5" height="1.99" fill="#381711"/><rect x="367.32" y="615.99" width="1.5" height="4.01" fill="#3c1812"/><rect x="367.32" y="620" width="1.5" height="1.88" fill="#2f2f16"/><rect x="367.32" y="621.88" width="1.5" height="3.65" fill="#2b2b15"/><rect x="367.32" y="625.52" width="1.5" height="2.48" fill="#2c2c15"/><rect x="367.32" y="628" width="1.5" height="2.95" fill="#3e1711"/><rect x="367.32" y="630.95" width="1.5" height="1.69" fill="#4b1b14"/><rect x="367.32" y="632.64" width="1.5" height="3.36" fill="#441913"/><rect x="367.32" y="636" width="1.5" height="3.07" fill="#123c12"/><rect x="367.32" y="639.07" width="1.5" height="4.53" fill="#123e12"/><rect x="409.75" y="150.2" width="1.5" height="2" fill="#3e1c13"/><rect x="409.75" y="152.2" width="1.5" height="4.06" fill="#138513"/><rect x="409.75" y="156.26" width="1.5" height="3.73" fill="#148a14"/><rect x="409.75" y="159.99" width="1.5" height="2.01" fill="#117211"/><rect x="409.75" y="162" width="1.5" height="2.12" fill="#126d12"/><rect x="409.75" y="164.12" width="1.5" height="1.82" fill="#116a11"/><rect x="409.75" y="165.94" width="1.5" height="3.05" fill="#147d14"/><rect x="409.75" y="168.99" width="1.5" height="2.79" fill="#147f14"/><rect x="409.75" y="171.78" width="1.5" height="4.22" fill="#116a11"/><rect x="409.75" y="176" width="1.5" height="3.15" fill="#126212"/><rect x="409.75" y="179.15" width="1.5" height="1.91" fill="#146e14"/><rect x="409.75" y="181.07" width="1.5" height="2.27" fill="#136613"/><rect x="409.75" y="183.34" width="1.5" height="3.27" fill="#146e14"/><rect x="409.75" y="186.6" width="1.5" height="1.4" fill="#126212"/><rect x="409.75" y="188" width="1.5" height="2.77" fill="#126412"/><rect x="409.75" y="190.77" width="1.5" height="4.11" fill="#147514"/><rect x="409.75" y="194.88" width="1.5" height="2.18" fill="#116111"/><rect x="409.75" y="197.05" width="1.5" height="2.27" fill="#126812"/><rect x="409.75" y="199.32" width="1.5" height="1.68" fill="#147414"/><rect x="409.75" y="201" width="1.5" height="3.78" fill="#118011"/><rect x="409.75" y="204.78" width="1.5" height="3.64" fill="#139413"/><rect x="409.75" y="208.42" width="1.5" height="3.58" fill="#149c14"/><rect x="409.75" y="212" width="1.5" height="1.74" fill="#127812"/><rect x="409.75" y="213.74" width="1.5" height="3.56" fill="#148c14"/><rect x="409.75" y="217.31" width="1.5" height="3.36" fill="#127c12"/><rect x="409.75" y="220.67" width="1.5" height="4.33" fill="#138813"/><rect x="409.75" y="225" width="1.5" height="1.87" fill="#127312"/><rect x="409.75" y="226.87" width="1.5" height="2.27" fill="#126e12"/><rect x="409.75" y="229.14" width="1.5" height="2.85" fill="#126f12"/><rect x="409.75" y="231.99" width="1.5" height="2.22" fill="#126f12"/><rect x="409.75" y="234.21" width="1.5" height="3.36" fill="#116c11"/><rect x="409.75" y="237.58" width="1.5" height="2.42" fill="#127012"/><rect x="409.75" y="240" width="1.5" height="1.69" fill="#149014"/><rect x="409.75" y="241.69" width="1.5" height="2.17" fill="#149014"/><rect x="409.75" y="243.87" width="1.5" height="3.85" fill="#148f14"/><rect x="409.75" y="247.72" width="1.5" height="1.96" fill="#128312"/><rect x="409.75" y="249.68" width="1.5" height="1.85" fill="#149014"/><rect x="409.75" y="251.54" width="1.5" height="3.46" fill="#138813"/><rect x="409.75" y="255" width="1.5" height="2.78" fill="#126e12"/><rect x="409.75" y="257.78" width="1.5" height="3.74" fill="#137113"/><rect x="409.75" y="261.52" width="1.5" height="3.23" fill="#126912"/><rect x="409.75" y="264.75" width="1.5" height="2.18" fill="#116711"/><rect x="409.75" y="266.93" width="1.5" height="3.46" fill="#137213"/><rect x="409.75" y="270.38" width="1.5" height="2.22" fill="#147a14"/><rect x="409.75" y="272.6" width="1.5" height="1.4" fill="#13ae13"/><rect x="409.75" y="274" width="1.5" height="1.5" fill="#135613"/><rect x="409.75" y="275.5" width="1.5" height="2.29" fill="#1c3b15"/><rect x="409.75" y="277.79" width="1.5" height="1.71" fill="#1b3915"/><rect x="409.75" y="279.5" width="1.5" height="1.9" fill="#193016"/><rect x="409.75" y="281.4" width="1.5" height="3.78" fill="#125b12"/><rect x="409.75" y="285.18" width="1.5" height="2.04" fill="#135e13"/><rect x="409.75" y="287.22" width="1.5" height="2.78" fill="#146614"/><rect x="409.75" y="290" width="1.5" height="1.9" fill="#146014"/><rect x="409.75" y="291.9" width="1.5" height="1.75" fill="#145f14"/><rect x="409.75" y="293.64" width="1.5" height="3.34" fill="#125312"/><rect x="409.75" y="296.98" width="1.5" height="3.52" fill="#125412"/><rect x="409.75" y="300.5" width="1.5" height="1.5" fill="#451913"/><rect x="409.75" y="302" width="1.5" height="2.27" fill="#125912"/><rect x="409.75" y="304.27" width="1.5" height="2.55" fill="#146714"/><rect x="409.75" y="306.82" width="1.5" height="4.2" fill="#146614"/><rect x="409.75" y="311.01" width="1.5" height="1.85" fill="#125a12"/><rect x="409.75" y="312.87" width="1.5" height="2.13" fill="#115611"/><rect x="409.75" y="315" width="1.5" height="3.49" fill="#125412"/><rect x="409.75" y="318.49" width="1.5" height="4.14" fill="#114f11"/><rect x="409.75" y="322.63" width="1.5" height="2.37" fill="#125512"/><rect x="409.75" y="325" width="1.5" height="1.96" fill="#115811"/><rect x="409.75" y="326.96" width="1.5" height="3.76" fill="#136213"/><rect x="409.75" y="330.73" width="1.5" height="2.08" fill="#126012"/><rect x="409.75" y="332.81" width="1.5" height="1.69" fill="#125c12"/><rect x="409.75" y="334.5" width="1.5" height="3.09" fill="#531212"/><rect x="409.75" y="337.59" width="1.5" height="2.07" fill="#5e1313"/><rect x="409.75" y="339.65" width="1.5" height="3.35" fill="#541212"/><rect x="409.75" y="343" width="1.5" height="1.81" fill="#1c3f14"/><rect x="409.75" y="344.81" width="1.5" height="3.18" fill="#1e4516"/><rect x="409.75" y="347.99" width="1.5" height="3.01" fill="#1c4115"/><rect x="409.75" y="351" width="1.5" height="3.19" fill="#401a16"/><rect x="409.75" y="354.19" width="1.5" height="3.81" fill="#3e1916"/><rect x="409.75" y="358" width="1.5" height="2.13" fill="#2c1d14"/><rect x="409.75" y="360.13" width="1.5" height="3.51" fill="#2f1f15"/><rect x="409.75" y="363.63" width="1.5" height="1.37" fill="#2c1d14"/><rect x="409.75" y="365" width="1.5" height="3.71" fill="#781212"/><rect x="409.75" y="368.71" width="1.5" height="3.79" fill="#851414"/><rect x="409.75" y="372.5" width="1.5" height="2.88" fill="#701111"/><rect x="409.75" y="375.38" width="1.5" height="4.62" fill="#7b1313"/><rect x="409.75" y="380" width="1.5" height="3.87" fill="#6d1212"/><rect x="409.75" y="383.87" width="1.5" height="2.08" fill="#7a1313"/><rect x="409.75" y="385.95" width="1.5" height="2.55" fill="#6a1212"/><rect x="409.75" y="388.51" width="1.5" height="1.49" fill="#741313"/><rect x="409.75" y="390" width="1.5" height="1.61" fill="#5f1313"/><rect x="409.75" y="391.61" width="1.5" height="2.76" fill="#5f1313"/><rect x="409.75" y="394.37" width="1.5" height="1.91" fill="#631313"/><rect x="409.75" y="396.29" width="1.5" height="3.72" fill="#661414"/><rect x="409.75" y="400.01" width="1.5" height="2.43" fill="#631313"/><rect x="409.75" y="402.44" width="1.5" height="2.59" fill="#641313"/><rect x="409.75" y="405.03" width="1.5" height="1.76" fill="#661414"/><rect x="409.75" y="406.79" width="1.5" height="1.21" fill="#5f1313"/><rect x="409.75" y="408" width="1.5" height="1.5" fill="#264316"/><rect x="409.75" y="409.5" width="1.5" height="2.93" fill="#5d1313"/><rect x="409.75" y="412.43" width="1.5" height="3" fill="#531111"/><rect x="409.75" y="415.43" width="1.5" height="4.12" fill="#571212"/><rect x="409.75" y="419.55" width="1.5" height="2.07" fill="#551212"/><rect x="409.75" y="421.62" width="1.5" height="3.38" fill="#621313"/><rect x="409.75" y="425" width="1.5" height="1.68" fill="#5c1212"/><rect x="409.75" y="426.68" width="1.5" height="3.42" fill="#5e1212"/><rect x="409.75" y="430.1" width="1.5" height="1.65" fill="#661313"/><rect x="409.75" y="431.74" width="1.5" height="3.1" fill="#651313"/><rect x="409.75" y="434.84" width="1.5" height="2.16" fill="#5c1212"/><rect x="409.75" y="437" width="1.5" height="1.5" fill="#264616"/><rect x="409.75" y="438.5" width="1.5" height="3.86" fill="#661313"/><rect x="409.75" y="442.36" width="1.5" height="1.72" fill="#5a1212"/><rect x="409.75" y="444.08" width="1.5" height="2.88" fill="#621313"/><rect x="409.75" y="446.96" width="1.5" height="2.33" fill="#5a1212"/><rect x="409.75" y="449.29" width="1.5" height="2.65" fill="#5a1212"/><rect x="409.75" y="451.94" width="1.5" height="2.06" fill="#691414"/><rect x="409.75" y="454" width="1.5" height="1.5" fill="#264616"/><rect x="409.75" y="455.5" width="1.5" height="1.98" fill="#601313"/><rect x="409.75" y="457.48" width="1.5" height="3.54" fill="#581212"/><rect x="409.75" y="461.02" width="1.5" height="3.75" fill="#671414"/><rect x="409.75" y="464.77" width="1.5" height="2.61" fill="#5d1212"/><rect x="409.75" y="467.38" width="1.5" height="3.62" fill="#5f1313"/><rect x="409.75" y="471" width="1.5" height="2.63" fill="#821414"/><rect x="409.75" y="473.63" width="1.5" height="3.62" fill="#741212"/><rect x="409.75" y="477.25" width="1.5" height="2.22" fill="#741212"/><rect x="409.75" y="479.47" width="1.5" height="2.73" fill="#831414"/><rect x="409.75" y="482.21" width="1.5" height="3.69" fill="#821414"/><rect x="409.75" y="485.9" width="1.5" height="4.1" fill="#801414"/><rect x="409.75" y="490" width="1.5" height="1.74" fill="#7e1313"/><rect x="409.75" y="491.74" width="1.5" height="4.09" fill="#881414"/><rect x="409.75" y="495.83" width="1.5" height="2.25" fill="#7b1212"/><rect x="409.75" y="498.08" width="1.5" height="3.24" fill="#7a1212"/><rect x="409.75" y="501.32" width="1.5" height="3.68" fill="#721111"/><rect x="409.75" y="505" width="1.5" height="2.73" fill="#801313"/><rect x="409.75" y="507.73" width="1.5" height="1.65" fill="#771212"/><rect x="409.75" y="509.38" width="1.5" height="4.12" fill="#871313"/><rect x="409.75" y="513.5" width="1.5" height="4.04" fill="#841313"/><rect x="409.75" y="517.54" width="1.5" height="2.46" fill="#8a1414"/><rect x="409.75" y="520" width="1.5" height="3.9" fill="#791111"/><rect x="409.75" y="523.9" width="1.5" height="3.27" fill="#7f1212"/><rect x="409.75" y="527.17" width="1.5" height="3.36" fill="#7f1212"/><rect x="409.75" y="530.53" width="1.5" height="3.01" fill="#911414"/><rect x="409.75" y="533.54" width="1.5" height="1.46" fill="#7f1212"/><rect x="409.75" y="535" width="1.5" height="2.95" fill="#891212"/><rect x="409.75" y="537.95" width="1.5" height="4.07" fill="#851212"/><rect x="409.75" y="542.03" width="1.5" height="2.97" fill="#8f1313"/><rect x="409.75" y="545" width="1.5" height="1.91" fill="#931313"/><rect x="409.75" y="546.91" width="1.5" height="4.09" fill="#911313"/><rect x="409.75" y="551" width="1.5" height="2.3" fill="#901313"/><rect x="409.75" y="553.3" width="1.5" height="1.3" fill="#861212"/><rect x="409.75" y="554.6" width="1.5" height="1.92" fill="#125612"/><rect x="409.75" y="556.52" width="1.5" height="2.36" fill="#125b12"/><rect x="409.75" y="558.89" width="1.5" height="2.35" fill="#125812"/><rect x="409.75" y="561.24" width="1.5" height="1.83" fill="#135e13"/><rect x="409.75" y="563.06" width="1.5" height="3.78" fill="#135f13"/><rect x="409.75" y="566.85" width="1.5" height="3.15" fill="#135f13"/><rect x="409.75" y="570" width="1.5" height="2.12" fill="#135813"/><rect x="409.75" y="572.12" width="1.5" height="2.8" fill="#135613"/><rect x="409.75" y="574.92" width="1.5" height="3.19" fill="#135413"/><rect x="409.75" y="578.11" width="1.5" height="2.41" fill="#125012"/><rect x="409.75" y="580.52" width="1.5" height="1.48" fill="#135513"/><rect x="409.75" y="582" width="1.5" height="2.6" fill="#136613"/><rect x="409.75" y="584.6" width="1.5" height="1.63" fill="#126212"/><rect x="409.75" y="586.23" width="1.5" height="3.84" fill="#125f12"/><rect x="409.75" y="590.07" width="1.5" height="3.05" fill="#136413"/><rect x="409.75" y="593.12" width="1.5" height="2.88" fill="#146e14"/><rect x="409.75" y="596" width="1.5" height="1.8" fill="#2eff2e"/><rect x="409.75" y="597.8" width="1.5" height="2.37" fill="#136313"/><rect x="409.75" y="600.17" width="1.5" height="2.01" fill="#115611"/><rect x="409.75" y="602.18" width="1.5" height="2.82" fill="#125d12"/><rect x="409.75" y="605" width="1.5" height="1.76" fill="#124d12"/><rect x="409.75" y="606.76" width="1.5" height="3.24" fill="#135213"/><rect x="409.75" y="610" width="1.5" height="1.88" fill="#2d1c15"/><rect x="409.75" y="611.88" width="1.5" height="4.12" fill="#321f17"/><rect x="409.75" y="616" width="1.5" height="2" fill="#3c1812"/><rect x="409.75" y="618" width="1.5" height="2.52" fill="#401a13"/><rect x="409.75" y="620.52" width="1.5" height="1.48" fill="#421a14"/><rect x="409.75" y="622" width="1.5" height="3.74" fill="#262e16"/><rect x="409.75" y="625.74" width="1.5" height="4.26" fill="#272f17"/><rect x="409.75" y="630" width="1.5" height="3.58" fill="#361c13"/><rect x="409.75" y="633.58" width="1.5" height="4.42" fill="#391d13"/><rect x="409.75" y="638" width="1.5" height="3.98" fill="#232f15"/><rect x="409.75" y="641.98" width="1.5" height="1.62" fill="#222d14"/><rect x="452.18" y="150.2" width="1.5" height="1.4" fill="#1cae1c"/><rect x="452.18" y="151.6" width="1.5" height="3.59" fill="#581313"/><rect x="452.18" y="155.19" width="1.5" height="2.81" fill="#5e1414"/><rect x="452.18" y="158" width="1.5" height="3.09" fill="#4a1515"/><rect x="452.18" y="161.09" width="1.5" height="1.91" fill="#511717"/><rect x="452.18" y="163" width="1.5" height="3.18" fill="#521212"/><rect x="452.18" y="166.18" width="1.5" height="2.82" fill="#531212"/><rect x="452.18" y="169" width="1.5" height="3.48" fill="#2c2c15"/><rect x="452.18" y="172.48" width="1.5" height="3.52" fill="#2e2e16"/><rect x="452.18" y="176" width="1.5" height="2.6" fill="#4b1515"/><rect x="452.18" y="178.6" width="1.5" height="3.65" fill="#531717"/><rect x="452.18" y="182.25" width="1.5" height="2.15" fill="#4d1616"/><rect x="452.18" y="184.4" width="1.5" height="2.08" fill="#2c2415"/><rect x="452.18" y="186.48" width="1.5" height="2.12" fill="#2e2616"/><rect x="452.18" y="188.6" width="1.5" height="3.11" fill="#401414"/><rect x="452.18" y="191.71" width="1.5" height="2.29" fill="#431515"/><rect x="452.18" y="194" width="1.5" height="3.79" fill="#1f4a17"/><rect x="452.18" y="197.79" width="1.5" height="4.81" fill="#1c4115"/><rect x="452.18" y="202.6" width="1.5" height="2.71" fill="#149914"/><rect x="452.18" y="205.31" width="1.5" height="1.63" fill="#118011"/><rect x="452.18" y="206.94" width="1.5" height="3.07" fill="#138d13"/><rect x="452.18" y="210.01" width="1.5" height="1.99" fill="#139513"/><rect x="452.18" y="212" width="1.5" height="3" fill="#149514"/><rect x="452.18" y="215" width="1.5" height="2.95" fill="#138813"/><rect x="452.18" y="217.95" width="1.5" height="4.05" fill="#128412"/><rect x="452.18" y="222" width="1.5" height="2.53" fill="#137713"/><rect x="452.18" y="224.53" width="1.5" height="2.51" fill="#147f14"/><rect x="452.18" y="227.04" width="1.5" height="3.36" fill="#137513"/><rect x="452.18" y="230.4" width="1.5" height="2.6" fill="#127112"/><rect x="452.18" y="233" width="1.5" height="2.64" fill="#136f13"/><rect x="452.18" y="235.64" width="1.5" height="3.09" fill="#147614"/><rect x="452.18" y="238.73" width="1.5" height="1.77" fill="#136e13"/><rect x="452.18" y="240.5" width="1.5" height="2.74" fill="#263716"/><rect x="452.18" y="243.24" width="1.5" height="1.46" fill="#243415"/><rect x="452.18" y="244.7" width="1.5" height="2.98" fill="#137c13"/><rect x="452.18" y="247.68" width="1.5" height="2.32" fill="#127012"/><rect x="452.18" y="250" width="1.5" height="4" fill="#283017"/><rect x="452.18" y="254" width="1.5" height="2.93" fill="#125d12"/><rect x="452.18" y="256.93" width="1.5" height="3.93" fill="#136813"/><rect x="452.18" y="260.86" width="1.5" height="3.73" fill="#146e14"/><rect x="452.18" y="264.59" width="1.5" height="1.41" fill="#126312"/><rect x="452.18" y="266" width="1.5" height="2.01" fill="#125a12"/><rect x="452.18" y="268.01" width="1.5" height="2.93" fill="#135e13"/><rect x="452.18" y="270.94" width="1.5" height="2.09" fill="#125812"/><rect x="452.18" y="273.03" width="1.5" height="3.24" fill="#136013"/><rect x="452.18" y="276.26" width="1.5" height="2.52" fill="#146814"/><rect x="452.18" y="278.78" width="1.5" height="1.22" fill="#115611"/><rect x="452.18" y="280" width="1.5" height="2.67" fill="#273817"/><rect x="452.18" y="282.67" width="1.5" height="1.33" fill="#273716"/><rect x="452.18" y="284" width="1.5" height="1.61" fill="#126112"/><rect x="452.18" y="285.61" width="1.5" height="3.79" fill="#136613"/><rect x="452.18" y="289.4" width="1.5" height="3.34" fill="#125e12"/><rect x="452.18" y="292.74" width="1.5" height="2.89" fill="#136613"/><rect x="452.18" y="295.63" width="1.5" height="2.29" fill="#136813"/><rect x="452.18" y="297.92" width="1.5" height="2.08" fill="#146f14"/><rect x="452.18" y="300" width="1.5" height="3.09" fill="#125d12"/><rect x="452.18" y="303.09" width="1.5" height="1.92" fill="#125812"/><rect x="452.18" y="305.01" width="1.5" height="3.57" fill="#125712"/><rect x="452.18" y="308.58" width="1.5" height="1.86" fill="#125812"/><rect x="452.18" y="310.44" width="1.5" height="2.96" fill="#136413"/><rect x="452.18" y="313.4" width="1.5" height="1.6" fill="#136413"/><rect x="452.18" y="315" width="1.5" height="1.76" fill="#115e11"/><rect x="452.18" y="316.76" width="1.5" height="3.6" fill="#126412"/><rect x="452.18" y="320.37" width="1.5" height="3.46" fill="#126512"/><rect x="452.18" y="323.83" width="1.5" height="2.04" fill="#126312"/><rect x="452.18" y="325.87" width="1.5" height="1.86" fill="#147014"/><rect x="452.18" y="327.72" width="1.5" height="3.98" fill="#126512"/><rect x="452.18" y="331.7" width="1.5" height="2.77" fill="#128112"/><rect x="452.18" y="334.47" width="1.5" height="1.74" fill="#148f14"/><rect x="452.18" y="336.21" width="1.5" height="3.11" fill="#149014"/><rect x="452.18" y="339.33" width="1.5" height="3.67" fill="#138713"/><rect x="452.18" y="343" width="1.5" height="2.25" fill="#115b11"/><rect x="452.18" y="345.25" width="1.5" height="4.02" fill="#146c14"/><rect x="452.18" y="349.27" width="1.5" height="2.73" fill="#146d14"/><rect x="452.18" y="352" width="1.5" height="3.72" fill="#125b12"/><rect x="452.18" y="355.72" width="1.5" height="3.17" fill="#146714"/><rect x="452.18" y="358.89" width="1.5" height="3.61" fill="#146714"/><rect x="452.18" y="362.5" width="1.5" height="2.23" fill="#127912"/><rect x="452.18" y="364.73" width="1.5" height="3.47" fill="#127512"/><rect x="452.18" y="368.2" width="1.5" height="2.4" fill="#148614"/><rect x="452.18" y="370.6" width="1.5" height="3.4" fill="#138413"/><rect x="452.18" y="374" width="1.5" height="2.23" fill="#126d12"/><rect x="452.18" y="376.23" width="1.5" height="2.53" fill="#126d12"/><rect x="452.18" y="378.76" width="1.5" height="1.94" fill="#126f12"/><rect x="452.18" y="380.7" width="1.5" height="2.8" fill="#3e1913"/><rect x="452.18" y="383.5" width="1.5" height="3.06" fill="#5f1212"/><rect x="452.18" y="386.56" width="1.5" height="2.99" fill="#651212"/><rect x="452.18" y="389.55" width="1.5" height="2.65" fill="#5e1111"/><rect x="452.18" y="392.2" width="1.5" height="2.8" fill="#6e1313"/><rect x="452.18" y="395" width="1.5" height="2.51" fill="#551212"/><rect x="452.18" y="397.51" width="1.5" height="2.1" fill="#551212"/><rect x="452.18" y="399.61" width="1.5" height="2.22" fill="#511111"/><rect x="452.18" y="401.83" width="1.5" height="3.17" fill="#561212"/><rect x="452.18" y="405" width="1.5" height="2.01" fill="#661313"/><rect x="452.18" y="407.01" width="1.5" height="1.84" fill="#5d1212"/><rect x="452.18" y="408.85" width="1.5" height="3.77" fill="#5a1212"/><rect x="452.18" y="412.62" width="1.5" height="2.38" fill="#681414"/><rect x="452.18" y="415" width="1.5" height="3" fill="#301c13"/><rect x="452.18" y="418" width="1.5" height="3.69" fill="#581212"/><rect x="452.18" y="421.69" width="1.5" height="2.52" fill="#631313"/><rect x="452.18" y="424.21" width="1.5" height="2.58" fill="#671414"/><rect x="452.18" y="426.79" width="1.5" height="2.14" fill="#671414"/><rect x="452.18" y="428.93" width="1.5" height="2.91" fill="#5a1212"/><rect x="452.18" y="431.84" width="1.5" height="3.16" fill="#581212"/><rect x="452.18" y="435" width="1.5" height="3.44" fill="#761212"/><rect x="452.18" y="438.44" width="1.5" height="3.94" fill="#7e1313"/><rect x="452.18" y="442.38" width="1.5" height="2.56" fill="#761212"/><rect x="452.18" y="444.93" width="1.5" height="3.18" fill="#751212"/><rect x="452.18" y="448.11" width="1.5" height="3.87" fill="#721212"/><rect x="452.18" y="451.98" width="1.5" height="4.02" fill="#7d1313"/><rect x="452.18" y="456" width="1.5" height="2.3" fill="#302717"/><rect x="452.18" y="458.3" width="1.5" height="2.7" fill="#2f2716"/><rect x="452.18" y="461" width="1.5" height="3.08" fill="#3b1b12"/><rect x="452.18" y="464.08" width="1.5" height="1.92" fill="#391a11"/><rect x="452.18" y="466" width="1.5" height="2.06" fill="#2b2b17"/><rect x="452.18" y="468.06" width="1.5" height="3.24" fill="#2a2a16"/><rect x="452.18" y="471.3" width="1.5" height="1.88" fill="#138613"/><rect x="452.18" y="473.18" width="1.5" height="2.54" fill="#138413"/><rect x="452.18" y="475.72" width="1.5" height="2.37" fill="#117811"/><rect x="452.18" y="478.1" width="1.5" height="1.6" fill="#127d12"/><rect x="452.18" y="479.7" width="1.5" height="1.93" fill="#13a313"/><rect x="452.18" y="481.63" width="1.5" height="2.33" fill="#129912"/><rect x="452.18" y="483.96" width="1.5" height="2.04" fill="#13a413"/><rect x="452.18" y="486" width="1.5" height="3.9" fill="#14c114"/><rect x="452.18" y="489.9" width="1.5" height="1.9" fill="#12ab12"/><rect x="452.18" y="491.8" width="1.5" height="1.4" fill="#36ff36"/><rect x="452.18" y="493.2" width="1.5" height="1.68" fill="#136813"/><rect x="452.18" y="494.88" width="1.5" height="3.12" fill="#126212"/><rect x="452.18" y="498" width="1.5" height="2.67" fill="#5c1313"/><rect x="452.18" y="500.67" width="1.5" height="3.42" fill="#551212"/><rect x="452.18" y="504.09" width="1.5" height="1.91" fill="#571212"/><rect x="452.18" y="506" width="1.5" height="3.23" fill="#491212"/><rect x="452.18" y="509.23" width="1.5" height="1.9" fill="#541414"/><rect x="452.18" y="511.13" width="1.5" height="3.87" fill="#511313"/><rect x="452.18" y="515" width="1.5" height="1.71" fill="#223114"/><rect x="452.18" y="516.71" width="1.5" height="2.02" fill="#233215"/><rect x="452.18" y="518.73" width="1.5" height="1.27" fill="#253415"/><rect x="452.18" y="520" width="1.5" height="1.7" fill="#351b12"/><rect x="452.18" y="521.7" width="1.5" height="2.3" fill="#331b12"/><rect x="452.18" y="524" width="1.5" height="3.78" fill="#233916"/><rect x="452.18" y="527.78" width="1.5" height="1.22" fill="#213615"/><rect x="452.18" y="529" width="1.5" height="2.73" fill="#139113"/><rect x="452.18" y="531.73" width="1.5" height="2.51" fill="#117e11"/><rect x="452.18" y="534.24" width="1.5" height="3.77" fill="#139413"/><rect x="452.18" y="538.01" width="1.5" height="1.99" fill="#117f11"/><rect x="452.18" y="540" width="1.5" height="3.82" fill="#139a13"/><rect x="452.18" y="543.82" width="1.5" height="1.72" fill="#128f12"/><rect x="452.18" y="545.54" width="1.5" height="1.89" fill="#13a013"/><rect x="452.18" y="547.43" width="1.5" height="2.15" fill="#14a414"/><rect x="452.18" y="549.58" width="1.5" height="1.82" fill="#118a11"/><rect x="452.18" y="551.4" width="1.5" height="3.2" fill="#2eff2e"/><rect x="452.18" y="554.6" width="1.5" height="3.41" fill="#281f15"/><rect x="452.18" y="558.01" width="1.5" height="3.54" fill="#2b2117"/><rect x="452.18" y="561.55" width="1.5" height="3.45" fill="#261d14"/><rect x="452.18" y="565" width="1.5" height="4.06" fill="#2f1c16"/><rect x="452.18" y="569.06" width="1.5" height="2.94" fill="#311d16"/><rect x="452.18" y="572" width="1.5" height="3.52" fill="#282417"/><rect x="452.18" y="575.52" width="1.5" height="3.23" fill="#252216"/><rect x="452.18" y="578.75" width="1.5" height="2.25" fill="#272416"/><rect x="452.18" y="581" width="1.5" height="2.71" fill="#4c1313"/><rect x="452.18" y="583.71" width="1.5" height="4.01" fill="#461212"/><rect x="452.18" y="587.73" width="1.5" height="3.58" fill="#451111"/><rect x="452.18" y="591.31" width="1.5" height="3.43" fill="#501313"/><rect x="452.18" y="594.73" width="1.5" height="1.27" fill="#4c1313"/><rect x="452.18" y="596" width="1.5" height="3" fill="#881313"/><rect x="452.18" y="599" width="1.5" height="4.12" fill="#641313"/><rect x="452.18" y="603.12" width="1.5" height="3.01" fill="#5d1212"/><rect x="452.18" y="606.13" width="1.5" height="1.75" fill="#5f1212"/><rect x="452.18" y="607.89" width="1.5" height="2.11" fill="#5c1212"/><rect x="452.18" y="610" width="1.5" height="2.41" fill="#531212"/><rect x="452.18" y="612.41" width="1.5" height="3.44" fill="#5c1313"/><rect x="452.18" y="615.85" width="1.5" height="2.22" fill="#551212"/><rect x="452.18" y="618.06" width="1.5" height="2.94" fill="#581212"/><rect x="452.18" y="621" width="1.5" height="4" fill="#571212"/><rect x="452.18" y="625" width="1.5" height="2.38" fill="#661414"/><rect x="452.18" y="627.38" width="1.5" height="1.97" fill="#601313"/><rect x="452.18" y="629.35" width="1.5" height="2.47" fill="#651313"/><rect x="452.18" y="631.81" width="1.5" height="3.19" fill="#641313"/><rect x="452.18" y="635" width="1.5" height="2.04" fill="#591313"/><rect x="452.18" y="637.04" width="1.5" height="3.16" fill="#561313"/><rect x="452.18" y="640.2" width="1.5" height="3.4" fill="#5c1313"/><rect x="494.61" y="150.2" width="1.5" height="1.9" fill="#501212"/><rect x="494.61" y="152.1" width="1.5" height="1.9" fill="#4f1212"/><rect x="494.61" y="154" width="1.5" height="1.76" fill="#1d4215"/><rect x="494.61" y="155.76" width="1.5" height="2.84" fill="#1f4816"/><rect x="494.61" y="158.6" width="1.5" height="2.76" fill="#2c1c14"/><rect x="494.61" y="161.36" width="1.5" height="2.44" fill="#2f1d16"/><rect x="494.61" y="163.81" width="1.5" height="2.54" fill="#2d1c15"/><rect x="494.61" y="166.35" width="1.5" height="2.65" fill="#2b1b14"/><rect x="494.61" y="169" width="1.5" height="4.18" fill="#491313"/><rect x="494.61" y="173.18" width="1.5" height="2.82" fill="#491313"/><rect x="494.61" y="176" width="1.5" height="4.2" fill="#362616"/><rect x="494.61" y="180.2" width="1.5" height="1.88" fill="#253d16"/><rect x="494.61" y="182.08" width="1.5" height="2.73" fill="#233a15"/><rect x="494.61" y="184.81" width="1.5" height="3.19" fill="#223714"/><rect x="494.61" y="188" width="1.5" height="3.99" fill="#2a3716"/><rect x="494.61" y="191.99" width="1.5" height="3.61" fill="#2c3a17"/><rect x="494.61" y="195.6" width="1.5" height="3.3" fill="#571212"/><rect x="494.61" y="198.9" width="1.5" height="2.24" fill="#551212"/><rect x="494.61" y="201.14" width="1.5" height="1.46" fill="#611313"/><rect x="494.61" y="202.6" width="1.5" height="3.78" fill="#129d12"/><rect x="494.61" y="206.38" width="1.5" height="2.08" fill="#13a813"/><rect x="494.61" y="208.47" width="1.5" height="3.53" fill="#14b214"/><rect x="494.61" y="212" width="1.5" height="2.04" fill="#13a613"/><rect x="494.61" y="214.04" width="1.5" height="3.76" fill="#13a513"/><rect x="494.61" y="217.8" width="1.5" height="2.45" fill="#129312"/><rect x="494.61" y="220.25" width="1.5" height="3.45" fill="#129712"/><rect x="494.61" y="223.7" width="1.5" height="2.56" fill="#134e13"/><rect x="494.61" y="226.26" width="1.5" height="2.56" fill="#135213"/><rect x="494.61" y="228.82" width="1.5" height="3.18" fill="#114611"/><rect x="494.61" y="232" width="1.5" height="3.07" fill="#135f13"/><rect x="494.61" y="235.07" width="1.5" height="3.73" fill="#136013"/><rect x="494.61" y="238.81" width="1.5" height="3.95" fill="#146514"/><rect x="494.61" y="242.76" width="1.5" height="2.24" fill="#135d13"/><rect x="494.61" y="245" width="1.5" height="2.01" fill="#125e12"/><rect x="494.61" y="247.01" width="1.5" height="3.11" fill="#115911"/><rect x="494.61" y="250.12" width="1.5" height="2.88" fill="#125b12"/><rect x="494.61" y="253" width="1.5" height="1.5" fill="#451913"/><rect x="494.61" y="254.5" width="1.5" height="2.75" fill="#146514"/><rect x="494.61" y="257.25" width="1.5" height="1.83" fill="#115411"/><rect x="494.61" y="259.09" width="1.5" height="2.74" fill="#125712"/><rect x="494.61" y="261.83" width="1.5" height="3.48" fill="#115311"/><rect x="494.61" y="265.31" width="1.5" height="4.69" fill="#146314"/><rect x="494.61" y="270" width="1.5" height="3.65" fill="#126012"/><rect x="494.61" y="273.65" width="1.5" height="2.34" fill="#136513"/><rect x="494.61" y="275.98" width="1.5" height="2.94" fill="#126012"/><rect x="494.61" y="278.92" width="1.5" height="2.48" fill="#126012"/><rect x="494.61" y="281.4" width="1.5" height="3.6" fill="#136813"/><rect x="494.61" y="285" width="1.5" height="3.95" fill="#126112"/><rect x="494.61" y="288.95" width="1.5" height="2.37" fill="#126712"/><rect x="494.61" y="291.32" width="1.5" height="3.06" fill="#126512"/><rect x="494.61" y="294.38" width="1.5" height="2.11" fill="#115f11"/><rect x="494.61" y="296.49" width="1.5" height="3.51" fill="#136713"/><rect x="494.61" y="300" width="1.5" height="4.13" fill="#146914"/><rect x="494.61" y="304.13" width="1.5" height="3.85" fill="#146b14"/><rect x="494.61" y="307.98" width="1.5" height="4.1" fill="#136413"/><rect x="494.61" y="312.08" width="1.5" height="2.92" fill="#115911"/><rect x="494.61" y="315" width="1.5" height="3.36" fill="#136d13"/><rect x="494.61" y="318.36" width="1.5" height="2.37" fill="#136c13"/><rect x="494.61" y="320.73" width="1.5" height="4.08" fill="#136a13"/><rect x="494.61" y="324.81" width="1.5" height="3.28" fill="#126712"/><rect x="494.61" y="328.09" width="1.5" height="3.61" fill="#147314"/><rect x="494.61" y="331.7" width="1.5" height="1.67" fill="#126d12"/><rect x="494.61" y="333.37" width="1.5" height="3.36" fill="#127312"/><rect x="494.61" y="336.74" width="1.5" height="1.82" fill="#137813"/><rect x="494.61" y="338.56" width="1.5" height="2.57" fill="#137613"/><rect x="494.61" y="341.13" width="1.5" height="3.87" fill="#137513"/><rect x="494.61" y="345" width="1.5" height="3.07" fill="#126612"/><rect x="494.61" y="348.07" width="1.5" height="1.9" fill="#126112"/><rect x="494.61" y="349.97" width="1.5" height="3.91" fill="#136913"/><rect x="494.61" y="353.88" width="1.5" height="1.89" fill="#146f14"/><rect x="494.61" y="355.77" width="1.5" height="2.26" fill="#125f12"/><rect x="494.61" y="358.03" width="1.5" height="2.98" fill="#126312"/><rect x="494.61" y="361.01" width="1.5" height="1.49" fill="#136913"/><rect x="494.61" y="362.5" width="1.5" height="2.19" fill="#137913"/><rect x="494.61" y="364.69" width="1.5" height="1.89" fill="#137813"/><rect x="494.61" y="366.58" width="1.5" height="3.13" fill="#116d11"/><rect x="494.61" y="369.71" width="1.5" height="2.66" fill="#116d11"/><rect x="494.61" y="372.37" width="1.5" height="1.63" fill="#148014"/><rect x="494.61" y="374" width="1.5" height="3.03" fill="#137313"/><rect x="494.61" y="377.03" width="1.5" height="3.57" fill="#126512"/><rect x="494.61" y="380.6" width="1.5" height="2.4" fill="#137313"/><rect x="494.61" y="383" width="1.5" height="1.87" fill="#411a13"/><rect x="494.61" y="384.87" width="1.5" height="2.62" fill="#3a1812"/><rect x="494.61" y="387.48" width="1.5" height="2.52" fill="#3e1913"/><rect x="494.61" y="390" width="1.5" height="4" fill="#1c4015"/><rect x="494.61" y="394" width="1.5" height="3.62" fill="#4b1111"/><rect x="494.61" y="397.62" width="1.5" height="2.22" fill="#501212"/><rect x="494.61" y="399.83" width="1.5" height="1.64" fill="#541313"/><rect x="494.61" y="401.47" width="1.5" height="2.15" fill="#4f1212"/><rect x="494.61" y="403.63" width="1.5" height="3.44" fill="#511212"/><rect x="494.61" y="407.07" width="1.5" height="2.93" fill="#541313"/><rect x="494.61" y="410" width="1.5" height="3.87" fill="#4c1313"/><rect x="494.61" y="413.87" width="1.5" height="3.99" fill="#511414"/><rect x="494.61" y="417.85" width="1.5" height="2.04" fill="#4f1313"/><rect x="494.61" y="419.89" width="1.5" height="2.49" fill="#4f1313"/><rect x="494.61" y="422.38" width="1.5" height="2.62" fill="#501313"/><rect x="494.61" y="425" width="1.5" height="1.92" fill="#541212"/><rect x="494.61" y="426.92" width="1.5" height="3.52" fill="#5e1414"/><rect x="494.61" y="430.44" width="1.5" height="3.48" fill="#4f1111"/><rect x="494.61" y="433.91" width="1.5" height="3.69" fill="#501212"/><rect x="494.61" y="437.6" width="1.5" height="4.2" fill="#9a1313"/><rect x="494.61" y="441.8" width="1.5" height="1.89" fill="#611414"/><rect x="494.61" y="443.69" width="1.5" height="3.36" fill="#551212"/><rect x="494.61" y="447.05" width="1.5" height="2.1" fill="#581212"/><rect x="494.61" y="449.15" width="1.5" height="3.78" fill="#5b1313"/><rect x="494.61" y="452.93" width="1.5" height="3.07" fill="#511111"/><rect x="494.61" y="456" width="1.5" height="1.89" fill="#1f4217"/><rect x="494.61" y="457.89" width="1.5" height="2.08" fill="#1e3f16"/><rect x="494.61" y="459.97" width="1.5" height="2.35" fill="#1f4116"/><rect x="494.61" y="462.32" width="1.5" height="2.68" fill="#1c3a15"/><rect x="494.61" y="465" width="1.5" height="3.88" fill="#233616"/><rect x="494.61" y="468.88" width="1.5" height="2.12" fill="#243817"/><rect x="494.61" y="471" width="1.5" height="4.07" fill="#1b3014"/><rect x="494.61" y="475.07" width="1.5" height="2.49" fill="#1c3215"/><rect x="494.61" y="477.56" width="1.5" height="2.44" fill="#203917"/><rect x="494.61" y="480" width="1.5" height="3.68" fill="#119411"/><rect x="494.61" y="483.68" width="1.5" height="2.07" fill="#13ae13"/><rect x="494.61" y="485.76" width="1.5" height="4.24" fill="#12a012"/><rect x="494.61" y="490" width="1.5" height="2.84" fill="#128c12"/><rect x="494.61" y="492.84" width="1.5" height="3.8" fill="#129412"/><rect x="494.61" y="496.63" width="1.5" height="3.87" fill="#139a13"/><rect x="494.61" y="500.5" width="1.5" height="1.5" fill="#129212"/><rect x="494.61" y="502" width="1.5" height="2.16" fill="#5a1414"/><rect x="494.61" y="504.16" width="1.5" height="3.13" fill="#4c1111"/><rect x="494.61" y="507.29" width="1.5" height="2.04" fill="#511212"/><rect x="494.61" y="509.34" width="1.5" height="2.82" fill="#551313"/><rect x="494.61" y="512.15" width="1.5" height="2.85" fill="#511212"/><rect x="494.61" y="515" width="1.5" height="1.62" fill="#1e4e16"/><rect x="494.61" y="516.62" width="1.5" height="2.47" fill="#1b4614"/><rect x="494.61" y="519.08" width="1.5" height="2.79" fill="#205417"/><rect x="494.61" y="521.88" width="1.5" height="1.72" fill="#1c4815"/><rect x="494.61" y="523.6" width="1.5" height="3.34" fill="#1c4915"/><rect x="494.61" y="526.94" width="1.5" height="2.06" fill="#1e4d16"/><rect x="494.61" y="529" width="1.5" height="2.28" fill="#139613"/><rect x="494.61" y="531.28" width="1.5" height="2.97" fill="#14a214"/><rect x="494.61" y="534.25" width="1.5" height="4.18" fill="#118611"/><rect x="494.61" y="538.43" width="1.5" height="1.57" fill="#139c13"/><rect x="494.61" y="540" width="1.5" height="3.87" fill="#13a913"/><rect x="494.61" y="543.87" width="1.5" height="3.25" fill="#13a513"/><rect x="494.61" y="547.11" width="1.5" height="2.54" fill="#129912"/><rect x="494.61" y="549.66" width="1.5" height="1.74" fill="#14ad14"/><rect x="494.61" y="551.4" width="1.5" height="3.2" fill="#2eff2e"/><rect x="494.61" y="554.6" width="1.5" height="4.04" fill="#1f4716"/><rect x="494.61" y="558.64" width="1.5" height="2.39" fill="#1f4917"/><rect x="494.61" y="561.03" width="1.5" height="3.97" fill="#1e4516"/><rect x="494.61" y="565" width="1.5" height="3.25" fill="#1d3d15"/><rect x="494.61" y="568.25" width="1.5" height="3.03" fill="#1d3e15"/><rect x="494.61" y="571.28" width="1.5" height="1.76" fill="#1d3d15"/><rect x="494.61" y="573.04" width="1.5" height="2.44" fill="#204517"/><rect x="494.61" y="575.48" width="1.5" height="2.85" fill="#1d3d15"/><rect x="494.61" y="578.33" width="1.5" height="2.23" fill="#1c3c15"/><rect x="494.61" y="580.57" width="1.5" height="1.43" fill="#1c3a15"/><rect x="494.61" y="582" width="1.5" height="1.62" fill="#421a14"/><rect x="494.61" y="583.62" width="1.5" height="2.78" fill="#3d1912"/><rect x="494.61" y="586.4" width="1.5" height="3.08" fill="#3b1812"/><rect x="494.61" y="589.48" width="1.5" height="2.04" fill="#381711"/><rect x="494.61" y="591.51" width="1.5" height="2.38" fill="#3b1812"/><rect x="494.61" y="593.9" width="1.5" height="2.1" fill="#3e1913"/><rect x="494.61" y="596" width="1.5" height="2" fill="#269619"/><rect x="494.61" y="598" width="1.5" height="4.04" fill="#561212"/><rect x="494.61" y="602.04" width="1.5" height="4" fill="#5b1313"/><rect x="494.61" y="606.03" width="1.5" height="1.81" fill="#541212"/><rect x="494.61" y="607.84" width="1.5" height="2.16" fill="#621414"/><rect x="494.61" y="610" width="1.5" height="2.53" fill="#581313"/><rect x="494.61" y="612.53" width="1.5" height="2.71" fill="#5a1414"/><rect x="494.61" y="615.24" width="1.5" height="1.78" fill="#531313"/><rect x="494.61" y="617.02" width="1.5" height="3.94" fill="#501212"/><rect x="494.61" y="620.96" width="1.5" height="2.27" fill="#4c1111"/><rect x="494.61" y="623.23" width="1.5" height="1.77" fill="#501212"/><rect x="494.61" y="625" width="1.5" height="3.43" fill="#571212"/><rect x="494.61" y="628.43" width="1.5" height="2.64" fill="#561212"/><rect x="494.61" y="631.07" width="1.5" height="3.93" fill="#631414"/><rect x="494.61" y="635" width="1.5" height="3.29" fill="#4f1212"/><rect x="494.61" y="638.29" width="1.5" height="3.51" fill="#5b1414"/><rect x="494.61" y="641.79" width="1.5" height="1.81" fill="#4d1111"/><rect x="537.04" y="150.2" width="1.5" height="3.7" fill="#3a2017"/><rect x="537.04" y="153.9" width="1.5" height="2.49" fill="#331c15"/><rect x="537.04" y="156.39" width="1.5" height="2.81" fill="#371e16"/><rect x="537.04" y="159.2" width="1.5" height="3.88" fill="#421313"/><rect x="537.04" y="163.08" width="1.5" height="4.52" fill="#3d1212"/><rect x="537.04" y="167.6" width="1.5" height="2.45" fill="#136a13"/><rect x="537.04" y="170.05" width="1.5" height="3.29" fill="#126312"/><rect x="537.04" y="173.34" width="1.5" height="3.46" fill="#126112"/><rect x="537.04" y="176.8" width="1.5" height="1.6" fill="#2eff2e"/><rect x="537.04" y="178.4" width="1.5" height="1.75" fill="#1d4415"/><rect x="537.04" y="180.15" width="1.5" height="1.72" fill="#1e4716"/><rect x="537.04" y="181.87" width="1.5" height="2.53" fill="#1e4516"/><rect x="537.04" y="184.4" width="1.5" height="3.15" fill="#341c15"/><rect x="537.04" y="187.55" width="1.5" height="2.8" fill="#321b14"/><rect x="537.04" y="190.36" width="1.5" height="2.44" fill="#371e16"/><rect x="537.04" y="192.8" width="1.5" height="4.17" fill="#312314"/><rect x="537.04" y="196.97" width="1.5" height="3.2" fill="#382717"/><rect x="537.04" y="200.16" width="1.5" height="2.44" fill="#312314"/><rect x="537.04" y="202.6" width="1.5" height="2.01" fill="#129812"/><rect x="537.04" y="204.61" width="1.5" height="3.59" fill="#129612"/><rect x="537.04" y="208.2" width="1.5" height="3.8" fill="#12a112"/><rect x="537.04" y="212" width="1.5" height="3" fill="#13a013"/><rect x="537.04" y="215" width="1.5" height="3.04" fill="#13a213"/><rect x="537.04" y="218.04" width="1.5" height="3.16" fill="#129812"/><rect x="537.04" y="221.21" width="1.5" height="2.49" fill="#129512"/><rect x="537.04" y="223.7" width="1.5" height="3.45" fill="#137413"/><rect x="537.04" y="227.15" width="1.5" height="3.62" fill="#126a12"/><rect x="537.04" y="230.77" width="1.5" height="4.23" fill="#147914"/><rect x="537.04" y="235" width="1.5" height="2.78" fill="#126312"/><rect x="537.04" y="237.78" width="1.5" height="2.96" fill="#147114"/><rect x="537.04" y="240.74" width="1.5" height="2.26" fill="#115d11"/><rect x="537.04" y="243" width="1.5" height="2.84" fill="#1e2f16"/><rect x="537.04" y="245.84" width="1.5" height="4.16" fill="#1d2c15"/><rect x="537.04" y="250" width="1.5" height="4.17" fill="#126212"/><rect x="537.04" y="254.17" width="1.5" height="3.57" fill="#125f12"/><rect x="537.04" y="257.74" width="1.5" height="1.67" fill="#126012"/><rect x="537.04" y="259.41" width="1.5" height="1.76" fill="#136813"/><rect x="537.04" y="261.17" width="1.5" height="3.83" fill="#126112"/><rect x="537.04" y="265" width="1.5" height="4.04" fill="#125f12"/><rect x="537.04" y="269.04" width="1.5" height="1.99" fill="#125b12"/><rect x="537.04" y="271.03" width="1.5" height="3.52" fill="#146a14"/><rect x="537.04" y="274.55" width="1.5" height="2.02" fill="#115811"/><rect x="537.04" y="276.57" width="1.5" height="3.43" fill="#125c12"/><rect x="537.04" y="280" width="1.5" height="4.15" fill="#136b13"/><rect x="537.04" y="284.15" width="1.5" height="3.25" fill="#126812"/><rect x="537.04" y="287.41" width="1.5" height="3.68" fill="#136a13"/><rect x="537.04" y="291.09" width="1.5" height="2.44" fill="#147414"/><rect x="537.04" y="293.53" width="1.5" height="1.88" fill="#137013"/><rect x="537.04" y="295.41" width="1.5" height="1.77" fill="#136e13"/><rect x="537.04" y="297.18" width="1.5" height="2.82" fill="#147314"/><rect x="537.04" y="300" width="1.5" height="1.76" fill="#136613"/><rect x="537.04" y="301.76" width="1.5" height="2.67" fill="#146d14"/><rect x="537.04" y="304.42" width="1.5" height="4.06" fill="#136713"/><rect x="537.04" y="308.48" width="1.5" height="2.18" fill="#126012"/><rect x="537.04" y="310.66" width="1.5" height="2.28" fill="#126312"/><rect x="537.04" y="312.94" width="1.5" height="2.06" fill="#125f12"/><rect x="537.04" y="315" width="1.5" height="3.57" fill="#137113"/><rect x="537.04" y="318.57" width="1.5" height="2.38" fill="#147914"/><rect x="537.04" y="320.95" width="1.5" height="2.16" fill="#137013"/><rect x="537.04" y="323.11" width="1.5" height="2.01" fill="#147614"/><rect x="537.04" y="325.12" width="1.5" height="3.86" fill="#126912"/><rect x="537.04" y="328.98" width="1.5" height="2.72" fill="#137513"/><rect x="537.04" y="331.7" width="1.5" height="2.33" fill="#127312"/><rect x="537.04" y="334.03" width="1.5" height="2.86" fill="#148114"/><rect x="537.04" y="336.9" width="1.5" height="3.1" fill="#137c13"/><rect x="537.04" y="340" width="1.5" height="3.15" fill="#1d2d16"/><rect x="537.04" y="343.15" width="1.5" height="1.85" fill="#203117"/><rect x="537.04" y="345" width="1.5" height="2.15" fill="#147014"/><rect x="537.04" y="347.15" width="1.5" height="2.54" fill="#136e13"/><rect x="537.04" y="349.68" width="1.5" height="3.84" fill="#126112"/><rect x="537.04" y="353.53" width="1.5" height="3.85" fill="#147214"/><rect x="537.04" y="357.37" width="1.5" height="2.37" fill="#115e11"/><rect x="537.04" y="359.75" width="1.5" height="2.75" fill="#147214"/><rect x="537.04" y="362.5" width="1.5" height="1.62" fill="#148114"/><rect x="537.04" y="364.12" width="1.5" height="1.99" fill="#137d13"/><rect x="537.04" y="366.12" width="1.5" height="1.85" fill="#126f12"/><rect x="537.04" y="367.97" width="1.5" height="3.38" fill="#126e12"/><rect x="537.04" y="371.35" width="1.5" height="2.65" fill="#148214"/><rect x="537.04" y="374" width="1.5" height="3.46" fill="#147014"/><rect x="537.04" y="377.46" width="1.5" height="4.15" fill="#115e11"/><rect x="537.04" y="381.61" width="1.5" height="1.39" fill="#136e13"/><rect x="537.04" y="383" width="1.5" height="3.39" fill="#381711"/><rect x="537.04" y="386.39" width="1.5" height="3.61" fill="#3a1812"/><rect x="537.04" y="390" width="1.5" height="2.72" fill="#1c3914"/><rect x="537.04" y="392.72" width="1.5" height="1.65" fill="#204317"/><rect x="537.04" y="394.37" width="1.5" height="1.23" fill="#204217"/><rect x="537.04" y="395.6" width="1.5" height="1.91" fill="#521313"/><rect x="537.04" y="397.51" width="1.5" height="1.95" fill="#511212"/><rect x="537.04" y="399.47" width="1.5" height="2.07" fill="#551313"/><rect x="537.04" y="401.53" width="1.5" height="1.98" fill="#561313"/><rect x="537.04" y="403.52" width="1.5" height="2.9" fill="#4c1212"/><rect x="537.04" y="406.42" width="1.5" height="3.58" fill="#521313"/><rect x="537.04" y="410" width="1.5" height="3.99" fill="#4c1212"/><rect x="537.04" y="413.99" width="1.5" height="2.16" fill="#551414"/><rect x="537.04" y="416.15" width="1.5" height="3.85" fill="#521313"/><rect x="537.04" y="420" width="1.5" height="2.31" fill="#511212"/><rect x="537.04" y="422.31" width="1.5" height="2.29" fill="#4f1111"/><rect x="537.04" y="424.6" width="1.5" height="1.71" fill="#571313"/><rect x="537.04" y="426.31" width="1.5" height="2.66" fill="#571313"/><rect x="537.04" y="428.97" width="1.5" height="2.54" fill="#4e1111"/><rect x="537.04" y="431.51" width="1.5" height="3.49" fill="#591313"/><rect x="537.04" y="435" width="1.5" height="3.01" fill="#6f1313"/><rect x="537.04" y="438.01" width="1.5" height="3.39" fill="#791414"/><rect x="537.04" y="441.41" width="1.5" height="3.87" fill="#731313"/><rect x="537.04" y="445.28" width="1.5" height="2.64" fill="#6a1212"/><rect x="537.04" y="447.92" width="1.5" height="2.69" fill="#791414"/><rect x="537.04" y="450.61" width="1.5" height="2.61" fill="#6b1212"/><rect x="537.04" y="453.22" width="1.5" height="3.78" fill="#661212"/><rect x="537.04" y="457" width="1.5" height="4.2" fill="#251b14"/><rect x="537.04" y="461.2" width="1.5" height="3.18" fill="#2c2017"/><rect x="537.04" y="464.38" width="1.5" height="2.26" fill="#291e16"/><rect x="537.04" y="466.64" width="1.5" height="2.58" fill="#271c15"/><rect x="537.04" y="469.22" width="1.5" height="2.12" fill="#261c14"/><rect x="537.04" y="471.33" width="1.5" height="2.67" fill="#2b1f17"/><rect x="537.04" y="474" width="1.5" height="3" fill="#1e7619"/><rect x="537.04" y="477" width="1.5" height="3.96" fill="#117511"/><rect x="537.04" y="480.96" width="1.5" height="3.4" fill="#127c12"/><rect x="537.04" y="484.37" width="1.5" height="3.28" fill="#138213"/><rect x="537.04" y="487.65" width="1.5" height="2.35" fill="#148d14"/><rect x="537.04" y="490" width="1.5" height="1.6" fill="#139113"/><rect x="537.04" y="491.6" width="1.5" height="3.82" fill="#138b13"/><rect x="537.04" y="495.42" width="1.5" height="3.14" fill="#149814"/><rect x="537.04" y="498.56" width="1.5" height="2.94" fill="#138e13"/><rect x="537.04" y="501.5" width="1.5" height="1.5" fill="#1c6616"/><rect x="537.04" y="503" width="1.5" height="3.53" fill="#541212"/><rect x="537.04" y="506.53" width="1.5" height="3.45" fill="#551212"/><rect x="537.04" y="509.98" width="1.5" height="2.97" fill="#581313"/><rect x="537.04" y="512.95" width="1.5" height="2.05" fill="#531212"/><rect x="537.04" y="515" width="1.5" height="3.24" fill="#1e3e16"/><rect x="537.04" y="518.24" width="1.5" height="2.18" fill="#1e3e16"/><rect x="537.04" y="520.42" width="1.5" height="2.29" fill="#204217"/><rect x="537.04" y="522.7" width="1.5" height="2.83" fill="#1f4017"/><rect x="537.04" y="525.53" width="1.5" height="3.47" fill="#1e3d16"/><rect x="537.04" y="529" width="1.5" height="2.18" fill="#129812"/><rect x="537.04" y="531.18" width="1.5" height="4.01" fill="#13a513"/><rect x="537.04" y="535.19" width="1.5" height="2.96" fill="#13a513"/><rect x="537.04" y="538.15" width="1.5" height="1.85" fill="#129b12"/><rect x="537.04" y="540" width="1.5" height="2.05" fill="#13b713"/><rect x="537.04" y="542.05" width="1.5" height="2.8" fill="#13b013"/><rect x="537.04" y="544.84" width="1.5" height="3.75" fill="#14b914"/><rect x="537.04" y="548.6" width="1.5" height="2.8" fill="#119b11"/><rect x="537.04" y="551.4" width="1.5" height="3.2" fill="#2eff2e"/><rect x="537.04" y="554.6" width="1.5" height="2.59" fill="#283017"/><rect x="537.04" y="557.19" width="1.5" height="3.73" fill="#232a14"/><rect x="537.04" y="560.92" width="1.5" height="2" fill="#242b15"/><rect x="537.04" y="562.92" width="1.5" height="2.08" fill="#252c15"/><rect x="537.04" y="565" width="1.5" height="3.69" fill="#223216"/><rect x="537.04" y="568.69" width="1.5" height="2.78" fill="#202e14"/><rect x="537.04" y="571.47" width="1.5" height="2.63" fill="#253717"/><rect x="537.04" y="574.09" width="1.5" height="3.91" fill="#223216"/><rect x="537.04" y="578" width="1.5" height="2.84" fill="#411a13"/><rect x="537.04" y="580.84" width="1.5" height="3.57" fill="#391812"/><rect x="537.04" y="584.42" width="1.5" height="3.37" fill="#3c1812"/><rect x="537.04" y="587.79" width="1.5" height="2.95" fill="#3a1812"/><rect x="537.04" y="590.74" width="1.5" height="2.56" fill="#3c1812"/><rect x="537.04" y="593.3" width="1.5" height="2.7" fill="#381711"/><rect x="537.04" y="596" width="1.5" height="2.12" fill="#5d1313"/><rect x="537.04" y="598.12" width="1.5" height="1.75" fill="#561212"/><rect x="537.04" y="599.87" width="1.5" height="3.47" fill="#581212"/><rect x="537.04" y="603.34" width="1.5" height="2.44" fill="#571212"/><rect x="537.04" y="605.78" width="1.5" height="4.22" fill="#541212"/><rect x="537.04" y="610" width="1.5" height="3.25" fill="#5a1414"/><rect x="537.04" y="613.25" width="1.5" height="2.12" fill="#521212"/><rect x="537.04" y="615.38" width="1.5" height="3.66" fill="#561313"/><rect x="537.04" y="619.04" width="1.5" height="2.57" fill="#4c1111"/><rect x="537.04" y="621.6" width="1.5" height="3.4" fill="#511212"/><rect x="537.04" y="625" width="1.5" height="3.45" fill="#561212"/><rect x="537.04" y="628.45" width="1.5" height="2.66" fill="#5c1313"/><rect x="537.04" y="631.11" width="1.5" height="3.89" fill="#571212"/><rect x="537.04" y="635" width="1.5" height="2.6" fill="#541313"/><rect x="537.04" y="637.6" width="1.5" height="4" fill="#4d1212"/><rect x="537.04" y="641.61" width="1.5" height="1.99" fill="#561313"/></g></g>
<g fill="#000"><rect x="185.6" y="150.3" width="7.1" height="493.3" fill="#000"/><polygon points="187,150.3 187,202.2 76.6,202.2 76.6,195.4 65,195.4 65,191.7 59.9,191.7 59.9,187.3 53.3,187.3 53.3,185.9 48.2,185.9 48.2,183.6 42,183.6 42,180.2 70.8,180.2 70.8,170.8 44.5,170.8 44.5,167 46.5,167 46.5,152.8 16.5,152.8 16.5,151.4 10.4,151.4 10.4,150.3" fill="#000"/><rect x="47.9" y="154.3" width="4.6" height="1.3" fill="#9a9a9a"/><rect x="47.9" y="163.6" width="4.6" height="1.3" fill="#9a9a9a"/><rect x="60.5" y="189.2" width="9" height="1.1" fill="#9a9a9a"/><rect x="77.5" y="198" width="9" height="1.1" fill="#9a9a9a"/><rect x="48.5" y="184.6" width="5" height="1" fill="#9a9a9a"/><rect x="72" y="196.9" width="4.4" height="3.5" fill="#fff"/><path d="M22.8 158.8H28.6M28.6 157.3V161.4M28.6 157.3H34.4M28.6 161.4H46.6M34.4 155.6V158.2M34.4 155.6H40.9M34.4 158.2H46.6M40.9 153.8V156.8M40.9 153.8H46.6M40.9 156.8H46.6M28.9 166.2H34.4M34.4 164.6V167.8M34.4 164.6H40.9M34.4 167.8H46.6M40.9 162.9V165.5M40.9 162.9H46.6M40.9 165.5H46.6M35 177.6H41.7M41.7 175.2V183.4M41.7 175.2H47.2M47.2 170.9V179.9H70.8M47.2 170.9H53.3M53.3 170.9V174.4M53.3 173.8H59.4M59.4 172.8V176M59.4 172.8H66M59.4 176H70.8M65 195.3H71.3M71.3 196.2V201H77M40.9 183H48.2" fill="none" stroke="#000" stroke-width="1.25"/><rect x="66.5" y="172.3" width="4.3" height="1.1" fill="#9a9a9a"/><rect x="53.9" y="170.4" width="6" height="1" fill="#9a9a9a"/><path d="M10.5 150.8V159.6M10.5 159.6H16.5M10.5 150.8H16.5M16.5 153V166.9M16.5 166.9H22.6M16.5 153H22.5M22.6 158.9V175.7M22.6 175.7H28.9M22.6 158.9H28.6M28.9 166.2V183.7M28.9 183.7H35M28.9 166.2H34.9M35 177.1V191.7M35 191.7H40.9M35 177.1H41M40.9 183V202M40.9 202H47M40.9 183H46.9M47 183.5V221M47 221H53.3M47 183.5H53M53.3 186.5V252.5M53.3 252.5H59.1M53.3 186.5H59.3M59.1 188.5V312.4M59.1 312.4H65M59.1 188.5H65.1M65 194.5V426M65 426H70.9M65 194.5H71M70.9 286.5V566M70.9 286.5H76.9" fill="none" stroke="#000" stroke-width="1.35"/></g>
<g><polygon points="76.9,280.6 82.9,280.6 82.9,276.7 88.7,276.7 88.7,271.6 94.8,271.6 94.8,263.9 101,263.9 101,260.4 107.1,260.4 107.1,256.8 113.2,256.8 113.2,253.7 119.4,253.7 119.4,250.1 125,250.1 125,246.6 131.1,246.6 131.1,243.5 137.3,243.5 137.3,239.9 143.3,239.9 143.3,236.1 149.3,236.1 149.3,232.6 155.2,232.6 155.2,227.7 161.1,227.7 161.1,221.1 167,221.1 167,220.1 173.3,220.1 173.3,217.8 179.5,217.8 179.5,213.5 185.5,213.5 185.5,213.5 187,213.5 187,367.6 185.5,368.3 185.5,367.3 178.1,367.3 178.1,364.7 172.2,364.7 172.2,363.4 166.3,363.4 166.3,362.1 160.4,362.1 160.4,360.7 154.5,360.7 154.5,359.4 148.6,359.4 148.6,358.1 142.7,358.1 142.7,356.8 136.7,356.8 136.7,355.5 130.8,355.5 130.8,353.6 125.6,353.6 124.9,353.5 124.9,349.6 119,349.6 119,339.1 112.8,339.1 112.8,323.8 107,323.8 107,311.2 100.4,311.2 100.4,305.3 94.6,305.3 94.6,300.1 88.7,300.1 88.7,296.1 82.8,296.1 82.8,292.2 76.9,292.2" fill="#000"/><rect x="78.4" y="282.2" width="4.6" height="8.6" fill="#fff"/><rect x="84.3" y="278.2" width="4.6" height="8" fill="#fff"/><rect x="90.1" y="273.1" width="4.7" height="9.6" fill="#fff"/><rect x="96.2" y="265.4" width="4.6" height="14.4" fill="#fff"/><rect x="100.8" y="273.4" width="18.5" height="6.2" fill="#fff"/><rect x="119.5" y="275.2" width="6" height="1.2" fill="#fff"/><rect x="102.4" y="261.9" width="4.6" height="6.6" fill="#fff"/><rect x="108.5" y="258.3" width="4.7" height="6.2" fill="#fff"/><rect x="114.6" y="255.2" width="4.8" height="5.2" fill="#fff"/><rect x="120.8" y="251.6" width="4.2" height="5.8" fill="#fff"/><rect x="120.8" y="258.5" width="4.6" height="5.5" fill="#fff"/><rect x="126.4" y="248.1" width="4.6" height="7.1" fill="#fff"/><rect x="132.5" y="245" width="4.6" height="5.3" fill="#fff"/><rect x="138.7" y="241.4" width="4.6" height="6.8" fill="#fff"/><rect x="144.7" y="237.6" width="4.6" height="7.9" fill="#fff"/><rect x="150.8" y="234.1" width="4.4" height="7.7" fill="#fff"/><rect x="156.6" y="229.2" width="4.6" height="9.7" fill="#fff"/><rect x="162.6" y="222.7" width="4.5" height="12.6" fill="#fff"/><rect x="168.4" y="224.9" width="5.6" height="2.8" fill="#fff"/><rect x="168.4" y="227.9" width="17.4" height="2.8" fill="#fff"/><rect x="168.4" y="230.7" width="2.6" height="3.6" fill="#fff"/><rect x="168.6" y="221.7" width="4.6" height="2.3" fill="#fff"/><rect x="174.7" y="219.2" width="4.9" height="3.6" fill="#fff"/><rect x="180.9" y="215.1" width="4.6" height="6.4" fill="#fff"/><rect x="78.4" y="282.2" width="4.6" height="8.6" fill="#fff"/><rect x="84.2" y="290.4" width="4.6" height="4.4" fill="#fff"/><rect x="90.1" y="294.1" width="4.6" height="4.6" fill="#fff"/><rect x="96" y="296.8" width="4.6" height="7.2" fill="#fff"/><rect x="102" y="299.5" width="4.6" height="10.4" fill="#fff"/><rect x="108.4" y="300.5" width="4.6" height="22.2" fill="#fff"/><rect x="114.2" y="309.2" width="4.6" height="41" fill="#fff"/><rect x="120.4" y="305.2" width="4.4" height="7.2" fill="#fff"/><rect x="120.4" y="313.6" width="11.2" height="14" fill="#fff"/><rect x="126.2" y="302.7" width="4.5" height="2.8" fill="#fff"/><rect x="126.2" y="309.8" width="5.2" height="8" fill="#fff"/><rect x="132.8" y="312.9" width="5" height="12.2" fill="#fff"/><rect x="138.7" y="310.3" width="4.4" height="4.3" fill="#fff"/><rect x="138.7" y="315.6" width="5.4" height="9.4" fill="#fff"/><rect x="144.4" y="313.2" width="5" height="7" fill="#fff"/><rect x="144.4" y="321" width="5.6" height="3.4" fill="#fff"/><rect x="114.2" y="300.5" width="16.5" height="3.2" fill="#fff"/><rect x="120.4" y="329.4" width="4.6" height="18.8" fill="#fff"/><rect x="125.2" y="329.4" width="18.2" height="11" fill="#fff"/><rect x="125.2" y="340.4" width="5.6" height="4.6" fill="#fff"/><rect x="132.4" y="341.5" width="5.2" height="6.6" fill="#fff"/><rect x="138.8" y="336.4" width="4.8" height="9" fill="#fff"/><rect x="144.2" y="331.2" width="5.6" height="5.4" fill="#fff"/><rect x="144.2" y="337.4" width="5.6" height="8" fill="#fff"/><polygon points="144.6,312.3 173.3,312.3 173.3,314.3 179.5,314.3 179.5,315.4 185.8,315.4 185.8,316.9 174,317.9 168,319 162,320.4 156,323.4 150,325.7 144.6,325.7" fill="#fff"/><polygon points="144.6,331.4 173.3,331.4 173.3,333.4 185.8,334.4 185.8,341.9 168.5,341.9 168.5,342.8 156,342.8 156,344.4 150,344.4 144.6,346.2" fill="#fff"/><path d="M149.7 325.7V317.9H155.7V323.8H149.7M155.7 320.4V316.9H161.8V320.4M161.8 319V315.7H167.8V319M167.8 317.9V314.6H173.6V317.9M173.6 316.8V314.4M149.8 344.2V338.6H155.7V344.2M155.7 342.8V335.4H161.9V342.8M161.9 337.4V333.6H168.2V337.4H161.9M168.2 341.9V335.6H174.4V338.5H180.2V341.9M174.4 335.6V333.9" fill="none" stroke="#000" stroke-width="1.2"/><rect x="127" y="351" width="3.6" height="1.5" fill="#fff"/><rect x="132.2" y="352.9" width="4.3" height="1.5" fill="#fff"/><rect x="138.1" y="354.2" width="4.4" height="1.5" fill="#fff"/><rect x="144.1" y="355.5" width="4.3" height="1.5" fill="#fff"/><rect x="150" y="356.8" width="4.3" height="1.5" fill="#fff"/><rect x="155.9" y="358.1" width="4.3" height="1.5" fill="#fff"/><rect x="161.8" y="359.5" width="4.3" height="1.5" fill="#fff"/><rect x="167.7" y="360.8" width="4.3" height="1.5" fill="#fff"/><rect x="173.6" y="362.1" width="4.3" height="1.5" fill="#fff"/><rect x="179.5" y="364.7" width="5.8" height="1.5" fill="#fff"/><rect x="96.5" y="281.5" width="7" height="1.1" fill="#9a9a9a"/><rect x="102.5" y="269.5" width="6" height="1.1" fill="#9a9a9a"/><rect x="108.5" y="265.2" width="6" height="1.1" fill="#9a9a9a"/><rect x="114.5" y="261.2" width="6" height="1.1" fill="#9a9a9a"/><rect x="126.5" y="256.2" width="6" height="1.1" fill="#9a9a9a"/><rect x="132.5" y="251" width="6" height="1.1" fill="#9a9a9a"/><rect x="138.5" y="249" width="6" height="1.1" fill="#9a9a9a"/><rect x="144.5" y="246.2" width="6" height="1.1" fill="#9a9a9a"/><rect x="150.5" y="243" width="6" height="1.1" fill="#9a9a9a"/><rect x="156.5" y="240" width="6" height="1.1" fill="#9a9a9a"/><rect x="162.5" y="236.8" width="6" height="1.1" fill="#9a9a9a"/><rect x="168.5" y="235.6" width="6" height="1.1" fill="#9a9a9a"/><rect x="174.5" y="233.5" width="6" height="1.1" fill="#9a9a9a"/><rect x="180.5" y="232.5" width="5" height="1.1" fill="#9a9a9a"/><rect x="84.5" y="287.4" width="6" height="1.1" fill="#9a9a9a"/><rect x="90.5" y="291" width="6" height="1.1" fill="#9a9a9a"/><rect x="96.5" y="293.3" width="6" height="1.1" fill="#9a9a9a"/></g>
<g><polygon points="88.9,555 187,555 187,605.6 185.8,605.4 144.9,596.9 143.5,606.8 137.4,606.8 137.4,600.4 131.3,600.4 131.3,594.7 125.2,594.7 125.2,591.6 119.6,591.6 119.6,589.5 113.4,589.5 113.4,587.5 106.8,587.5 106.8,586 100.6,586 100.6,583.9 94.5,583.9 94.5,581.4 88.4,581.4" fill="#000"/><rect x="89.8" y="577" width="4.7" height="3" fill="#fff"/><rect x="95.9" y="580" width="4.7" height="2.5" fill="#fff"/><rect x="102" y="582.6" width="4.8" height="2" fill="#fff"/><rect x="108.2" y="584.1" width="5.2" height="2" fill="#fff"/><rect x="114.8" y="585.7" width="4.8" height="2.4" fill="#fff"/><rect x="121" y="587.2" width="4.2" height="3" fill="#fff"/><rect x="126.6" y="588.2" width="4.7" height="5.1" fill="#fff"/><rect x="132.7" y="590.8" width="4.7" height="8.2" fill="#fff"/><rect x="138.8" y="593.8" width="4.7" height="11.6" fill="#fff"/><rect x="90.6" y="569" width="4.3" height="4.3" fill="#fff"/><rect x="97.1" y="566.9" width="3.2" height="3.2" fill="#fff"/><rect x="102.9" y="565.8" width="3.2" height="1.6" fill="#fff"/><rect x="90.3" y="556.5" width="4.6" height="1.2" fill="#fff"/><rect x="90.3" y="559.6" width="4.6" height="1.2" fill="#fff"/><rect x="96.5" y="563.6" width="8" height="1.3" fill="#fff"/><rect x="97" y="573.4" width="3.4" height="1.2" fill="#fff"/><rect x="90.4" y="563.5" width="4.6" height="2" fill="#fff"/><polygon points="161.2,608.3 187,608.3 187,623.4 179.8,623.4 179.8,622.3 173.5,622.3 173.5,619.4 167.5,619.4 167.5,616.5 161.2,616.5" fill="#000"/><rect x="162.3" y="612.2" width="4.7" height="3.6" fill="#fff"/><rect x="168.1" y="615" width="5.1" height="3.7" fill="#fff"/><rect x="174" y="618.4" width="5.4" height="3.2" fill="#fff"/><rect x="180.5" y="621.3" width="5.1" height="1.4" fill="#fff"/><path d="M71 566H77.3M77.3 558.4V574.4M77.3 558.4H83.4M83.4 556.8V560.9M83.4 556.8H90M83.4 560.9H90M77.3 574.4H83.4M83.4 571.2V579H89.5M83.4 571.2H90M144 596.2V618H150.2M150.2 607.8H187M150.2 607.8V628.2H156.2M156.2 610.3H162M156.2 610.3V643.1H186.5" fill="none" stroke="#000" stroke-width="1.35"/></g>
<g font-family="&quot;Liberation Sans&quot;, sans-serif" fill="#111"><g stroke="#111" stroke-width="0.18"><text x="605.9" y="144.7" font-size="10.9" textLength="59.4" lengthAdjust="spacing">log2(ratio)</text><text x="657.6" y="179.6" font-size="11.2" textLength="18.8" lengthAdjust="spacingAndGlyphs">4.0</text><text x="657.6" y="232.5" font-size="11.2" textLength="18.8" lengthAdjust="spacingAndGlyphs">0.0</text><text x="657.6" y="296" font-size="11.2" textLength="22.6" lengthAdjust="spacingAndGlyphs">-4.0</text><text x="634.6" y="321.6" font-size="12" textLength="25" lengthAdjust="spacingAndGlyphs">CTR</text><text x="633.6" y="334.5" font-size="12" textLength="22.6" lengthAdjust="spacingAndGlyphs">48h</text><text x="633.6" y="346.7" font-size="12" textLength="22.6" lengthAdjust="spacingAndGlyphs">72h</text></g><rect x="627.7" y="167.1" width="24.4" height="7.01" fill="#ff0000"/><rect x="627.7" y="173.41" width="24.4" height="7.01" fill="#e80202"/><rect x="627.7" y="179.73" width="24.4" height="7.01" fill="#d00404"/><rect x="627.7" y="186.04" width="24.4" height="7.01" fill="#b90707"/><rect x="627.7" y="192.36" width="24.4" height="7.01" fill="#a20909"/><rect x="627.7" y="198.67" width="24.4" height="7.01" fill="#8a0b0b"/><rect x="627.7" y="204.99" width="24.4" height="7.01" fill="#730d0d"/><rect x="627.7" y="211.3" width="24.4" height="7.01" fill="#5c0f0f"/><rect x="627.7" y="217.61" width="24.4" height="7.01" fill="#451212"/><rect x="627.7" y="223.93" width="24.4" height="7.01" fill="#2d1414"/><rect x="627.7" y="230.24" width="24.4" height="7.01" fill="#161618"/><rect x="627.7" y="236.56" width="24.4" height="7.01" fill="#142d14"/><rect x="627.7" y="242.87" width="24.4" height="7.01" fill="#124512"/><rect x="627.7" y="249.19" width="24.4" height="7.01" fill="#0f5c0f"/><rect x="627.7" y="255.5" width="24.4" height="7.01" fill="#0d730d"/><rect x="627.7" y="261.81" width="24.4" height="7.01" fill="#0b8a0b"/><rect x="627.7" y="268.13" width="24.4" height="7.01" fill="#09a209"/><rect x="627.7" y="274.44" width="24.4" height="7.01" fill="#07b907"/><rect x="627.7" y="280.76" width="24.4" height="7.01" fill="#04d004"/><rect x="627.7" y="287.07" width="24.4" height="7.01" fill="#02e802"/><rect x="627.7" y="293.39" width="24.4" height="6.31" fill="#00ff00"/><rect x="591.4" y="312.6" width="30.4" height="6.1" fill="#ef6b73"/><rect x="591.4" y="325.5" width="30.4" height="6.1" fill="#ffa51e"/><rect x="591.4" y="338" width="30.4" height="6.1" fill="#979bf5"/></g>
</g>
</svg>
</body></html>
